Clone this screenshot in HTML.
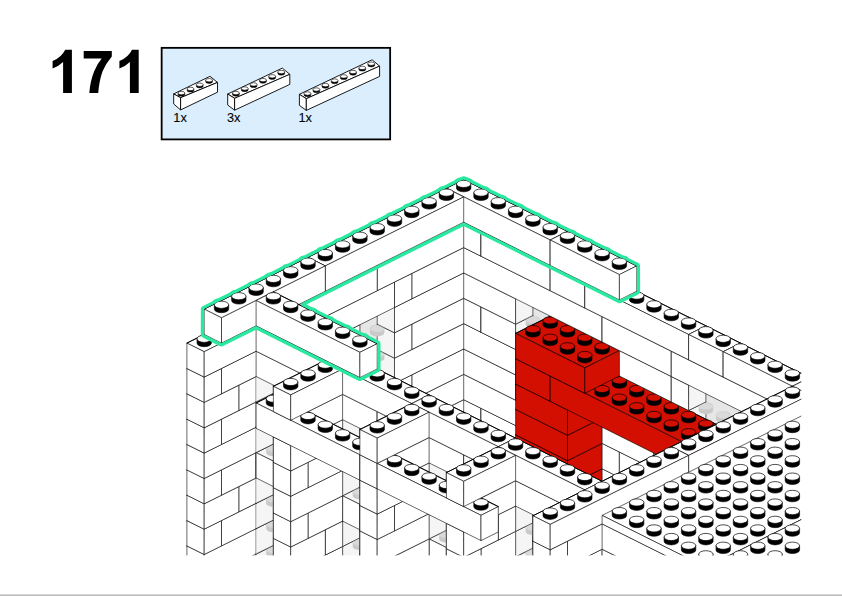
<!DOCTYPE html>
<html><head><meta charset="utf-8"><title>171</title>
<style>
html,body{margin:0;padding:0;background:#fff;}
body{width:842px;height:596px;position:relative;overflow:hidden;font-family:"Liberation Sans",sans-serif;}
</style></head><body>
<svg width="842" height="596" viewBox="0 0 842 596" style="position:absolute;left:0;top:0"><defs>
<clipPath id="cp"><rect x="180" y="0" width="623" height="557"/></clipPath>
<g id="s"><path d="M-7.2 -4.3 L-7.2 0 A7.2 3.6 0 0 0 7.2 0 L7.2 -4.3 Z" fill="#000" stroke="#000" stroke-width="0.6"/><ellipse cx="0" cy="-4.3" rx="7.2" ry="3.6" fill="#fff" stroke="#000" stroke-width="0.7"/></g>
<g id="r"><path d="M-7.2 -4.3 L-7.2 0 A7.2 3.6 0 0 0 7.2 0 L7.2 -4.3 Z" fill="#000" stroke="#000" stroke-width="0.6"/><ellipse cx="0" cy="-4.3" rx="7.2" ry="3.6" fill="#d20f00" stroke="#000" stroke-width="0.7"/></g>
<g id="g"><path d="M-7.2 -4.3 L-7.2 0 A7.2 3.6 0 0 0 7.2 0 L7.2 -4.3 Z" fill="#cfcfcf" stroke="none"/><ellipse cx="0" cy="-4.3" rx="7.2" ry="3.6" fill="#e2e2e2" stroke="#d4d4d4" stroke-width="0.5"/></g>
</defs><g clip-path="url(#cp)" stroke-linejoin="round"><polygon points="394.5,569 463.7,534.5 481,543.1 411.8,577.7" fill="#fff" stroke="#000" stroke-width="0.6"/><polygon points="394.5,569 411.8,577.7 411.8,603 394.5,594.4" fill="#fff" stroke="#000" stroke-width="0.6"/><polygon points="411.8,577.7 481,543.1 481,568.5 411.8,603" fill="#fff" stroke="#000" stroke-width="0.6"/><path d="M463.7 534.5L446.4 543.1M446.4 543.1L429.1 551.8M429.1 551.8L411.8 560.4M411.8 560.4L394.5 569M463.7 534.5L481 543.1" stroke="#000" stroke-width="1.0" stroke-linecap="round" fill="none"/>
<polygon points="463.7,551.8 481,543.1 532.9,569 515.6,577.7" fill="#fff" stroke="#000" stroke-width="0.6"/><polygon points="463.7,551.8 515.6,577.7 515.6,603 463.7,577.1" fill="#fff" stroke="#000" stroke-width="0.6"/><polygon points="515.6,577.7 532.9,569 532.9,594.4 515.6,603" fill="#fff" stroke="#000" stroke-width="0.6"/><path d="M481 543.1L498.3 551.8M498.3 551.8L515.6 560.4M515.6 560.4L532.9 569" stroke="#000" stroke-width="1.0" stroke-linecap="round" fill="none"/>
<polygon points="359.9,561 463.7,509.1 481,517.8 377.2,569.6" fill="#fff" stroke="#000" stroke-width="0.6"/><polygon points="359.9,561 377.2,569.6 377.2,594.9 359.9,586.3" fill="#fff" stroke="#000" stroke-width="0.6"/><polygon points="377.2,569.6 481,517.8 481,543.1 377.2,594.9" fill="#fff" stroke="#000" stroke-width="0.6"/><path d="M463.7 509.1L446.4 517.8M446.4 517.8L429.1 526.4M429.1 526.4L411.8 535.1M411.8 535.1L394.5 543.7M394.5 543.7L377.2 552.3M377.2 552.3L359.9 561M463.7 509.1L481 517.8" stroke="#000" stroke-width="1.0" stroke-linecap="round" fill="none"/>
<polygon points="463.7,526.4 481,517.8 567.5,561 550.2,569.6" fill="#fff" stroke="#000" stroke-width="0.6"/><polygon points="463.7,526.4 550.2,569.6 550.2,594.9 463.7,551.8" fill="#fff" stroke="#000" stroke-width="0.6"/><polygon points="550.2,569.6 567.5,561 567.5,586.3 550.2,594.9" fill="#fff" stroke="#000" stroke-width="0.6"/><path d="M481 517.8L498.3 526.4M498.3 526.4L515.6 535.1M515.6 535.1L532.9 543.7M532.9 543.7L550.2 552.3M550.2 552.3L567.5 561" stroke="#000" stroke-width="1.0" stroke-linecap="round" fill="none"/>
<polygon points="394.5,518.3 463.7,483.8 481,492.4 411.8,527" fill="#fff" stroke="#000" stroke-width="0.6"/><polygon points="394.5,518.3 411.8,527 411.8,552.3 394.5,543.7" fill="#fff" stroke="#000" stroke-width="0.6"/><polygon points="411.8,527 481,492.4 481,517.8 411.8,552.3" fill="#fff" stroke="#000" stroke-width="0.6"/><path d="M463.7 483.8L446.4 492.4M446.4 492.4L429.1 501.1M429.1 501.1L411.8 509.7M411.8 509.7L394.5 518.3M463.7 483.8L481 492.4" stroke="#000" stroke-width="1.0" stroke-linecap="round" fill="none"/>
<polygon points="463.7,501.1 481,492.4 532.9,518.3 515.6,527" fill="#fff" stroke="#000" stroke-width="0.6"/><polygon points="463.7,501.1 515.6,527 515.6,552.3 463.7,526.4" fill="#fff" stroke="#000" stroke-width="0.6"/><polygon points="515.6,527 532.9,518.3 532.9,543.7 515.6,552.3" fill="#fff" stroke="#000" stroke-width="0.6"/><path d="M481 492.4L498.3 501.1M498.3 501.1L515.6 509.7M515.6 509.7L532.9 518.3" stroke="#000" stroke-width="1.0" stroke-linecap="round" fill="none"/>
<polygon points="325.3,552.9 394.5,518.3 411.8,527 342.6,561.5" fill="#fff" stroke="#000" stroke-width="0.6"/><polygon points="325.3,552.9 342.6,561.5 342.6,586.9 325.3,578.2" fill="#fff" stroke="#000" stroke-width="0.6"/><polygon points="342.6,561.5 411.8,527 411.8,552.3 342.6,586.9" fill="#fff" stroke="#000" stroke-width="0.6"/><path d="M394.5 518.3L377.2 527M377.2 527L359.9 535.6M359.9 535.6L342.6 544.2M342.6 544.2L325.3 552.9" stroke="#000" stroke-width="1.0" stroke-linecap="round" fill="none"/>
<polygon points="515.6,527 532.9,518.3 602.1,552.9 584.8,561.5" fill="#fff" stroke="#000" stroke-width="0.6"/><polygon points="515.6,527 584.8,561.5 584.8,586.9 515.6,552.3" fill="#fff" stroke="#000" stroke-width="0.6"/><polygon points="584.8,561.5 602.1,552.9 602.1,578.2 584.8,586.9" fill="#fff" stroke="#000" stroke-width="0.6"/><path d="M532.9 518.3L550.2 527M550.2 527L567.5 535.6M567.5 535.6L584.8 544.2M584.8 544.2L602.1 552.9" stroke="#000" stroke-width="1.0" stroke-linecap="round" fill="none"/>
<polygon points="256.1,587.4 325.3,552.9 342.6,561.5 273.4,596.1" fill="#fff" stroke="#000" stroke-width="0.6"/><polygon points="256.1,587.4 273.4,596.1 273.4,621.4 256.1,612.8" fill="#fff" stroke="#000" stroke-width="0.6"/><polygon points="273.4,596.1 342.6,561.5 342.6,586.9 273.4,621.4" fill="#fff" stroke="#000" stroke-width="0.6"/><path d="M325.3 552.9L308 561.5M308 561.5L290.7 570.2M290.7 570.2L273.4 578.8M273.4 578.8L256.1 587.4" stroke="#000" stroke-width="1.0" stroke-linecap="round" fill="none"/>
<polygon points="584.8,561.5 602.1,552.9 671.3,587.4 654,596.1" fill="#fff" stroke="#000" stroke-width="0.6"/><polygon points="584.8,561.5 654,596.1 654,621.4 584.8,586.9" fill="#fff" stroke="#000" stroke-width="0.6"/><polygon points="654,596.1 671.3,587.4 671.3,612.8 654,621.4" fill="#fff" stroke="#000" stroke-width="0.6"/><path d="M602.1 552.9L619.4 561.5M619.4 561.5L636.7 570.2M636.7 570.2L654 578.8M654 578.8L671.3 587.4" stroke="#000" stroke-width="1.0" stroke-linecap="round" fill="none"/>
<polygon points="515.6,561.5 550.2,544.2 602.1,570.2 567.5,587.4" fill="#d20f00" stroke="#000" stroke-width="0.6"/><polygon points="515.6,561.5 567.5,587.4 567.5,612.8 515.6,586.9" fill="#d20f00" stroke="#000" stroke-width="0.6"/><polygon points="567.5,587.4 602.1,570.2 602.1,595.5 567.5,612.8" fill="#d20f00" stroke="#000" stroke-width="0.6"/><path d="M550.2 544.2L532.9 552.9M532.9 552.9L515.6 561.5" stroke="#000" stroke-width="1.0" stroke-linecap="round" fill="none"/>
<polygon points="359.9,510.3 463.7,458.5 481,467.1 377.2,518.9" fill="#fff" stroke="#000" stroke-width="0.6"/><polygon points="359.9,510.3 377.2,518.9 377.2,544.2 359.9,535.6" fill="#fff" stroke="#000" stroke-width="0.6"/><polygon points="377.2,518.9 481,467.1 481,492.4 377.2,544.2" fill="#fff" stroke="#000" stroke-width="0.6"/><path d="M463.7 458.5L446.4 467.1M446.4 467.1L429.1 475.7M429.1 475.7L411.8 484.4M411.8 484.4L394.5 493M394.5 493L377.2 501.6M377.2 501.6L359.9 510.3M463.7 458.5L481 467.1" stroke="#000" stroke-width="1.0" stroke-linecap="round" fill="none"/>
<polygon points="463.7,475.7 481,467.1 567.5,510.3 550.2,518.9" fill="#fff" stroke="#000" stroke-width="0.6"/><polygon points="463.7,475.7 550.2,518.9 550.2,544.2 463.7,501.1" fill="#fff" stroke="#000" stroke-width="0.6"/><polygon points="550.2,518.9 567.5,510.3 567.5,535.6 550.2,544.2" fill="#fff" stroke="#000" stroke-width="0.6"/><path d="M481 467.1L498.3 475.7M498.3 475.7L515.6 484.4M515.6 484.4L532.9 493M532.9 493L550.2 501.6M550.2 501.6L567.5 510.3" stroke="#000" stroke-width="1.0" stroke-linecap="round" fill="none"/>
<polygon points="290.7,544.8 359.9,510.3 377.2,518.9 308,553.4" fill="#fff" stroke="#000" stroke-width="0.6"/><polygon points="290.7,544.8 308,553.4 308,578.8 290.7,570.2" fill="#fff" stroke="#000" stroke-width="0.6"/><polygon points="308,553.4 377.2,518.9 377.2,544.2 308,578.8" fill="#fff" stroke="#000" stroke-width="0.6"/><path d="M359.9 510.3L342.6 518.9M342.6 518.9L325.3 527.5M325.3 527.5L308 536.2M308 536.2L290.7 544.8" stroke="#000" stroke-width="1.0" stroke-linecap="round" fill="none"/>
<polygon points="550.2,518.9 567.5,510.3 636.7,544.8 619.4,553.4" fill="#fff" stroke="#000" stroke-width="0.6"/><polygon points="550.2,518.9 619.4,553.4 619.4,578.8 550.2,544.2" fill="#fff" stroke="#000" stroke-width="0.6"/><polygon points="619.4,553.4 636.7,544.8 636.7,570.2 619.4,578.8" fill="#fff" stroke="#000" stroke-width="0.6"/><path d="M567.5 510.3L584.8 518.9M584.8 518.9L602.1 527.5M602.1 527.5L619.4 536.2M619.4 536.2L636.7 544.8" stroke="#000" stroke-width="1.0" stroke-linecap="round" fill="none"/>
<polygon points="515.6,536.2 550.2,518.9 602.1,544.8 567.5,562.1" fill="#d20f00" stroke="#000" stroke-width="0.6"/><polygon points="515.6,536.2 567.5,562.1 567.5,587.4 515.6,561.5" fill="#d20f00" stroke="#000" stroke-width="0.6"/><polygon points="567.5,562.1 602.1,544.8 602.1,570.2 567.5,587.4" fill="#d20f00" stroke="#000" stroke-width="0.6"/><path d="M550.2 518.9L532.9 527.5M532.9 527.5L515.6 536.2" stroke="#000" stroke-width="1.0" stroke-linecap="round" fill="none"/>
<polygon points="221.5,579.3 290.7,544.8 308,553.4 238.8,588" fill="#fff" stroke="#000" stroke-width="0.6"/><polygon points="221.5,579.3 238.8,588 238.8,613.3 221.5,604.7" fill="#fff" stroke="#000" stroke-width="0.6"/><polygon points="238.8,588 308,553.4 308,578.8 238.8,613.3" fill="#fff" stroke="#000" stroke-width="0.6"/><path d="M290.7 544.8L273.4 553.4M273.4 553.4L256.1 562.1M256.1 562.1L238.8 570.7M238.8 570.7L221.5 579.3" stroke="#000" stroke-width="1.0" stroke-linecap="round" fill="none"/>
<polygon points="619.4,553.4 636.7,544.8 705.9,579.3 688.6,588" fill="#fff" stroke="#000" stroke-width="0.6"/><polygon points="619.4,553.4 688.6,588 688.6,613.3 619.4,578.8" fill="#fff" stroke="#000" stroke-width="0.6"/><polygon points="688.6,588 705.9,579.3 705.9,604.7 688.6,613.3" fill="#fff" stroke="#000" stroke-width="0.6"/><path d="M636.7 544.8L654 553.4M654 553.4L671.3 562.1M671.3 562.1L688.6 570.7M688.6 570.7L705.9 579.3" stroke="#000" stroke-width="1.0" stroke-linecap="round" fill="none"/>
<polygon points="394.5,467.6 463.7,433.1 481,441.7 411.8,476.3" fill="#fff" stroke="#000" stroke-width="0.6"/><polygon points="394.5,467.6 411.8,476.3 411.8,501.6 394.5,493" fill="#fff" stroke="#000" stroke-width="0.6"/><polygon points="411.8,476.3 481,441.7 481,467.1 411.8,501.6" fill="#fff" stroke="#000" stroke-width="0.6"/><path d="M463.7 433.1L446.4 441.7M446.4 441.7L429.1 450.4M429.1 450.4L411.8 459M411.8 459L394.5 467.6M463.7 433.1L481 441.7" stroke="#000" stroke-width="1.0" stroke-linecap="round" fill="none"/>
<polygon points="463.7,450.4 481,441.7 532.9,467.6 515.6,476.3" fill="#fff" stroke="#000" stroke-width="0.6"/><polygon points="463.7,450.4 515.6,476.3 515.6,501.6 463.7,475.7" fill="#fff" stroke="#000" stroke-width="0.6"/><polygon points="515.6,476.3 532.9,467.6 532.9,493 515.6,501.6" fill="#fff" stroke="#000" stroke-width="0.6"/><path d="M481 441.7L498.3 450.4M498.3 450.4L515.6 459M515.6 459L532.9 467.6" stroke="#000" stroke-width="1.0" stroke-linecap="round" fill="none"/>
<polygon points="325.3,502.2 394.5,467.6 411.8,476.3 342.6,510.8" fill="#fff" stroke="#000" stroke-width="0.6"/><polygon points="325.3,502.2 342.6,510.8 342.6,536.2 325.3,527.5" fill="#fff" stroke="#000" stroke-width="0.6"/><polygon points="342.6,510.8 411.8,476.3 411.8,501.6 342.6,536.2" fill="#fff" stroke="#000" stroke-width="0.6"/><path d="M394.5 467.6L377.2 476.3M377.2 476.3L359.9 484.9M359.9 484.9L342.6 493.5M342.6 493.5L325.3 502.2" stroke="#000" stroke-width="1.0" stroke-linecap="round" fill="none"/>
<polygon points="515.6,476.3 532.9,467.6 602.1,502.2 584.8,510.8" fill="#fff" stroke="#000" stroke-width="0.6"/><polygon points="515.6,476.3 584.8,510.8 584.8,536.2 515.6,501.6" fill="#fff" stroke="#000" stroke-width="0.6"/><polygon points="584.8,510.8 602.1,502.2 602.1,527.5 584.8,536.2" fill="#fff" stroke="#000" stroke-width="0.6"/><path d="M532.9 467.6L550.2 476.3M550.2 476.3L567.5 484.9M567.5 484.9L584.8 493.5M584.8 493.5L602.1 502.2" stroke="#000" stroke-width="1.0" stroke-linecap="round" fill="none"/>
<polygon points="256.1,536.7 325.3,502.2 342.6,510.8 273.4,545.4" fill="#fff" stroke="#000" stroke-width="0.6"/><polygon points="256.1,536.7 273.4,545.4 273.4,570.7 256.1,562.1" fill="#fff" stroke="#000" stroke-width="0.6"/><polygon points="273.4,545.4 342.6,510.8 342.6,536.2 273.4,570.7" fill="#fff" stroke="#000" stroke-width="0.6"/><path d="M325.3 502.2L308 510.8M308 510.8L290.7 519.5M290.7 519.5L273.4 528.1M273.4 528.1L256.1 536.7" stroke="#000" stroke-width="1.0" stroke-linecap="round" fill="none"/>
<polygon points="584.8,510.8 602.1,502.2 671.3,536.7 654,545.4" fill="#fff" stroke="#000" stroke-width="0.6"/><polygon points="584.8,510.8 654,545.4 654,570.7 584.8,536.2" fill="#fff" stroke="#000" stroke-width="0.6"/><polygon points="654,545.4 671.3,536.7 671.3,562.1 654,570.7" fill="#fff" stroke="#000" stroke-width="0.6"/><path d="M602.1 502.2L619.4 510.8M619.4 510.8L636.7 519.5M636.7 519.5L654 528.1M654 528.1L671.3 536.7" stroke="#000" stroke-width="1.0" stroke-linecap="round" fill="none"/>
<polygon points="515.6,510.8 550.2,493.5 602.1,519.5 567.5,536.7" fill="#d20f00" stroke="#000" stroke-width="0.6"/><polygon points="515.6,510.8 567.5,536.7 567.5,562.1 515.6,536.2" fill="#d20f00" stroke="#000" stroke-width="0.6"/><polygon points="567.5,536.7 602.1,519.5 602.1,544.8 567.5,562.1" fill="#d20f00" stroke="#000" stroke-width="0.6"/><path d="M550.2 493.5L532.9 502.2M532.9 502.2L515.6 510.8" stroke="#000" stroke-width="1.0" stroke-linecap="round" fill="none"/>
<polygon points="204.2,562.6 256.1,536.7 273.4,545.4 221.5,571.3" fill="#fff" stroke="#000" stroke-width="0.6"/><polygon points="204.2,562.6 221.5,571.3 221.5,596.6 204.2,588" fill="#fff" stroke="#000" stroke-width="0.6"/><polygon points="221.5,571.3 273.4,545.4 273.4,570.7 221.5,596.6" fill="#fff" stroke="#000" stroke-width="0.6"/><path d="M256.1 536.7L238.8 545.4M238.8 545.4L221.5 554M221.5 554L204.2 562.6" stroke="#000" stroke-width="1.0" stroke-linecap="round" fill="none"/>
<polygon points="654,545.4 671.3,536.7 740.5,571.3 723.2,579.9" fill="#fff" stroke="#000" stroke-width="0.6"/><polygon points="654,545.4 723.2,579.9 723.2,605.2 654,570.7" fill="#fff" stroke="#000" stroke-width="0.6"/><polygon points="723.2,579.9 740.5,571.3 740.5,596.6 723.2,605.2" fill="#fff" stroke="#000" stroke-width="0.6"/><path d="M671.3 536.7L688.6 545.4M688.6 545.4L705.9 554M705.9 554L723.2 562.6M723.2 562.6L740.5 571.3" stroke="#000" stroke-width="1.0" stroke-linecap="round" fill="none"/>
<polygon points="256.1,554 273.4,545.4 273.4,545.4 256.1,554" fill="#fff" stroke="#000" stroke-width="0.6"/><polygon points="256.1,554 256.1,554 256.1,579.3 256.1,579.3" fill="#fff" stroke="#000" stroke-width="0.6"/><polygon points="256.1,554 273.4,545.4 273.4,570.7 256.1,579.3" fill="#fff" stroke="#000" stroke-width="0.6"/>
<polygon points="273.4,545.4 290.7,554 290.7,579.3 273.4,570.7" fill="rgba(130,130,130,0.13)" stroke="none" stroke-width="0"/><polygon points="256.1,554 273.4,562.6 273.4,588 256.1,579.3" fill="rgba(140,140,140,0.09)" stroke="none" stroke-width="0"/><polygon points="273.4,562.6 290.7,554 290.7,579.3 273.4,588" fill="rgba(140,140,140,0.09)" stroke="none" stroke-width="0"/><path d="M256.1 554.6V578.7" stroke="#fff" stroke-width="1.3"/><path d="M256.1 554V579.3" stroke="rgba(120,120,120,0.28)" stroke-width="0.6"/><path d="M273.4 562.6V588" stroke="rgba(120,120,120,0.28)" stroke-width="0.6"/><path d="M290.7 554V579.3" stroke="rgba(120,120,120,0.28)" stroke-width="0.6"/><path d="M273.4 545.4V570.7" stroke="rgba(120,120,120,0.28)" stroke-width="0.6"/><use href="#g" x="273.4" y="554"/>
<polygon points="273.4,562.6 290.7,554 308,562.6 290.7,571.3" fill="#fff" stroke="#000" stroke-width="0.6"/><polygon points="273.4,562.6 290.7,571.3 290.7,596.6 273.4,588" fill="#fff" stroke="#000" stroke-width="0.6"/><polygon points="290.7,571.3 308,562.6 308,588 290.7,596.6" fill="#fff" stroke="#000" stroke-width="0.6"/><path d="M290.7 554L273.4 562.6M290.7 554L308 562.6" stroke="#000" stroke-width="1.0" stroke-linecap="round" fill="none"/>
<polygon points="359.9,459.6 463.7,407.8 481,416.4 377.2,468.2" fill="#fff" stroke="#000" stroke-width="0.6"/><polygon points="359.9,459.6 377.2,468.2 377.2,493.5 359.9,484.9" fill="#fff" stroke="#000" stroke-width="0.6"/><polygon points="377.2,468.2 481,416.4 481,441.7 377.2,493.5" fill="#fff" stroke="#000" stroke-width="0.6"/><path d="M463.7 407.8L446.4 416.4M446.4 416.4L429.1 425M429.1 425L411.8 433.7M411.8 433.7L394.5 442.3M394.5 442.3L377.2 450.9M377.2 450.9L359.9 459.6M463.7 407.8L481 416.4" stroke="#000" stroke-width="1.0" stroke-linecap="round" fill="none"/>
<polygon points="463.7,425 481,416.4 567.5,459.6 550.2,468.2" fill="#fff" stroke="#000" stroke-width="0.6"/><polygon points="463.7,425 550.2,468.2 550.2,493.5 463.7,450.4" fill="#fff" stroke="#000" stroke-width="0.6"/><polygon points="550.2,468.2 567.5,459.6 567.5,484.9 550.2,493.5" fill="#fff" stroke="#000" stroke-width="0.6"/><path d="M481 416.4L498.3 425M498.3 425L515.6 433.7M515.6 433.7L532.9 442.3M532.9 442.3L550.2 450.9M550.2 450.9L567.5 459.6" stroke="#000" stroke-width="1.0" stroke-linecap="round" fill="none"/>
<polygon points="290.7,494.1 359.9,459.6 377.2,468.2 308,502.7" fill="#fff" stroke="#000" stroke-width="0.6"/><polygon points="290.7,494.1 308,502.7 308,528.1 290.7,519.5" fill="#fff" stroke="#000" stroke-width="0.6"/><polygon points="308,502.7 377.2,468.2 377.2,493.5 308,528.1" fill="#fff" stroke="#000" stroke-width="0.6"/><path d="M359.9 459.6L342.6 468.2M342.6 468.2L325.3 476.8M325.3 476.8L308 485.5M308 485.5L290.7 494.1" stroke="#000" stroke-width="1.0" stroke-linecap="round" fill="none"/>
<polygon points="550.2,468.2 567.5,459.6 636.7,494.1 619.4,502.7" fill="#fff" stroke="#000" stroke-width="0.6"/><polygon points="550.2,468.2 619.4,502.7 619.4,528.1 550.2,493.5" fill="#fff" stroke="#000" stroke-width="0.6"/><polygon points="619.4,502.7 636.7,494.1 636.7,519.5 619.4,528.1" fill="#fff" stroke="#000" stroke-width="0.6"/><path d="M567.5 459.6L584.8 468.2M584.8 468.2L602.1 476.8M602.1 476.8L619.4 485.5M619.4 485.5L636.7 494.1" stroke="#000" stroke-width="1.0" stroke-linecap="round" fill="none"/>
<polygon points="515.6,485.5 550.2,468.2 602.1,494.1 567.5,511.4" fill="#d20f00" stroke="#000" stroke-width="0.6"/><polygon points="515.6,485.5 567.5,511.4 567.5,536.7 515.6,510.8" fill="#d20f00" stroke="#000" stroke-width="0.6"/><polygon points="567.5,511.4 602.1,494.1 602.1,519.5 567.5,536.7" fill="#d20f00" stroke="#000" stroke-width="0.6"/><path d="M550.2 468.2L532.9 476.8M532.9 476.8L515.6 485.5" stroke="#000" stroke-width="1.0" stroke-linecap="round" fill="none"/>
<polygon points="186.9,545.9 290.7,494.1 308,502.7 204.2,554.5" fill="#fff" stroke="#000" stroke-width="0.6"/><polygon points="186.9,545.9 204.2,554.5 204.2,579.9 186.9,571.3" fill="#fff" stroke="#000" stroke-width="0.6"/><polygon points="204.2,554.5 308,502.7 308,528.1 204.2,579.9" fill="#fff" stroke="#000" stroke-width="0.6"/><path d="M290.7 494.1L273.4 502.7M273.4 502.7L256.1 511.4M256.1 511.4L238.8 520M238.8 520L221.5 528.6M221.5 528.6L204.2 537.3M204.2 537.3L186.9 545.9" stroke="#000" stroke-width="1.0" stroke-linecap="round" fill="none"/>
<polygon points="619.4,502.7 636.7,494.1 705.9,528.6 688.6,537.3" fill="#fff" stroke="#000" stroke-width="0.6"/><polygon points="619.4,502.7 688.6,537.3 688.6,562.6 619.4,528.1" fill="#fff" stroke="#000" stroke-width="0.6"/><polygon points="688.6,537.3 705.9,528.6 705.9,554 688.6,562.6" fill="#fff" stroke="#000" stroke-width="0.6"/><path d="M636.7 494.1L654 502.7M654 502.7L671.3 511.4M671.3 511.4L688.6 520M688.6 520L705.9 528.6" stroke="#000" stroke-width="1.0" stroke-linecap="round" fill="none"/>
<polygon points="256.1,528.6 273.4,520 273.4,520 256.1,528.6" fill="#fff" stroke="#000" stroke-width="0.6"/><polygon points="256.1,528.6 256.1,528.6 256.1,554 256.1,554" fill="#fff" stroke="#000" stroke-width="0.6"/><polygon points="256.1,528.6 273.4,520 273.4,545.4 256.1,554" fill="#fff" stroke="#000" stroke-width="0.6"/>
<polygon points="273.4,520 290.7,528.6 290.7,554 273.4,545.4" fill="rgba(130,130,130,0.13)" stroke="none" stroke-width="0"/><polygon points="256.1,528.6 273.4,537.3 273.4,562.6 256.1,554" fill="rgba(140,140,140,0.09)" stroke="none" stroke-width="0"/><polygon points="273.4,537.3 290.7,528.6 290.7,554 273.4,562.6" fill="rgba(140,140,140,0.09)" stroke="none" stroke-width="0"/><path d="M256.1 529.2V553.4" stroke="#fff" stroke-width="1.3"/><path d="M256.1 528.6V554" stroke="rgba(120,120,120,0.28)" stroke-width="0.6"/><path d="M273.4 537.3V562.6" stroke="rgba(120,120,120,0.28)" stroke-width="0.6"/><path d="M290.7 528.6V554" stroke="rgba(120,120,120,0.28)" stroke-width="0.6"/><path d="M273.4 520V545.4" stroke="rgba(120,120,120,0.28)" stroke-width="0.6"/><use href="#g" x="273.4" y="528.6"/>
<polygon points="688.6,537.3 705.9,528.6 775.1,563.2 757.8,571.8" fill="#fff" stroke="#000" stroke-width="0.6"/><polygon points="688.6,537.3 757.8,571.8 757.8,597.2 688.6,562.6" fill="#fff" stroke="#000" stroke-width="0.6"/><polygon points="757.8,571.8 775.1,563.2 775.1,588.5 757.8,597.2" fill="#fff" stroke="#000" stroke-width="0.6"/><path d="M705.9 528.6L723.2 537.3M723.2 537.3L740.5 545.9M740.5 545.9L757.8 554.5M757.8 554.5L775.1 563.2" stroke="#000" stroke-width="1.0" stroke-linecap="round" fill="none"/>
<polygon points="273.4,537.3 290.7,528.6 342.6,554.5 325.3,563.2" fill="#fff" stroke="#000" stroke-width="0.6"/><polygon points="273.4,537.3 325.3,563.2 325.3,588.5 273.4,562.6" fill="#fff" stroke="#000" stroke-width="0.6"/><polygon points="325.3,563.2 342.6,554.5 342.6,579.9 325.3,588.5" fill="#fff" stroke="#000" stroke-width="0.6"/><path d="M290.7 528.6L273.4 537.3M290.7 528.6L308 537.3M308 537.3L325.3 545.9M325.3 545.9L342.6 554.5" stroke="#000" stroke-width="1.0" stroke-linecap="round" fill="none"/>
<polygon points="325.3,563.2 342.6,554.5 359.9,563.2 342.6,571.8" fill="#fff" stroke="#000" stroke-width="0.6"/><polygon points="325.3,563.2 342.6,571.8 342.6,597.2 325.3,588.5" fill="#fff" stroke="#000" stroke-width="0.6"/><polygon points="342.6,571.8 359.9,563.2 359.9,588.5 342.6,597.2" fill="#fff" stroke="#000" stroke-width="0.6"/><path d="M342.6 554.5L359.9 563.2" stroke="#000" stroke-width="1.0" stroke-linecap="round" fill="none"/>
<polygon points="394.5,416.9 463.7,382.4 481,391 411.8,425.6" fill="#fff" stroke="#000" stroke-width="0.6"/><polygon points="394.5,416.9 411.8,425.6 411.8,450.9 394.5,442.3" fill="#fff" stroke="#000" stroke-width="0.6"/><polygon points="411.8,425.6 481,391 481,416.4 411.8,450.9" fill="#fff" stroke="#000" stroke-width="0.6"/><path d="M463.7 382.4L446.4 391M446.4 391L429.1 399.7M429.1 399.7L411.8 408.3M411.8 408.3L394.5 416.9M463.7 382.4L481 391" stroke="#000" stroke-width="1.0" stroke-linecap="round" fill="none"/>
<polygon points="463.7,399.7 481,391 498.3,399.7 481,408.3" fill="#fff" stroke="#000" stroke-width="0.6"/><polygon points="463.7,399.7 481,408.3 481,433.7 463.7,425" fill="#fff" stroke="#000" stroke-width="0.6"/><polygon points="481,408.3 498.3,399.7 498.3,425 481,433.7" fill="#fff" stroke="#000" stroke-width="0.6"/><path d="M481 391L498.3 399.7" stroke="#000" stroke-width="1.0" stroke-linecap="round" fill="none"/>
<polygon points="481,408.3 498.3,399.7 567.5,434.2 550.2,442.8" fill="#fff" stroke="#000" stroke-width="0.6"/><polygon points="481,408.3 550.2,442.8 550.2,468.2 481,433.7" fill="#fff" stroke="#000" stroke-width="0.6"/><polygon points="550.2,442.8 567.5,434.2 567.5,459.6 550.2,468.2" fill="#fff" stroke="#000" stroke-width="0.6"/><path d="M498.3 399.7L515.6 408.3M515.6 408.3L532.9 416.9M532.9 416.9L550.2 425.6M550.2 425.6L567.5 434.2" stroke="#000" stroke-width="1.0" stroke-linecap="round" fill="none"/>
<polygon points="325.3,451.5 394.5,416.9 411.8,425.6 342.6,460.1" fill="#fff" stroke="#000" stroke-width="0.6"/><polygon points="325.3,451.5 342.6,460.1 342.6,485.5 325.3,476.8" fill="#fff" stroke="#000" stroke-width="0.6"/><polygon points="342.6,460.1 411.8,425.6 411.8,450.9 342.6,485.5" fill="#fff" stroke="#000" stroke-width="0.6"/><path d="M394.5 416.9L377.2 425.6M377.2 425.6L359.9 434.2M359.9 434.2L342.6 442.8M342.6 442.8L325.3 451.5" stroke="#000" stroke-width="1.0" stroke-linecap="round" fill="none"/>
<polygon points="550.2,442.8 567.5,434.2 636.7,468.8 619.4,477.4" fill="#fff" stroke="#000" stroke-width="0.6"/><polygon points="550.2,442.8 619.4,477.4 619.4,502.7 550.2,468.2" fill="#fff" stroke="#000" stroke-width="0.6"/><polygon points="619.4,477.4 636.7,468.8 636.7,494.1 619.4,502.7" fill="#fff" stroke="#000" stroke-width="0.6"/><path d="M567.5 434.2L584.8 442.8M584.8 442.8L602.1 451.5M602.1 451.5L619.4 460.1M619.4 460.1L636.7 468.8" stroke="#000" stroke-width="1.0" stroke-linecap="round" fill="none"/>
<polygon points="515.6,460.1 550.2,442.8 602.1,468.8 567.5,486" fill="#d20f00" stroke="#000" stroke-width="0.6"/><polygon points="515.6,460.1 567.5,486 567.5,511.4 515.6,485.5" fill="#d20f00" stroke="#000" stroke-width="0.6"/><polygon points="567.5,486 602.1,468.8 602.1,494.1 567.5,511.4" fill="#d20f00" stroke="#000" stroke-width="0.6"/><path d="M550.2 442.8L532.9 451.5M532.9 451.5L515.6 460.1" stroke="#000" stroke-width="1.0" stroke-linecap="round" fill="none"/>
<polygon points="256.1,486 325.3,451.5 342.6,460.1 273.4,494.7" fill="#fff" stroke="#000" stroke-width="0.6"/><polygon points="256.1,486 273.4,494.7 273.4,520 256.1,511.4" fill="#fff" stroke="#000" stroke-width="0.6"/><polygon points="273.4,494.7 342.6,460.1 342.6,485.5 273.4,520" fill="#fff" stroke="#000" stroke-width="0.6"/><path d="M325.3 451.5L308 460.1M308 460.1L290.7 468.8M290.7 468.8L273.4 477.4M273.4 477.4L256.1 486" stroke="#000" stroke-width="1.0" stroke-linecap="round" fill="none"/>
<polygon points="619.4,477.4 636.7,468.8 705.9,503.3 688.6,511.9" fill="#fff" stroke="#000" stroke-width="0.6"/><polygon points="619.4,477.4 688.6,511.9 688.6,537.3 619.4,502.7" fill="#fff" stroke="#000" stroke-width="0.6"/><polygon points="688.6,511.9 705.9,503.3 705.9,528.6 688.6,537.3" fill="#fff" stroke="#000" stroke-width="0.6"/><path d="M636.7 468.8L654 477.4M654 477.4L671.3 486M671.3 486L688.6 494.7M688.6 494.7L705.9 503.3" stroke="#000" stroke-width="1.0" stroke-linecap="round" fill="none"/>
<polygon points="204.2,511.9 256.1,486 273.4,494.7 221.5,520.6" fill="#fff" stroke="#000" stroke-width="0.6"/><polygon points="204.2,511.9 221.5,520.6 221.5,545.9 204.2,537.3" fill="#fff" stroke="#000" stroke-width="0.6"/><polygon points="221.5,520.6 273.4,494.7 273.4,520 221.5,545.9" fill="#fff" stroke="#000" stroke-width="0.6"/><path d="M256.1 486L238.8 494.7M238.8 494.7L221.5 503.3M221.5 503.3L204.2 511.9" stroke="#000" stroke-width="1.0" stroke-linecap="round" fill="none"/>
<polygon points="256.1,503.3 273.4,494.7 273.4,494.7 256.1,503.3" fill="#fff" stroke="#000" stroke-width="0.6"/><polygon points="256.1,503.3 256.1,503.3 256.1,528.6 256.1,528.6" fill="#fff" stroke="#000" stroke-width="0.6"/><polygon points="256.1,503.3 273.4,494.7 273.4,520 256.1,528.6" fill="#fff" stroke="#000" stroke-width="0.6"/>
<polygon points="273.4,494.7 290.7,503.3 290.7,528.6 273.4,520" fill="rgba(130,130,130,0.13)" stroke="none" stroke-width="0"/><polygon points="256.1,503.3 273.4,511.9 273.4,537.3 256.1,528.6" fill="rgba(140,140,140,0.09)" stroke="none" stroke-width="0"/><polygon points="273.4,511.9 290.7,503.3 290.7,528.6 273.4,537.3" fill="rgba(140,140,140,0.09)" stroke="none" stroke-width="0"/><path d="M256.1 503.9V528" stroke="#fff" stroke-width="1.3"/><path d="M256.1 503.3V528.6" stroke="rgba(120,120,120,0.28)" stroke-width="0.6"/><path d="M273.4 511.9V537.3" stroke="rgba(120,120,120,0.28)" stroke-width="0.6"/><path d="M290.7 503.3V528.6" stroke="rgba(120,120,120,0.28)" stroke-width="0.6"/><path d="M273.4 494.7V520" stroke="rgba(120,120,120,0.28)" stroke-width="0.6"/><use href="#g" x="273.4" y="503.3"/>
<polygon points="688.6,511.9 705.9,503.3 775.1,537.8 757.8,546.5" fill="#fff" stroke="#000" stroke-width="0.6"/><polygon points="688.6,511.9 757.8,546.5 757.8,571.8 688.6,537.3" fill="#fff" stroke="#000" stroke-width="0.6"/><polygon points="757.8,546.5 775.1,537.8 775.1,563.2 757.8,571.8" fill="#fff" stroke="#000" stroke-width="0.6"/><path d="M705.9 503.3L723.2 511.9M723.2 511.9L740.5 520.6M740.5 520.6L757.8 529.2M757.8 529.2L775.1 537.8" stroke="#000" stroke-width="1.0" stroke-linecap="round" fill="none"/>
<polygon points="273.4,511.9 290.7,503.3 308,511.9 290.7,520.6" fill="#fff" stroke="#000" stroke-width="0.6"/><polygon points="273.4,511.9 290.7,520.6 290.7,545.9 273.4,537.3" fill="#fff" stroke="#000" stroke-width="0.6"/><polygon points="290.7,520.6 308,511.9 308,537.3 290.7,545.9" fill="#fff" stroke="#000" stroke-width="0.6"/><path d="M290.7 503.3L273.4 511.9M290.7 503.3L308 511.9" stroke="#000" stroke-width="1.0" stroke-linecap="round" fill="none"/>
<polygon points="186.9,520.6 204.2,511.9 221.5,520.6 204.2,529.2" fill="#fff" stroke="#000" stroke-width="0.6"/><polygon points="186.9,520.6 204.2,529.2 204.2,554.5 186.9,545.9" fill="#fff" stroke="#000" stroke-width="0.6"/><polygon points="204.2,529.2 221.5,520.6 221.5,545.9 204.2,554.5" fill="#fff" stroke="#000" stroke-width="0.6"/><path d="M204.2 511.9L186.9 520.6" stroke="#000" stroke-width="1.0" stroke-linecap="round" fill="none"/>
<polygon points="290.7,520.6 308,511.9 359.9,537.8 342.6,546.5" fill="#fff" stroke="#000" stroke-width="0.6"/><polygon points="290.7,520.6 342.6,546.5 342.6,571.8 290.7,545.9" fill="#fff" stroke="#000" stroke-width="0.6"/><polygon points="342.6,546.5 359.9,537.8 359.9,563.2 342.6,571.8" fill="#fff" stroke="#000" stroke-width="0.6"/><path d="M308 511.9L325.3 520.6M325.3 520.6L342.6 529.2M342.6 529.2L359.9 537.8" stroke="#000" stroke-width="1.0" stroke-linecap="round" fill="none"/>
<polygon points="757.8,546.5 775.1,537.8 878.9,589.6 861.6,598.3" fill="#fff" stroke="#000" stroke-width="0.6"/><polygon points="757.8,546.5 861.6,598.3 861.6,623.6 757.8,571.8" fill="#fff" stroke="#000" stroke-width="0.6"/><polygon points="861.6,598.3 878.9,589.6 878.9,615 861.6,623.6" fill="#fff" stroke="#000" stroke-width="0.6"/><path d="M775.1 537.8L792.4 546.5M792.4 546.5L809.7 555.1M809.7 555.1L827 563.7M827 563.7L844.3 572.4M844.3 572.4L861.6 581M861.6 581L878.9 589.6" stroke="#000" stroke-width="1.0" stroke-linecap="round" fill="none"/>
<polygon points="359.9,537.8 377.2,546.5 377.2,571.8 359.9,563.2" fill="rgba(130,130,130,0.13)" stroke="none" stroke-width="0"/><polygon points="342.6,546.5 359.9,555.1 359.9,580.4 342.6,571.8" fill="rgba(140,140,140,0.09)" stroke="none" stroke-width="0"/><polygon points="359.9,555.1 377.2,546.5 377.2,571.8 359.9,580.4" fill="rgba(140,140,140,0.09)" stroke="none" stroke-width="0"/><path d="M342.6 547.1V571.2" stroke="#fff" stroke-width="1.3"/><path d="M342.6 546.5V571.8" stroke="rgba(120,120,120,0.28)" stroke-width="0.6"/><path d="M359.9 555.1V580.4" stroke="rgba(120,120,120,0.28)" stroke-width="0.6"/><path d="M377.2 546.5V571.8" stroke="rgba(120,120,120,0.28)" stroke-width="0.6"/><path d="M359.9 537.8V563.2" stroke="rgba(120,120,120,0.28)" stroke-width="0.6"/><use href="#g" x="359.9" y="546.5"/>
<polygon points="290.7,555.1 325.3,537.8 342.6,546.5 308,563.7" fill="#fff" stroke="#000" stroke-width="0.6"/><polygon points="290.7,555.1 308,563.7 308,589.1 290.7,580.4" fill="#fff" stroke="#000" stroke-width="0.6"/><polygon points="308,563.7 342.6,546.5 342.6,571.8 308,589.1" fill="#fff" stroke="#000" stroke-width="0.6"/><path d="M325.3 537.8L308 546.5M308 546.5L290.7 555.1" stroke="#000" stroke-width="1.0" stroke-linecap="round" fill="none"/>
<polygon points="359.9,555.1 377.2,546.5 446.4,581 429.1,589.6" fill="#fff" stroke="#000" stroke-width="0.6"/><polygon points="359.9,555.1 429.1,589.6 429.1,615 359.9,580.4" fill="#fff" stroke="#000" stroke-width="0.6"/><polygon points="429.1,589.6 446.4,581 446.4,606.4 429.1,615" fill="#fff" stroke="#000" stroke-width="0.6"/><path d="M377.2 546.5L359.9 555.1M377.2 546.5L394.5 555.1M394.5 555.1L411.8 563.7M411.8 563.7L429.1 572.4M429.1 572.4L446.4 581" stroke="#000" stroke-width="1.0" stroke-linecap="round" fill="none"/>
<polygon points="273.4,563.7 290.7,555.1 308,563.7 290.7,572.4" fill="#fff" stroke="#000" stroke-width="0.6"/><polygon points="273.4,563.7 290.7,572.4 290.7,597.7 273.4,589.1" fill="#fff" stroke="#000" stroke-width="0.6"/><polygon points="290.7,572.4 308,563.7 308,589.1 290.7,597.7" fill="#fff" stroke="#000" stroke-width="0.6"/><path d="M290.7 555.1L273.4 563.7" stroke="#000" stroke-width="1.0" stroke-linecap="round" fill="none"/>
<polygon points="359.9,408.9 463.7,357.1 481,365.7 377.2,417.5" fill="#fff" stroke="#000" stroke-width="0.6"/><polygon points="359.9,408.9 377.2,417.5 377.2,442.8 359.9,434.2" fill="#fff" stroke="#000" stroke-width="0.6"/><polygon points="377.2,417.5 481,365.7 481,391 377.2,442.8" fill="#fff" stroke="#000" stroke-width="0.6"/><path d="M463.7 357.1L446.4 365.7M446.4 365.7L429.1 374.3M429.1 374.3L411.8 383M411.8 383L394.5 391.6M394.5 391.6L377.2 400.2M377.2 400.2L359.9 408.9M463.7 357.1L481 365.7" stroke="#000" stroke-width="1.0" stroke-linecap="round" fill="none"/>
<polygon points="463.7,374.3 481,365.7 567.5,408.9 550.2,417.5" fill="#fff" stroke="#000" stroke-width="0.6"/><polygon points="463.7,374.3 550.2,417.5 550.2,442.8 463.7,399.7" fill="#fff" stroke="#000" stroke-width="0.6"/><polygon points="550.2,417.5 567.5,408.9 567.5,434.2 550.2,442.8" fill="#fff" stroke="#000" stroke-width="0.6"/><path d="M481 365.7L498.3 374.3M498.3 374.3L515.6 383M515.6 383L532.9 391.6M532.9 391.6L550.2 400.2M550.2 400.2L567.5 408.9" stroke="#000" stroke-width="1.0" stroke-linecap="round" fill="none"/>
<polygon points="290.7,443.4 359.9,408.9 377.2,417.5 308,452" fill="#fff" stroke="#000" stroke-width="0.6"/><polygon points="290.7,443.4 308,452 308,477.4 290.7,468.8" fill="#fff" stroke="#000" stroke-width="0.6"/><polygon points="308,452 377.2,417.5 377.2,442.8 308,477.4" fill="#fff" stroke="#000" stroke-width="0.6"/><path d="M359.9 408.9L342.6 417.5M342.6 417.5L325.3 426.1M325.3 426.1L308 434.8M308 434.8L290.7 443.4" stroke="#000" stroke-width="1.0" stroke-linecap="round" fill="none"/>
<polygon points="550.2,417.5 567.5,408.9 636.7,443.4 619.4,452" fill="#fff" stroke="#000" stroke-width="0.6"/><polygon points="550.2,417.5 619.4,452 619.4,477.4 550.2,442.8" fill="#fff" stroke="#000" stroke-width="0.6"/><polygon points="619.4,452 636.7,443.4 636.7,468.8 619.4,477.4" fill="#fff" stroke="#000" stroke-width="0.6"/><path d="M567.5 408.9L584.8 417.5M584.8 417.5L602.1 426.1M602.1 426.1L619.4 434.8M619.4 434.8L636.7 443.4" stroke="#000" stroke-width="1.0" stroke-linecap="round" fill="none"/>
<polygon points="515.6,434.8 550.2,417.5 602.1,443.4 567.5,460.7" fill="#d20f00" stroke="#000" stroke-width="0.6"/><polygon points="515.6,434.8 567.5,460.7 567.5,486 515.6,460.1" fill="#d20f00" stroke="#000" stroke-width="0.6"/><polygon points="567.5,460.7 602.1,443.4 602.1,468.8 567.5,486" fill="#d20f00" stroke="#000" stroke-width="0.6"/><path d="M550.2 417.5L532.9 426.1M532.9 426.1L515.6 434.8" stroke="#000" stroke-width="1.0" stroke-linecap="round" fill="none"/>
<polygon points="221.5,477.9 290.7,443.4 308,452 238.8,486.6" fill="#fff" stroke="#000" stroke-width="0.6"/><polygon points="221.5,477.9 238.8,486.6 238.8,511.9 221.5,503.3" fill="#fff" stroke="#000" stroke-width="0.6"/><polygon points="238.8,486.6 308,452 308,477.4 238.8,511.9" fill="#fff" stroke="#000" stroke-width="0.6"/><path d="M290.7 443.4L273.4 452M273.4 452L256.1 460.7M256.1 460.7L238.8 469.3M238.8 469.3L221.5 477.9" stroke="#000" stroke-width="1.0" stroke-linecap="round" fill="none"/>
<polygon points="619.4,452 636.7,443.4 705.9,477.9 688.6,486.6" fill="#fff" stroke="#000" stroke-width="0.6"/><polygon points="619.4,452 688.6,486.6 688.6,511.9 619.4,477.4" fill="#fff" stroke="#000" stroke-width="0.6"/><polygon points="688.6,486.6 705.9,477.9 705.9,503.3 688.6,511.9" fill="#fff" stroke="#000" stroke-width="0.6"/><path d="M636.7 443.4L654 452M654 452L671.3 460.7M671.3 460.7L688.6 469.3M688.6 469.3L705.9 477.9" stroke="#000" stroke-width="1.0" stroke-linecap="round" fill="none"/>
<polygon points="256.1,477.9 273.4,469.3 273.4,469.3 256.1,477.9" fill="#fff" stroke="#000" stroke-width="0.6"/><polygon points="256.1,477.9 256.1,477.9 256.1,503.3 256.1,503.3" fill="#fff" stroke="#000" stroke-width="0.6"/><polygon points="256.1,477.9 273.4,469.3 273.4,494.7 256.1,503.3" fill="#fff" stroke="#000" stroke-width="0.6"/>
<polygon points="273.4,469.3 290.7,477.9 290.7,503.3 273.4,494.7" fill="rgba(130,130,130,0.13)" stroke="none" stroke-width="0"/><polygon points="256.1,477.9 273.4,486.6 273.4,511.9 256.1,503.3" fill="rgba(140,140,140,0.09)" stroke="none" stroke-width="0"/><polygon points="273.4,486.6 290.7,477.9 290.7,503.3 273.4,511.9" fill="rgba(140,140,140,0.09)" stroke="none" stroke-width="0"/><path d="M256.1 478.5V502.7" stroke="#fff" stroke-width="1.3"/><path d="M256.1 477.9V503.3" stroke="rgba(120,120,120,0.28)" stroke-width="0.6"/><path d="M273.4 486.6V511.9" stroke="rgba(120,120,120,0.28)" stroke-width="0.6"/><path d="M290.7 477.9V503.3" stroke="rgba(120,120,120,0.28)" stroke-width="0.6"/><path d="M273.4 469.3V494.7" stroke="rgba(120,120,120,0.28)" stroke-width="0.6"/>
<polygon points="186.9,495.2 221.5,477.9 238.8,486.6 204.2,503.8" fill="#fff" stroke="#000" stroke-width="0.6"/><polygon points="186.9,495.2 204.2,503.8 204.2,529.2 186.9,520.6" fill="#fff" stroke="#000" stroke-width="0.6"/><polygon points="204.2,503.8 238.8,486.6 238.8,511.9 204.2,529.2" fill="#fff" stroke="#000" stroke-width="0.6"/><path d="M221.5 477.9L204.2 486.6M204.2 486.6L186.9 495.2" stroke="#000" stroke-width="1.0" stroke-linecap="round" fill="none"/>
<polygon points="688.6,486.6 705.9,477.9 775.1,512.5 757.8,521.1" fill="#fff" stroke="#000" stroke-width="0.6"/><polygon points="688.6,486.6 757.8,521.1 757.8,546.5 688.6,511.9" fill="#fff" stroke="#000" stroke-width="0.6"/><polygon points="757.8,521.1 775.1,512.5 775.1,537.8 757.8,546.5" fill="#fff" stroke="#000" stroke-width="0.6"/><path d="M705.9 477.9L723.2 486.6M723.2 486.6L740.5 495.2M740.5 495.2L757.8 503.8M757.8 503.8L775.1 512.5" stroke="#000" stroke-width="1.0" stroke-linecap="round" fill="none"/>
<polygon points="273.4,486.6 290.7,477.9 342.6,503.8 325.3,512.5" fill="#fff" stroke="#000" stroke-width="0.6"/><polygon points="273.4,486.6 325.3,512.5 325.3,537.8 273.4,511.9" fill="#fff" stroke="#000" stroke-width="0.6"/><polygon points="325.3,512.5 342.6,503.8 342.6,529.2 325.3,537.8" fill="#fff" stroke="#000" stroke-width="0.6"/><path d="M290.7 477.9L308 486.6M308 486.6L325.3 495.2M325.3 495.2L342.6 503.8" stroke="#000" stroke-width="1.0" stroke-linecap="round" fill="none"/>
<polygon points="325.3,512.5 342.6,503.8 359.9,512.5 342.6,521.1" fill="#fff" stroke="#000" stroke-width="0.6"/><polygon points="325.3,512.5 342.6,521.1 342.6,546.5 325.3,537.8" fill="#fff" stroke="#000" stroke-width="0.6"/><polygon points="342.6,521.1 359.9,512.5 359.9,537.8 342.6,546.5" fill="#fff" stroke="#000" stroke-width="0.6"/><path d="M342.6 503.8L359.9 512.5" stroke="#000" stroke-width="1.0" stroke-linecap="round" fill="none"/>
<polygon points="757.8,521.1 775.1,512.5 878.9,564.3 861.6,572.9" fill="#fff" stroke="#000" stroke-width="0.6"/><polygon points="757.8,521.1 861.6,572.9 861.6,598.3 757.8,546.5" fill="#fff" stroke="#000" stroke-width="0.6"/><polygon points="861.6,572.9 878.9,564.3 878.9,589.6 861.6,598.3" fill="#fff" stroke="#000" stroke-width="0.6"/><path d="M775.1 512.5L792.4 521.1M792.4 521.1L809.7 529.8M809.7 529.8L827 538.4M827 538.4L844.3 547M844.3 547L861.6 555.7M861.6 555.7L878.9 564.3" stroke="#000" stroke-width="1.0" stroke-linecap="round" fill="none"/>
<polygon points="359.9,512.5 377.2,521.1 377.2,546.5 359.9,537.8" fill="rgba(130,130,130,0.13)" stroke="none" stroke-width="0"/><polygon points="342.6,521.1 359.9,529.8 359.9,555.1 342.6,546.5" fill="rgba(140,140,140,0.09)" stroke="none" stroke-width="0"/><polygon points="359.9,529.8 377.2,521.1 377.2,546.5 359.9,555.1" fill="rgba(140,140,140,0.09)" stroke="none" stroke-width="0"/><path d="M342.6 521.7V545.9" stroke="#fff" stroke-width="1.3"/><path d="M342.6 521.1V546.5" stroke="rgba(120,120,120,0.28)" stroke-width="0.6"/><path d="M359.9 529.8V555.1" stroke="rgba(120,120,120,0.28)" stroke-width="0.6"/><path d="M377.2 521.1V546.5" stroke="rgba(120,120,120,0.28)" stroke-width="0.6"/><path d="M359.9 512.5V537.8" stroke="rgba(120,120,120,0.28)" stroke-width="0.6"/>
<polygon points="308,521.1 325.3,512.5 342.6,521.1 325.3,529.8" fill="#fff" stroke="#000" stroke-width="0.6"/><polygon points="308,521.1 325.3,529.8 325.3,555.1 308,546.5" fill="#fff" stroke="#000" stroke-width="0.6"/><polygon points="325.3,529.8 342.6,521.1 342.6,546.5 325.3,555.1" fill="#fff" stroke="#000" stroke-width="0.6"/><path d="M325.3 512.5L308 521.1" stroke="#000" stroke-width="1.0" stroke-linecap="round" fill="none"/>
<polygon points="359.9,529.8 377.2,521.1 429.1,547 411.8,555.7" fill="#fff" stroke="#000" stroke-width="0.6"/><polygon points="359.9,529.8 411.8,555.7 411.8,581 359.9,555.1" fill="#fff" stroke="#000" stroke-width="0.6"/><polygon points="411.8,555.7 429.1,547 429.1,572.4 411.8,581" fill="#fff" stroke="#000" stroke-width="0.6"/><path d="M377.2 521.1L394.5 529.8M394.5 529.8L411.8 538.4M411.8 538.4L429.1 547" stroke="#000" stroke-width="1.0" stroke-linecap="round" fill="none"/>
<polygon points="273.4,538.4 308,521.1 325.3,529.8 290.7,547" fill="#fff" stroke="#000" stroke-width="0.6"/><polygon points="273.4,538.4 290.7,547 290.7,572.4 273.4,563.7" fill="#fff" stroke="#000" stroke-width="0.6"/><polygon points="290.7,547 325.3,529.8 325.3,555.1 290.7,572.4" fill="#fff" stroke="#000" stroke-width="0.6"/><path d="M308 521.1L290.7 529.8M290.7 529.8L273.4 538.4" stroke="#000" stroke-width="1.0" stroke-linecap="round" fill="none"/>
<polygon points="723.2,572.9 792.4,538.4 809.7,547 740.5,581.6" fill="#fff" stroke="#000" stroke-width="0.6"/><polygon points="723.2,572.9 740.5,581.6 740.5,606.9 723.2,598.3" fill="#fff" stroke="#000" stroke-width="0.6"/><polygon points="740.5,581.6 809.7,547 809.7,572.4 740.5,606.9" fill="#fff" stroke="#000" stroke-width="0.6"/><path d="M792.4 538.4L775.1 547M775.1 547L757.8 555.7M757.8 555.7L740.5 564.3M740.5 564.3L723.2 572.9" stroke="#000" stroke-width="1.0" stroke-linecap="round" fill="none"/>
<polygon points="411.8,555.7 429.1,547 446.4,555.7 429.1,564.3" fill="#fff" stroke="#000" stroke-width="0.6"/><polygon points="411.8,555.7 429.1,564.3 429.1,589.6 411.8,581" fill="#fff" stroke="#000" stroke-width="0.6"/><polygon points="429.1,564.3 446.4,555.7 446.4,581 429.1,589.6" fill="#fff" stroke="#000" stroke-width="0.6"/><path d="M429.1 547L446.4 555.7" stroke="#000" stroke-width="1.0" stroke-linecap="round" fill="none"/>
<polygon points="394.5,366.2 463.7,331.7 481,340.3 411.8,374.9" fill="#fff" stroke="#000" stroke-width="0.6"/><polygon points="394.5,366.2 411.8,374.9 411.8,400.2 394.5,391.6" fill="#fff" stroke="#000" stroke-width="0.6"/><polygon points="411.8,374.9 481,340.3 481,365.7 411.8,400.2" fill="#fff" stroke="#000" stroke-width="0.6"/><path d="M463.7 331.7L446.4 340.3M446.4 340.3L429.1 349M429.1 349L411.8 357.6M411.8 357.6L394.5 366.2M463.7 331.7L481 340.3" stroke="#000" stroke-width="1.0" stroke-linecap="round" fill="none"/>
<polygon points="463.7,349 481,340.3 532.9,366.2 515.6,374.9" fill="#fff" stroke="#000" stroke-width="0.6"/><polygon points="463.7,349 515.6,374.9 515.6,400.2 463.7,374.3" fill="#fff" stroke="#000" stroke-width="0.6"/><polygon points="515.6,374.9 532.9,366.2 532.9,391.6 515.6,400.2" fill="#fff" stroke="#000" stroke-width="0.6"/><path d="M481 340.3L498.3 349M498.3 349L515.6 357.6M515.6 357.6L532.9 366.2" stroke="#000" stroke-width="1.0" stroke-linecap="round" fill="none"/>
<polygon points="342.6,392.1 394.5,366.2 411.8,374.9 359.9,400.8" fill="#fff" stroke="#000" stroke-width="0.6"/><polygon points="342.6,392.1 359.9,400.8 359.9,426.1 342.6,417.5" fill="#fff" stroke="#000" stroke-width="0.6"/><polygon points="359.9,400.8 411.8,374.9 411.8,400.2 359.9,426.1" fill="#fff" stroke="#000" stroke-width="0.6"/><path d="M394.5 366.2L377.2 374.9M377.2 374.9L359.9 383.5M359.9 383.5L342.6 392.1" stroke="#000" stroke-width="1.0" stroke-linecap="round" fill="none"/><use href="#g" x="377.2" y="383.5"/><use href="#g" x="359.9" y="392.1"/>
<polygon points="515.6,374.9 532.9,366.2 567.5,383.5 550.2,392.1" fill="#fff" stroke="#000" stroke-width="0.6"/><polygon points="515.6,374.9 550.2,392.1 550.2,417.5 515.6,400.2" fill="#fff" stroke="#000" stroke-width="0.6"/><polygon points="550.2,392.1 567.5,383.5 567.5,408.9 550.2,417.5" fill="#fff" stroke="#000" stroke-width="0.6"/><path d="M532.9 366.2L550.2 374.9M550.2 374.9L567.5 383.5" stroke="#000" stroke-width="1.0" stroke-linecap="round" fill="none"/><use href="#g" x="532.9" y="374.9"/><use href="#g" x="550.2" y="383.5"/>
<polygon points="550.2,392.1 567.5,383.5 671.3,435.3 654,444" fill="#fff" stroke="#000" stroke-width="0.6"/><polygon points="550.2,392.1 654,444 654,469.3 550.2,417.5" fill="#fff" stroke="#000" stroke-width="0.6"/><polygon points="654,444 671.3,435.3 671.3,460.7 654,469.3" fill="#fff" stroke="#000" stroke-width="0.6"/><path d="M567.5 383.5L584.8 392.1M584.8 392.1L602.1 400.8M602.1 400.8L619.4 409.4M619.4 409.4L636.7 418.1M636.7 418.1L654 426.7M654 426.7L671.3 435.3" stroke="#000" stroke-width="1.0" stroke-linecap="round" fill="none"/>
<polygon points="290.7,418.1 342.6,392.1 359.9,400.8 308,426.7" fill="#fff" stroke="#000" stroke-width="0.6"/><polygon points="290.7,418.1 308,426.7 308,452 290.7,443.4" fill="#fff" stroke="#000" stroke-width="0.6"/><polygon points="308,426.7 359.9,400.8 359.9,426.1 308,452" fill="#fff" stroke="#000" stroke-width="0.6"/><path d="M342.6 392.1L325.3 400.8M325.3 400.8L308 409.4M308 409.4L290.7 418.1" stroke="#000" stroke-width="1.0" stroke-linecap="round" fill="none"/>
<polygon points="515.6,409.4 550.2,392.1 602.1,418.1 567.5,435.3" fill="#d20f00" stroke="#000" stroke-width="0.6"/><polygon points="515.6,409.4 567.5,435.3 567.5,460.7 515.6,434.8" fill="#d20f00" stroke="#000" stroke-width="0.6"/><polygon points="567.5,435.3 602.1,418.1 602.1,443.4 567.5,460.7" fill="#d20f00" stroke="#000" stroke-width="0.6"/><path d="M550.2 392.1L532.9 400.8M532.9 400.8L515.6 409.4" stroke="#000" stroke-width="1.0" stroke-linecap="round" fill="none"/>
<polygon points="204.2,461.2 290.7,418.1 308,426.7 221.5,469.9" fill="#fff" stroke="#000" stroke-width="0.6"/><polygon points="204.2,461.2 221.5,469.9 221.5,495.2 204.2,486.6" fill="#fff" stroke="#000" stroke-width="0.6"/><polygon points="221.5,469.9 308,426.7 308,452 221.5,495.2" fill="#fff" stroke="#000" stroke-width="0.6"/><path d="M290.7 418.1L273.4 426.7M273.4 426.7L256.1 435.3M256.1 435.3L238.8 444M238.8 444L221.5 452.6M221.5 452.6L204.2 461.2" stroke="#000" stroke-width="1.0" stroke-linecap="round" fill="none"/>
<polygon points="654,444 671.3,435.3 740.5,469.9 723.2,478.5" fill="#fff" stroke="#000" stroke-width="0.6"/><polygon points="654,444 723.2,478.5 723.2,503.8 654,469.3" fill="#fff" stroke="#000" stroke-width="0.6"/><polygon points="723.2,478.5 740.5,469.9 740.5,495.2 723.2,503.8" fill="#fff" stroke="#000" stroke-width="0.6"/><path d="M671.3 435.3L688.6 444M688.6 444L705.9 452.6M705.9 452.6L723.2 461.2M723.2 461.2L740.5 469.9" stroke="#000" stroke-width="1.0" stroke-linecap="round" fill="none"/><use href="#g" x="705.9" y="461.2"/><use href="#g" x="723.2" y="469.9"/>
<polygon points="256.1,452.6 273.4,444 273.4,444 256.1,452.6" fill="#fff" stroke="#000" stroke-width="0.6"/><polygon points="256.1,452.6 256.1,452.6 256.1,477.9 256.1,477.9" fill="#fff" stroke="#000" stroke-width="0.6"/><polygon points="256.1,452.6 273.4,444 273.4,469.3 256.1,477.9" fill="#fff" stroke="#000" stroke-width="0.6"/>
<polygon points="256.1,452.6 273.4,444 290.7,452.6 273.4,461.2" fill="#fff" stroke="#000" stroke-width="0.6"/><polygon points="256.1,452.6 273.4,461.2 273.4,486.6 256.1,477.9" fill="#fff" stroke="#000" stroke-width="0.6"/><polygon points="273.4,461.2 290.7,452.6 290.7,477.9 273.4,486.6" fill="#fff" stroke="#000" stroke-width="0.6"/><path d="M273.4 444L290.7 452.6" stroke="#000" stroke-width="1.0" stroke-linecap="round" fill="none"/><use href="#g" x="273.4" y="452.6"/>
<polygon points="273.4,461.2 290.7,452.6 308,461.2 290.7,469.9" fill="#fff" stroke="#000" stroke-width="0.6"/><polygon points="273.4,461.2 290.7,469.9 290.7,495.2 273.4,486.6" fill="#fff" stroke="#000" stroke-width="0.6"/><polygon points="290.7,469.9 308,461.2 308,486.6 290.7,495.2" fill="#fff" stroke="#000" stroke-width="0.6"/><path d="M290.7 452.6L308 461.2" stroke="#000" stroke-width="1.0" stroke-linecap="round" fill="none"/>
<polygon points="186.9,469.9 204.2,461.2 221.5,469.9 204.2,478.5" fill="#fff" stroke="#000" stroke-width="0.6"/><polygon points="186.9,469.9 204.2,478.5 204.2,503.8 186.9,495.2" fill="#fff" stroke="#000" stroke-width="0.6"/><polygon points="204.2,478.5 221.5,469.9 221.5,495.2 204.2,503.8" fill="#fff" stroke="#000" stroke-width="0.6"/><path d="M204.2 461.2L186.9 469.9" stroke="#000" stroke-width="1.0" stroke-linecap="round" fill="none"/>
<polygon points="290.7,469.9 308,461.2 359.9,487.1 342.6,495.8" fill="#fff" stroke="#000" stroke-width="0.6"/><polygon points="290.7,469.9 342.6,495.8 342.6,521.1 290.7,495.2" fill="#fff" stroke="#000" stroke-width="0.6"/><polygon points="342.6,495.8 359.9,487.1 359.9,512.5 342.6,521.1" fill="#fff" stroke="#000" stroke-width="0.6"/><path d="M308 461.2L325.3 469.9M325.3 469.9L342.6 478.5M342.6 478.5L359.9 487.1" stroke="#000" stroke-width="1.0" stroke-linecap="round" fill="none"/>
<polygon points="723.2,478.5 740.5,469.9 809.7,504.4 792.4,513" fill="#fff" stroke="#000" stroke-width="0.6"/><polygon points="723.2,478.5 792.4,513 792.4,538.4 723.2,503.8" fill="#fff" stroke="#000" stroke-width="0.6"/><polygon points="792.4,513 809.7,504.4 809.7,529.8 792.4,538.4" fill="#fff" stroke="#000" stroke-width="0.6"/><path d="M740.5 469.9L757.8 478.5M757.8 478.5L775.1 487.1M775.1 487.1L792.4 495.8M792.4 495.8L809.7 504.4" stroke="#000" stroke-width="1.0" stroke-linecap="round" fill="none"/><use href="#g" x="740.5" y="478.5"/><use href="#g" x="757.8" y="487.1"/>
<polygon points="342.6,495.8 359.9,487.1 377.2,495.8 359.9,504.4" fill="#fff" stroke="#000" stroke-width="0.6"/><polygon points="342.6,495.8 359.9,504.4 359.9,529.8 342.6,521.1" fill="#fff" stroke="#000" stroke-width="0.6"/><polygon points="359.9,504.4 377.2,495.8 377.2,521.1 359.9,529.8" fill="#fff" stroke="#000" stroke-width="0.6"/><path d="M359.9 487.1L377.2 495.8" stroke="#000" stroke-width="1.0" stroke-linecap="round" fill="none"/><use href="#g" x="359.9" y="495.8"/>
<polygon points="290.7,504.4 325.3,487.1 342.6,495.8 308,513" fill="#fff" stroke="#000" stroke-width="0.6"/><polygon points="290.7,504.4 308,513 308,538.4 290.7,529.8" fill="#fff" stroke="#000" stroke-width="0.6"/><polygon points="308,513 342.6,495.8 342.6,521.1 308,538.4" fill="#fff" stroke="#000" stroke-width="0.6"/><path d="M325.3 487.1L308 495.8M308 495.8L290.7 504.4" stroke="#000" stroke-width="1.0" stroke-linecap="round" fill="none"/>
<polygon points="359.9,504.4 377.2,495.8 446.4,530.3 429.1,538.9" fill="#fff" stroke="#000" stroke-width="0.6"/><polygon points="359.9,504.4 429.1,538.9 429.1,564.3 359.9,529.8" fill="#fff" stroke="#000" stroke-width="0.6"/><polygon points="429.1,538.9 446.4,530.3 446.4,555.7 429.1,564.3" fill="#fff" stroke="#000" stroke-width="0.6"/><path d="M377.2 495.8L394.5 504.4M394.5 504.4L411.8 513M411.8 513L429.1 521.7M429.1 521.7L446.4 530.3" stroke="#000" stroke-width="1.0" stroke-linecap="round" fill="none"/>
<polygon points="792.4,513 809.7,504.4 878.9,538.9 861.6,547.6" fill="#fff" stroke="#000" stroke-width="0.6"/><polygon points="792.4,513 861.6,547.6 861.6,572.9 792.4,538.4" fill="#fff" stroke="#000" stroke-width="0.6"/><polygon points="861.6,547.6 878.9,538.9 878.9,564.3 861.6,572.9" fill="#fff" stroke="#000" stroke-width="0.6"/><path d="M809.7 504.4L827 513M827 513L844.3 521.7M844.3 521.7L861.6 530.3M861.6 530.3L878.9 538.9" stroke="#000" stroke-width="1.0" stroke-linecap="round" fill="none"/>
<polygon points="273.4,513 290.7,504.4 308,513 290.7,521.7" fill="#fff" stroke="#000" stroke-width="0.6"/><polygon points="273.4,513 290.7,521.7 290.7,547 273.4,538.4" fill="#fff" stroke="#000" stroke-width="0.6"/><polygon points="290.7,521.7 308,513 308,538.4 290.7,547" fill="#fff" stroke="#000" stroke-width="0.6"/><path d="M290.7 504.4L273.4 513" stroke="#000" stroke-width="1.0" stroke-linecap="round" fill="none"/>
<polygon points="757.8,530.3 792.4,513 809.7,521.7 775.1,538.9" fill="#fff" stroke="#000" stroke-width="0.6"/><polygon points="757.8,530.3 775.1,538.9 775.1,564.3 757.8,555.7" fill="#fff" stroke="#000" stroke-width="0.6"/><polygon points="775.1,538.9 809.7,521.7 809.7,547 775.1,564.3" fill="#fff" stroke="#000" stroke-width="0.6"/><path d="M792.4 513L775.1 521.7M775.1 521.7L757.8 530.3" stroke="#000" stroke-width="1.0" stroke-linecap="round" fill="none"/>
<polygon points="429.1,538.9 446.4,530.3 463.7,538.9 446.4,547.6" fill="#fff" stroke="#000" stroke-width="0.6"/><polygon points="429.1,538.9 446.4,547.6 446.4,572.9 429.1,564.3" fill="#fff" stroke="#000" stroke-width="0.6"/><polygon points="446.4,547.6 463.7,538.9 463.7,564.3 446.4,572.9" fill="#fff" stroke="#000" stroke-width="0.6"/><path d="M446.4 530.3L463.7 538.9" stroke="#000" stroke-width="1.0" stroke-linecap="round" fill="none"/><use href="#g" x="446.4" y="538.9"/>
<polygon points="377.2,547.6 411.8,530.3 429.1,538.9 394.5,556.2" fill="#fff" stroke="#000" stroke-width="0.6"/><polygon points="377.2,547.6 394.5,556.2 394.5,581.6 377.2,572.9" fill="#fff" stroke="#000" stroke-width="0.6"/><polygon points="394.5,556.2 429.1,538.9 429.1,564.3 394.5,581.6" fill="#fff" stroke="#000" stroke-width="0.6"/><path d="M411.8 530.3L394.5 538.9M394.5 538.9L377.2 547.6" stroke="#000" stroke-width="1.0" stroke-linecap="round" fill="none"/>
<polygon points="688.6,564.8 757.8,530.3 775.1,538.9 705.9,573.5" fill="#fff" stroke="#000" stroke-width="0.6"/><polygon points="688.6,564.8 705.9,573.5 705.9,598.8 688.6,590.2" fill="#fff" stroke="#000" stroke-width="0.6"/><polygon points="705.9,573.5 775.1,538.9 775.1,564.3 705.9,598.8" fill="#fff" stroke="#000" stroke-width="0.6"/><path d="M757.8 530.3L740.5 538.9M740.5 538.9L723.2 547.6M723.2 547.6L705.9 556.2M705.9 556.2L688.6 564.8" stroke="#000" stroke-width="1.0" stroke-linecap="round" fill="none"/>
<polygon points="446.4,547.6 463.7,538.9 532.9,573.5 515.6,582.1" fill="#fff" stroke="#000" stroke-width="0.6"/><polygon points="446.4,547.6 515.6,582.1 515.6,607.5 446.4,572.9" fill="#fff" stroke="#000" stroke-width="0.6"/><polygon points="515.6,582.1 532.9,573.5 532.9,598.8 515.6,607.5" fill="#fff" stroke="#000" stroke-width="0.6"/><path d="M463.7 538.9L481 547.6M481 547.6L498.3 556.2M498.3 556.2L515.6 564.8M515.6 564.8L532.9 573.5" stroke="#000" stroke-width="1.0" stroke-linecap="round" fill="none"/>
<polygon points="359.9,556.2 377.2,547.6 394.5,556.2 377.2,564.8" fill="#fff" stroke="#000" stroke-width="0.6"/><polygon points="359.9,556.2 377.2,564.8 377.2,590.2 359.9,581.6" fill="#fff" stroke="#000" stroke-width="0.6"/><polygon points="377.2,564.8 394.5,556.2 394.5,581.6 377.2,590.2" fill="#fff" stroke="#000" stroke-width="0.6"/><path d="M377.2 547.6L359.9 556.2" stroke="#000" stroke-width="1.0" stroke-linecap="round" fill="none"/>
<polygon points="377.2,349.5 463.7,306.4 481,315 394.5,358.2" fill="#fff" stroke="#000" stroke-width="0.6"/><polygon points="377.2,349.5 394.5,358.2 394.5,383.5 377.2,374.9" fill="#fff" stroke="#000" stroke-width="0.6"/><polygon points="394.5,358.2 481,315 481,340.3 394.5,383.5" fill="#fff" stroke="#000" stroke-width="0.6"/><path d="M463.7 306.4L446.4 315M446.4 315L429.1 323.6M429.1 323.6L411.8 332.3M411.8 332.3L394.5 340.9M394.5 340.9L377.2 349.5M463.7 306.4L481 315" stroke="#000" stroke-width="1.0" stroke-linecap="round" fill="none"/>
<polygon points="463.7,323.6 481,315 532.9,340.9 515.6,349.5" fill="#fff" stroke="#000" stroke-width="0.6"/><polygon points="463.7,323.6 515.6,349.5 515.6,374.9 463.7,349" fill="#fff" stroke="#000" stroke-width="0.6"/><polygon points="515.6,349.5 532.9,340.9 532.9,366.2 515.6,374.9" fill="#fff" stroke="#000" stroke-width="0.6"/><path d="M481 315L498.3 323.6M498.3 323.6L515.6 332.3M515.6 332.3L532.9 340.9" stroke="#000" stroke-width="1.0" stroke-linecap="round" fill="none"/>
<polygon points="532.9,340.9 567.5,358.2 567.5,383.5 532.9,366.2" fill="rgba(130,130,130,0.13)" stroke="none" stroke-width="0"/><polygon points="515.6,349.5 550.2,366.8 550.2,392.1 515.6,374.9" fill="rgba(140,140,140,0.09)" stroke="none" stroke-width="0"/><polygon points="550.2,366.8 567.5,358.2 567.5,383.5 550.2,392.1" fill="rgba(140,140,140,0.09)" stroke="none" stroke-width="0"/><path d="M515.6 349.5V374.9" stroke="rgba(120,120,120,0.28)" stroke-width="0.6"/><path d="M550.2 366.8V392.1" stroke="rgba(120,120,120,0.28)" stroke-width="0.6"/><path d="M567.5 358.2V383.5" stroke="rgba(120,120,120,0.28)" stroke-width="0.6"/><path d="M532.9 340.9V366.2" stroke="rgba(120,120,120,0.28)" stroke-width="0.6"/><use href="#g" x="532.9" y="349.5"/><use href="#g" x="550.2" y="358.2"/>
<polygon points="342.6,366.8 377.2,349.5 377.2,374.9 342.6,392.1" fill="rgba(130,130,130,0.13)" stroke="none" stroke-width="0"/><polygon points="342.6,366.8 359.9,375.4 359.9,400.8 342.6,392.1" fill="rgba(140,140,140,0.09)" stroke="none" stroke-width="0"/><polygon points="359.9,375.4 394.5,358.2 394.5,383.5 359.9,400.8" fill="rgba(140,140,140,0.09)" stroke="none" stroke-width="0"/><path d="M342.6 366.8V392.1" stroke="rgba(120,120,120,0.28)" stroke-width="0.6"/><path d="M359.9 375.4V400.8" stroke="rgba(120,120,120,0.28)" stroke-width="0.6"/><path d="M394.5 358.2V383.5" stroke="rgba(120,120,120,0.28)" stroke-width="0.6"/><path d="M377.2 349.5V374.9" stroke="rgba(120,120,120,0.28)" stroke-width="0.6"/><use href="#g" x="377.2" y="358.2"/><use href="#g" x="359.9" y="366.8"/>
<polygon points="550.2,366.8 567.5,358.2 671.3,410 654,418.6" fill="#fff" stroke="#000" stroke-width="0.6"/><polygon points="550.2,366.8 654,418.6 654,444 550.2,392.1" fill="#fff" stroke="#000" stroke-width="0.6"/><polygon points="654,418.6 671.3,410 671.3,435.3 654,444" fill="#fff" stroke="#000" stroke-width="0.6"/><path d="M567.5 358.2L550.2 366.8M567.5 358.2L584.8 366.8M584.8 366.8L602.1 375.4M602.1 375.4L619.4 384.1M619.4 384.1L636.7 392.7M636.7 392.7L654 401.3M654 401.3L671.3 410" stroke="#000" stroke-width="1.0" stroke-linecap="round" fill="none"/>
<polygon points="273.4,401.3 342.6,366.8 359.9,375.4 290.7,410" fill="#fff" stroke="#000" stroke-width="0.6"/><polygon points="273.4,401.3 290.7,410 290.7,435.3 273.4,426.7" fill="#fff" stroke="#000" stroke-width="0.6"/><polygon points="290.7,410 359.9,375.4 359.9,400.8 290.7,435.3" fill="#fff" stroke="#000" stroke-width="0.6"/><path d="M342.6 366.8L325.3 375.4M325.3 375.4L308 384.1M308 384.1L290.7 392.7M290.7 392.7L273.4 401.3M342.6 366.8L359.9 375.4" stroke="#000" stroke-width="1.0" stroke-linecap="round" fill="none"/>
<polygon points="515.6,384.1 550.2,366.8 602.1,392.7 567.5,410" fill="#d20f00" stroke="#000" stroke-width="0.6"/><polygon points="515.6,384.1 567.5,410 567.5,435.3 515.6,409.4" fill="#d20f00" stroke="#000" stroke-width="0.6"/><polygon points="567.5,410 602.1,392.7 602.1,418.1 567.5,435.3" fill="#d20f00" stroke="#000" stroke-width="0.6"/><path d="M550.2 366.8L532.9 375.4M532.9 375.4L515.6 384.1" stroke="#000" stroke-width="1.0" stroke-linecap="round" fill="none"/>
<polygon points="186.9,444.5 273.4,401.3 290.7,410 204.2,453.1" fill="#fff" stroke="#000" stroke-width="0.6"/><polygon points="186.9,444.5 204.2,453.1 204.2,478.5 186.9,469.9" fill="#fff" stroke="#000" stroke-width="0.6"/><polygon points="204.2,453.1 290.7,410 290.7,435.3 204.2,478.5" fill="#fff" stroke="#000" stroke-width="0.6"/><path d="M273.4 401.3L256.1 410M256.1 410L238.8 418.6M238.8 418.6L221.5 427.2M221.5 427.2L204.2 435.9M204.2 435.9L186.9 444.5" stroke="#000" stroke-width="1.0" stroke-linecap="round" fill="none"/>
<polygon points="654,418.6 671.3,410 705.9,427.2 688.6,435.9" fill="#fff" stroke="#000" stroke-width="0.6"/><polygon points="654,418.6 688.6,435.9 688.6,461.2 654,444" fill="#fff" stroke="#000" stroke-width="0.6"/><polygon points="688.6,435.9 705.9,427.2 705.9,452.6 688.6,461.2" fill="#fff" stroke="#000" stroke-width="0.6"/><path d="M671.3 410L688.6 418.6M688.6 418.6L705.9 427.2" stroke="#000" stroke-width="1.0" stroke-linecap="round" fill="none"/>
<polygon points="256.1,427.2 273.4,418.6 273.4,418.6 256.1,427.2" fill="#fff" stroke="#000" stroke-width="0.6"/><polygon points="256.1,427.2 256.1,427.2 256.1,452.6 256.1,452.6" fill="#fff" stroke="#000" stroke-width="0.6"/><polygon points="256.1,427.2 273.4,418.6 273.4,444 256.1,452.6" fill="#fff" stroke="#000" stroke-width="0.6"/>
<polygon points="273.4,418.6 290.7,427.2 290.7,452.6 273.4,444" fill="rgba(130,130,130,0.13)" stroke="none" stroke-width="0"/><polygon points="256.1,427.2 273.4,435.9 273.4,461.2 256.1,452.6" fill="rgba(140,140,140,0.09)" stroke="none" stroke-width="0"/><polygon points="273.4,435.9 290.7,427.2 290.7,452.6 273.4,461.2" fill="rgba(140,140,140,0.09)" stroke="none" stroke-width="0"/><path d="M256.1 427.8V452" stroke="#fff" stroke-width="1.3"/><path d="M256.1 427.2V452.6" stroke="rgba(120,120,120,0.28)" stroke-width="0.6"/><path d="M273.4 435.9V461.2" stroke="rgba(120,120,120,0.28)" stroke-width="0.6"/><path d="M290.7 427.2V452.6" stroke="rgba(120,120,120,0.28)" stroke-width="0.6"/><path d="M273.4 418.6V444" stroke="rgba(120,120,120,0.28)" stroke-width="0.6"/><use href="#g" x="273.4" y="427.2"/>
<polygon points="273.4,435.9 290.7,427.2 342.6,453.1 325.3,461.8" fill="#fff" stroke="#000" stroke-width="0.6"/><polygon points="273.4,435.9 325.3,461.8 325.3,487.1 273.4,461.2" fill="#fff" stroke="#000" stroke-width="0.6"/><polygon points="325.3,461.8 342.6,453.1 342.6,478.5 325.3,487.1" fill="#fff" stroke="#000" stroke-width="0.6"/><path d="M290.7 427.2L273.4 435.9M290.7 427.2L308 435.9M308 435.9L325.3 444.5M325.3 444.5L342.6 453.1" stroke="#000" stroke-width="1.0" stroke-linecap="round" fill="none"/>
<polygon points="705.9,427.2 775.1,461.8 775.1,487.1 705.9,452.6" fill="rgba(130,130,130,0.13)" stroke="none" stroke-width="0"/><polygon points="688.6,435.9 757.8,470.4 757.8,495.8 688.6,461.2" fill="rgba(140,140,140,0.09)" stroke="none" stroke-width="0"/><polygon points="757.8,470.4 775.1,461.8 775.1,487.1 757.8,495.8" fill="rgba(140,140,140,0.09)" stroke="none" stroke-width="0"/><path d="M688.6 435.9V461.2" stroke="rgba(120,120,120,0.28)" stroke-width="0.6"/><path d="M757.8 470.4V495.8" stroke="rgba(120,120,120,0.28)" stroke-width="0.6"/><path d="M775.1 461.8V487.1" stroke="rgba(120,120,120,0.28)" stroke-width="0.6"/><path d="M705.9 427.2V452.6" stroke="rgba(120,120,120,0.28)" stroke-width="0.6"/><use href="#g" x="705.9" y="435.9"/><use href="#g" x="723.2" y="444.5"/><use href="#g" x="740.5" y="453.1"/><use href="#g" x="757.8" y="461.8"/>
<polygon points="325.3,461.8 342.6,453.1 359.9,461.8 342.6,470.4" fill="#fff" stroke="#000" stroke-width="0.6"/><polygon points="325.3,461.8 342.6,470.4 342.6,495.8 325.3,487.1" fill="#fff" stroke="#000" stroke-width="0.6"/><polygon points="342.6,470.4 359.9,461.8 359.9,487.1 342.6,495.8" fill="#fff" stroke="#000" stroke-width="0.6"/><path d="M342.6 453.1L359.9 461.8" stroke="#000" stroke-width="1.0" stroke-linecap="round" fill="none"/>
<polygon points="757.8,470.4 775.1,461.8 844.3,496.3 827,505" fill="#fff" stroke="#000" stroke-width="0.6"/><polygon points="757.8,470.4 827,505 827,530.3 757.8,495.8" fill="#fff" stroke="#000" stroke-width="0.6"/><polygon points="827,505 844.3,496.3 844.3,521.7 827,530.3" fill="#fff" stroke="#000" stroke-width="0.6"/><path d="M775.1 461.8L757.8 470.4M775.1 461.8L792.4 470.4M792.4 470.4L809.7 479M809.7 479L827 487.7M827 487.7L844.3 496.3" stroke="#000" stroke-width="1.0" stroke-linecap="round" fill="none"/>
<polygon points="359.9,461.8 377.2,470.4 377.2,495.8 359.9,487.1" fill="rgba(130,130,130,0.13)" stroke="none" stroke-width="0"/><polygon points="342.6,470.4 359.9,479 359.9,504.4 342.6,495.8" fill="rgba(140,140,140,0.09)" stroke="none" stroke-width="0"/><polygon points="359.9,479 377.2,470.4 377.2,495.8 359.9,504.4" fill="rgba(140,140,140,0.09)" stroke="none" stroke-width="0"/><path d="M342.6 471V495.2" stroke="#fff" stroke-width="1.3"/><path d="M342.6 470.4V495.8" stroke="rgba(120,120,120,0.28)" stroke-width="0.6"/><path d="M359.9 479V504.4" stroke="rgba(120,120,120,0.28)" stroke-width="0.6"/><path d="M377.2 470.4V495.8" stroke="rgba(120,120,120,0.28)" stroke-width="0.6"/><path d="M359.9 461.8V487.1" stroke="rgba(120,120,120,0.28)" stroke-width="0.6"/><use href="#g" x="359.9" y="470.4"/>
<polygon points="273.4,487.7 325.3,461.8 342.6,470.4 290.7,496.3" fill="#fff" stroke="#000" stroke-width="0.6"/><polygon points="273.4,487.7 290.7,496.3 290.7,521.7 273.4,513" fill="#fff" stroke="#000" stroke-width="0.6"/><polygon points="290.7,496.3 342.6,470.4 342.6,495.8 290.7,521.7" fill="#fff" stroke="#000" stroke-width="0.6"/><path d="M325.3 461.8L308 470.4M308 470.4L290.7 479M290.7 479L273.4 487.7" stroke="#000" stroke-width="1.0" stroke-linecap="round" fill="none"/>
<polygon points="359.9,479 377.2,470.4 429.1,496.3 411.8,505" fill="#fff" stroke="#000" stroke-width="0.6"/><polygon points="359.9,479 411.8,505 411.8,530.3 359.9,504.4" fill="#fff" stroke="#000" stroke-width="0.6"/><polygon points="411.8,505 429.1,496.3 429.1,521.7 411.8,530.3" fill="#fff" stroke="#000" stroke-width="0.6"/><path d="M377.2 470.4L359.9 479M377.2 470.4L394.5 479M394.5 479L411.8 487.7M411.8 487.7L429.1 496.3" stroke="#000" stroke-width="1.0" stroke-linecap="round" fill="none"/>
<polygon points="723.2,522.2 792.4,487.7 809.7,496.3 740.5,530.9" fill="#fff" stroke="#000" stroke-width="0.6"/><polygon points="723.2,522.2 740.5,530.9 740.5,556.2 723.2,547.6" fill="#fff" stroke="#000" stroke-width="0.6"/><polygon points="740.5,530.9 809.7,496.3 809.7,521.7 740.5,556.2" fill="#fff" stroke="#000" stroke-width="0.6"/><path d="M757.8 505L740.5 513.6M740.5 513.6L723.2 522.2" stroke="#000" stroke-width="1.0" stroke-linecap="round" fill="none"/>
<polygon points="411.8,505 429.1,496.3 446.4,505 429.1,513.6" fill="#fff" stroke="#000" stroke-width="0.6"/><polygon points="411.8,505 429.1,513.6 429.1,538.9 411.8,530.3" fill="#fff" stroke="#000" stroke-width="0.6"/><polygon points="429.1,513.6 446.4,505 446.4,530.3 429.1,538.9" fill="#fff" stroke="#000" stroke-width="0.6"/><path d="M429.1 496.3L446.4 505" stroke="#000" stroke-width="1.0" stroke-linecap="round" fill="none"/>
<polygon points="446.4,505 463.7,513.6 463.7,538.9 446.4,530.3" fill="rgba(130,130,130,0.13)" stroke="none" stroke-width="0"/><polygon points="429.1,513.6 446.4,522.2 446.4,547.6 429.1,538.9" fill="rgba(140,140,140,0.09)" stroke="none" stroke-width="0"/><polygon points="446.4,522.2 463.7,513.6 463.7,538.9 446.4,547.6" fill="rgba(140,140,140,0.09)" stroke="none" stroke-width="0"/><path d="M429.1 514.2V538.3" stroke="#fff" stroke-width="1.3"/><path d="M429.1 513.6V538.9" stroke="rgba(120,120,120,0.28)" stroke-width="0.6"/><path d="M446.4 522.2V547.6" stroke="rgba(120,120,120,0.28)" stroke-width="0.6"/><path d="M463.7 513.6V538.9" stroke="rgba(120,120,120,0.28)" stroke-width="0.6"/><path d="M446.4 505V530.3" stroke="rgba(120,120,120,0.28)" stroke-width="0.6"/><use href="#g" x="446.4" y="513.6"/>
<polygon points="359.9,530.9 411.8,505 429.1,513.6 377.2,539.5" fill="#fff" stroke="#000" stroke-width="0.6"/><polygon points="359.9,530.9 377.2,539.5 377.2,564.8 359.9,556.2" fill="#fff" stroke="#000" stroke-width="0.6"/><polygon points="377.2,539.5 429.1,513.6 429.1,538.9 377.2,564.8" fill="#fff" stroke="#000" stroke-width="0.6"/><path d="M411.8 505L394.5 513.6M394.5 513.6L377.2 522.2M377.2 522.2L359.9 530.9" stroke="#000" stroke-width="1.0" stroke-linecap="round" fill="none"/>
<polygon points="446.4,522.2 463.7,513.6 515.6,539.5 498.3,548.1" fill="#fff" stroke="#000" stroke-width="0.6"/><polygon points="446.4,522.2 498.3,548.1 498.3,573.5 446.4,547.6" fill="#fff" stroke="#000" stroke-width="0.6"/><polygon points="498.3,548.1 515.6,539.5 515.6,564.8 498.3,573.5" fill="#fff" stroke="#000" stroke-width="0.6"/><path d="M463.7 513.6L446.4 522.2M463.7 513.6L481 522.2M481 522.2L498.3 530.9M498.3 530.9L515.6 539.5" stroke="#000" stroke-width="1.0" stroke-linecap="round" fill="none"/>
<polygon points="654,556.8 723.2,522.2 740.5,530.9 671.3,565.4" fill="#fff" stroke="#000" stroke-width="0.6"/><polygon points="654,556.8 671.3,565.4 671.3,590.8 654,582.1" fill="#fff" stroke="#000" stroke-width="0.6"/><polygon points="671.3,565.4 740.5,530.9 740.5,556.2 671.3,590.8" fill="#fff" stroke="#000" stroke-width="0.6"/><path d="M723.2 522.2L705.9 530.9M705.9 530.9L688.6 539.5M688.6 539.5L671.3 548.1M671.3 548.1L654 556.8" stroke="#000" stroke-width="1.0" stroke-linecap="round" fill="none"/>
<polygon points="498.3,548.1 515.6,539.5 532.9,548.1 515.6,556.8" fill="#fff" stroke="#000" stroke-width="0.6"/><polygon points="498.3,548.1 515.6,556.8 515.6,582.1 498.3,573.5" fill="#fff" stroke="#000" stroke-width="0.6"/><polygon points="515.6,556.8 532.9,548.1 532.9,573.5 515.6,582.1" fill="#fff" stroke="#000" stroke-width="0.6"/><path d="M515.6 539.5L532.9 548.1" stroke="#000" stroke-width="1.0" stroke-linecap="round" fill="none"/>
<polygon points="532.9,548.1 550.2,556.8 550.2,582.1 532.9,573.5" fill="rgba(130,130,130,0.13)" stroke="none" stroke-width="0"/><polygon points="515.6,556.8 532.9,565.4 532.9,590.8 515.6,582.1" fill="rgba(140,140,140,0.09)" stroke="none" stroke-width="0"/><polygon points="532.9,565.4 550.2,556.8 550.2,582.1 532.9,590.8" fill="rgba(140,140,140,0.09)" stroke="none" stroke-width="0"/><path d="M515.6 557.4V581.5" stroke="#fff" stroke-width="1.3"/><path d="M515.6 556.8V582.1" stroke="rgba(120,120,120,0.28)" stroke-width="0.6"/><path d="M532.9 565.4V590.8" stroke="rgba(120,120,120,0.28)" stroke-width="0.6"/><path d="M550.2 556.8V582.1" stroke="rgba(120,120,120,0.28)" stroke-width="0.6"/><path d="M532.9 548.1V573.5" stroke="rgba(120,120,120,0.28)" stroke-width="0.6"/><use href="#g" x="532.9" y="556.8"/>
<polygon points="446.4,574 498.3,548.1 515.6,556.8 463.7,582.7" fill="#fff" stroke="#000" stroke-width="0.6"/><polygon points="446.4,574 463.7,582.7 463.7,608 446.4,599.4" fill="#fff" stroke="#000" stroke-width="0.6"/><polygon points="463.7,582.7 515.6,556.8 515.6,582.1 463.7,608" fill="#fff" stroke="#000" stroke-width="0.6"/><path d="M498.3 548.1L481 556.8M481 556.8L463.7 565.4M463.7 565.4L446.4 574" stroke="#000" stroke-width="1.0" stroke-linecap="round" fill="none"/>
<polygon points="394.5,315.5 463.7,281 481,289.6 411.8,324.2" fill="#fff" stroke="#000" stroke-width="0.6"/><polygon points="394.5,315.5 411.8,324.2 411.8,349.5 394.5,340.9" fill="#fff" stroke="#000" stroke-width="0.6"/><polygon points="411.8,324.2 481,289.6 481,315 411.8,349.5" fill="#fff" stroke="#000" stroke-width="0.6"/><path d="M463.7 281L446.4 289.6M446.4 289.6L429.1 298.3M429.1 298.3L411.8 306.9M411.8 306.9L394.5 315.5M463.7 281L481 289.6" stroke="#000" stroke-width="1.0" stroke-linecap="round" fill="none"/>
<polygon points="463.7,298.3 481,289.6 498.3,298.3 481,306.9" fill="#fff" stroke="#000" stroke-width="0.6"/><polygon points="463.7,298.3 481,306.9 481,332.3 463.7,323.6" fill="#fff" stroke="#000" stroke-width="0.6"/><polygon points="481,306.9 498.3,298.3 498.3,323.6 481,332.3" fill="#fff" stroke="#000" stroke-width="0.6"/><path d="M481 289.6L498.3 298.3" stroke="#000" stroke-width="1.0" stroke-linecap="round" fill="none"/>
<polygon points="481,306.9 498.3,298.3 532.9,315.5 515.6,324.2" fill="#fff" stroke="#000" stroke-width="0.6"/><polygon points="481,306.9 515.6,324.2 515.6,349.5 481,332.3" fill="#fff" stroke="#000" stroke-width="0.6"/><polygon points="515.6,324.2 532.9,315.5 532.9,340.9 515.6,349.5" fill="#fff" stroke="#000" stroke-width="0.6"/><path d="M498.3 298.3L515.6 306.9M515.6 306.9L532.9 315.5" stroke="#000" stroke-width="1.0" stroke-linecap="round" fill="none"/>
<polygon points="377.2,324.2 394.5,315.5 411.8,324.2 394.5,332.8" fill="#fff" stroke="#000" stroke-width="0.6"/><polygon points="377.2,324.2 394.5,332.8 394.5,358.2 377.2,349.5" fill="#fff" stroke="#000" stroke-width="0.6"/><polygon points="394.5,332.8 411.8,324.2 411.8,349.5 394.5,358.2" fill="#fff" stroke="#000" stroke-width="0.6"/><path d="M394.5 315.5L377.2 324.2" stroke="#000" stroke-width="1.0" stroke-linecap="round" fill="none"/>
<polygon points="532.9,315.5 567.5,332.8 567.5,358.2 532.9,340.9" fill="rgba(130,130,130,0.13)" stroke="none" stroke-width="0"/><polygon points="515.6,324.2 550.2,341.4 550.2,366.8 515.6,349.5" fill="rgba(140,140,140,0.09)" stroke="none" stroke-width="0"/><polygon points="550.2,341.4 567.5,332.8 567.5,358.2 550.2,366.8" fill="rgba(140,140,140,0.09)" stroke="none" stroke-width="0"/><path d="M515.6 324.2V349.5" stroke="rgba(120,120,120,0.28)" stroke-width="0.6"/><path d="M550.2 341.4V366.8" stroke="rgba(120,120,120,0.28)" stroke-width="0.6"/><path d="M567.5 332.8V358.2" stroke="rgba(120,120,120,0.28)" stroke-width="0.6"/><path d="M532.9 315.5V340.9" stroke="rgba(120,120,120,0.28)" stroke-width="0.6"/><use href="#g" x="532.9" y="324.2"/><use href="#g" x="550.2" y="332.8"/>
<polygon points="342.6,341.4 377.2,324.2 377.2,349.5 342.6,366.8" fill="rgba(130,130,130,0.13)" stroke="none" stroke-width="0"/><polygon points="342.6,341.4 359.9,350.1 359.9,375.4 342.6,366.8" fill="rgba(140,140,140,0.09)" stroke="none" stroke-width="0"/><polygon points="359.9,350.1 394.5,332.8 394.5,358.2 359.9,375.4" fill="rgba(140,140,140,0.09)" stroke="none" stroke-width="0"/><path d="M342.6 341.4V366.8" stroke="rgba(120,120,120,0.28)" stroke-width="0.6"/><path d="M359.9 350.1V375.4" stroke="rgba(120,120,120,0.28)" stroke-width="0.6"/><path d="M394.5 332.8V358.2" stroke="rgba(120,120,120,0.28)" stroke-width="0.6"/><path d="M377.2 324.2V349.5" stroke="rgba(120,120,120,0.28)" stroke-width="0.6"/><use href="#g" x="377.2" y="332.8"/><use href="#g" x="359.9" y="341.4"/>
<polygon points="550.2,341.4 567.5,332.8 636.7,367.4 619.4,376" fill="#fff" stroke="#000" stroke-width="0.6"/><polygon points="550.2,341.4 619.4,376 619.4,401.3 550.2,366.8" fill="#fff" stroke="#000" stroke-width="0.6"/><polygon points="619.4,376 636.7,367.4 636.7,392.7 619.4,401.3" fill="#fff" stroke="#000" stroke-width="0.6"/><path d="M567.5 332.8L550.2 341.4M567.5 332.8L584.8 341.4M584.8 341.4L602.1 350.1M602.1 350.1L619.4 358.7M619.4 358.7L636.7 367.4" stroke="#000" stroke-width="1.0" stroke-linecap="round" fill="none"/>
<polygon points="290.7,367.4 342.6,341.4 359.9,350.1 308,376" fill="#fff" stroke="#000" stroke-width="0.6"/><polygon points="290.7,367.4 308,376 308,401.3 290.7,392.7" fill="#fff" stroke="#000" stroke-width="0.6"/><polygon points="308,376 359.9,350.1 359.9,375.4 308,401.3" fill="#fff" stroke="#000" stroke-width="0.6"/><path d="M342.6 341.4L325.3 350.1M325.3 350.1L308 358.7M308 358.7L290.7 367.4M342.6 341.4L359.9 350.1" stroke="#000" stroke-width="1.0" stroke-linecap="round" fill="none"/>
<polygon points="515.6,358.7 550.2,341.4 584.8,358.7 550.2,376" fill="#d20f00" stroke="#000" stroke-width="0.6"/><polygon points="515.6,358.7 550.2,376 550.2,401.3 515.6,384.1" fill="#d20f00" stroke="#000" stroke-width="0.6"/><polygon points="550.2,376 584.8,358.7 584.8,384.1 550.2,401.3" fill="#d20f00" stroke="#000" stroke-width="0.6"/><path d="M550.2 341.4L532.9 350.1M532.9 350.1L515.6 358.7" stroke="#000" stroke-width="1.0" stroke-linecap="round" fill="none"/>
<polygon points="204.2,410.5 290.7,367.4 308,376 221.5,419.2" fill="#fff" stroke="#000" stroke-width="0.6"/><polygon points="204.2,410.5 221.5,419.2 221.5,444.5 204.2,435.9" fill="#fff" stroke="#000" stroke-width="0.6"/><polygon points="221.5,419.2 308,376 308,401.3 221.5,444.5" fill="#fff" stroke="#000" stroke-width="0.6"/><path d="M290.7 367.4L273.4 376M273.4 376L256.1 384.6M256.1 384.6L238.8 393.3M238.8 393.3L221.5 401.9M221.5 401.9L204.2 410.5" stroke="#000" stroke-width="1.0" stroke-linecap="round" fill="none"/>
<polygon points="619.4,376 636.7,367.4 705.9,401.9 688.6,410.5" fill="#fff" stroke="#000" stroke-width="0.6"/><polygon points="619.4,376 688.6,410.5 688.6,435.9 619.4,401.3" fill="#fff" stroke="#000" stroke-width="0.6"/><polygon points="688.6,410.5 705.9,401.9 705.9,427.2 688.6,435.9" fill="#fff" stroke="#000" stroke-width="0.6"/><path d="M636.7 367.4L654 376M654 376L671.3 384.6M671.3 384.6L688.6 393.3M688.6 393.3L705.9 401.9" stroke="#000" stroke-width="1.0" stroke-linecap="round" fill="none"/>
<polygon points="256.1,401.9 273.4,393.3 273.4,393.3 256.1,401.9" fill="#fff" stroke="#000" stroke-width="0.6"/><polygon points="256.1,401.9 256.1,401.9 256.1,427.2 256.1,427.2" fill="#fff" stroke="#000" stroke-width="0.6"/><polygon points="256.1,401.9 273.4,393.3 273.4,418.6 256.1,427.2" fill="#fff" stroke="#000" stroke-width="0.6"/>
<polygon points="273.4,393.3 290.7,401.9 290.7,427.2 273.4,418.6" fill="rgba(130,130,130,0.13)" stroke="none" stroke-width="0"/><polygon points="256.1,401.9 273.4,410.5 273.4,435.9 256.1,427.2" fill="rgba(140,140,140,0.09)" stroke="none" stroke-width="0"/><polygon points="273.4,410.5 290.7,401.9 290.7,427.2 273.4,435.9" fill="rgba(140,140,140,0.09)" stroke="none" stroke-width="0"/><path d="M256.1 402.5V426.6" stroke="#fff" stroke-width="1.3"/><path d="M256.1 401.9V427.2" stroke="rgba(120,120,120,0.28)" stroke-width="0.6"/><path d="M273.4 410.5V435.9" stroke="rgba(120,120,120,0.28)" stroke-width="0.6"/><path d="M290.7 401.9V427.2" stroke="rgba(120,120,120,0.28)" stroke-width="0.6"/><path d="M273.4 393.3V418.6" stroke="rgba(120,120,120,0.28)" stroke-width="0.6"/><use href="#g" x="273.4" y="401.9"/>
<polygon points="273.4,410.5 290.7,401.9 308,410.5 290.7,419.2" fill="#fff" stroke="#000" stroke-width="0.6"/><polygon points="273.4,410.5 290.7,419.2 290.7,444.5 273.4,435.9" fill="#fff" stroke="#000" stroke-width="0.6"/><polygon points="290.7,419.2 308,410.5 308,435.9 290.7,444.5" fill="#fff" stroke="#000" stroke-width="0.6"/><path d="M290.7 401.9L273.4 410.5M290.7 401.9L308 410.5" stroke="#000" stroke-width="1.0" stroke-linecap="round" fill="none"/>
<polygon points="705.9,401.9 775.1,436.4 775.1,461.8 705.9,427.2" fill="rgba(130,130,130,0.13)" stroke="none" stroke-width="0"/><polygon points="688.6,410.5 757.8,445.1 757.8,470.4 688.6,435.9" fill="rgba(140,140,140,0.09)" stroke="none" stroke-width="0"/><polygon points="757.8,445.1 775.1,436.4 775.1,461.8 757.8,470.4" fill="rgba(140,140,140,0.09)" stroke="none" stroke-width="0"/><path d="M688.6 410.5V435.9" stroke="rgba(120,120,120,0.28)" stroke-width="0.6"/><path d="M757.8 445.1V470.4" stroke="rgba(120,120,120,0.28)" stroke-width="0.6"/><path d="M775.1 436.4V461.8" stroke="rgba(120,120,120,0.28)" stroke-width="0.6"/><path d="M705.9 401.9V427.2" stroke="rgba(120,120,120,0.28)" stroke-width="0.6"/><use href="#g" x="705.9" y="410.5"/><use href="#g" x="723.2" y="419.2"/><use href="#g" x="740.5" y="427.8"/><use href="#g" x="757.8" y="436.4"/>
<polygon points="550.2,376 584.8,358.7 723.2,427.8 688.6,445.1" fill="#d20f00" stroke="#000" stroke-width="0.6"/><polygon points="550.2,376 688.6,445.1 688.6,470.4 550.2,401.3" fill="#d20f00" stroke="#000" stroke-width="0.6"/><polygon points="688.6,445.1 723.2,427.8 723.2,453.1 688.6,470.4" fill="#d20f00" stroke="#000" stroke-width="0.6"/><path d="M688.6 410.5L705.9 419.2M705.9 419.2L723.2 427.8" stroke="#000" stroke-width="1.0" stroke-linecap="round" fill="none"/><use href="#r" x="619.4" y="384.6"/><use href="#r" x="602.1" y="393.3"/><use href="#r" x="636.7" y="393.3"/><use href="#r" x="619.4" y="401.9"/><use href="#r" x="654" y="401.9"/><use href="#r" x="636.7" y="410.5"/><use href="#r" x="671.3" y="410.5"/><use href="#r" x="654" y="419.2"/><use href="#r" x="688.6" y="419.2"/><use href="#r" x="671.3" y="427.8"/><use href="#r" x="705.9" y="427.8"/><use href="#r" x="688.6" y="436.4"/>
<polygon points="186.9,419.2 204.2,410.5 221.5,419.2 204.2,427.8" fill="#fff" stroke="#000" stroke-width="0.6"/><polygon points="186.9,419.2 204.2,427.8 204.2,453.1 186.9,444.5" fill="#fff" stroke="#000" stroke-width="0.6"/><polygon points="204.2,427.8 221.5,419.2 221.5,444.5 204.2,453.1" fill="#fff" stroke="#000" stroke-width="0.6"/><path d="M204.2 410.5L186.9 419.2" stroke="#000" stroke-width="1.0" stroke-linecap="round" fill="none"/>
<polygon points="290.7,419.2 308,410.5 359.9,436.4 342.6,445.1" fill="#fff" stroke="#000" stroke-width="0.6"/><polygon points="290.7,419.2 342.6,445.1 342.6,470.4 290.7,444.5" fill="#fff" stroke="#000" stroke-width="0.6"/><polygon points="342.6,445.1 359.9,436.4 359.9,461.8 342.6,470.4" fill="#fff" stroke="#000" stroke-width="0.6"/><path d="M308 410.5L325.3 419.2M325.3 419.2L342.6 427.8M342.6 427.8L359.9 436.4" stroke="#000" stroke-width="1.0" stroke-linecap="round" fill="none"/>
<polygon points="757.8,445.1 775.1,436.4 844.3,471 827,479.6" fill="#fff" stroke="#000" stroke-width="0.6"/><polygon points="757.8,445.1 827,479.6 827,505 757.8,470.4" fill="#fff" stroke="#000" stroke-width="0.6"/><polygon points="827,479.6 844.3,471 844.3,496.3 827,505" fill="#fff" stroke="#000" stroke-width="0.6"/><path d="M775.1 436.4L757.8 445.1M775.1 436.4L792.4 445.1M792.4 445.1L809.7 453.7M809.7 453.7L827 462.3M827 462.3L844.3 471" stroke="#000" stroke-width="1.0" stroke-linecap="round" fill="none"/>
<polygon points="688.6,445.1 723.2,427.8 792.4,462.3 757.8,479.6" fill="#d20f00" stroke="#000" stroke-width="0.6"/><polygon points="688.6,445.1 757.8,479.6 757.8,505 688.6,470.4" fill="#d20f00" stroke="#000" stroke-width="0.6"/><polygon points="757.8,479.6 792.4,462.3 792.4,487.7 757.8,505" fill="#d20f00" stroke="#000" stroke-width="0.6"/><path d="M723.2 427.8L740.5 436.4M740.5 436.4L757.8 445.1" stroke="#000" stroke-width="1.0" stroke-linecap="round" fill="none"/><use href="#r" x="723.2" y="436.4"/><use href="#r" x="705.9" y="445.1"/><use href="#r" x="740.5" y="445.1"/><use href="#r" x="723.2" y="453.7"/><use href="#r" x="757.8" y="453.7"/><use href="#r" x="740.5" y="462.3"/><use href="#r" x="775.1" y="462.3"/><use href="#r" x="757.8" y="471"/>
<polygon points="359.9,436.4 377.2,445.1 377.2,470.4 359.9,461.8" fill="rgba(130,130,130,0.13)" stroke="none" stroke-width="0"/><polygon points="342.6,445.1 359.9,453.7 359.9,479 342.6,470.4" fill="rgba(140,140,140,0.09)" stroke="none" stroke-width="0"/><polygon points="359.9,453.7 377.2,445.1 377.2,470.4 359.9,479" fill="rgba(140,140,140,0.09)" stroke="none" stroke-width="0"/><path d="M342.6 445.7V469.8" stroke="#fff" stroke-width="1.3"/><path d="M342.6 445.1V470.4" stroke="rgba(120,120,120,0.28)" stroke-width="0.6"/><path d="M359.9 453.7V479" stroke="rgba(120,120,120,0.28)" stroke-width="0.6"/><path d="M377.2 445.1V470.4" stroke="rgba(120,120,120,0.28)" stroke-width="0.6"/><path d="M359.9 436.4V461.8" stroke="rgba(120,120,120,0.28)" stroke-width="0.6"/><use href="#g" x="359.9" y="445.1"/>
<polygon points="290.7,453.7 325.3,436.4 342.6,445.1 308,462.3" fill="#fff" stroke="#000" stroke-width="0.6"/><polygon points="290.7,453.7 308,462.3 308,487.7 290.7,479" fill="#fff" stroke="#000" stroke-width="0.6"/><polygon points="308,462.3 342.6,445.1 342.6,470.4 308,487.7" fill="#fff" stroke="#000" stroke-width="0.6"/><path d="M325.3 436.4L308 445.1M308 445.1L290.7 453.7" stroke="#000" stroke-width="1.0" stroke-linecap="round" fill="none"/>
<polygon points="359.9,453.7 377.2,445.1 446.4,479.6 429.1,488.2" fill="#fff" stroke="#000" stroke-width="0.6"/><polygon points="359.9,453.7 429.1,488.2 429.1,513.6 359.9,479" fill="#fff" stroke="#000" stroke-width="0.6"/><polygon points="429.1,488.2 446.4,479.6 446.4,505 429.1,513.6" fill="#fff" stroke="#000" stroke-width="0.6"/><path d="M377.2 445.1L359.9 453.7M377.2 445.1L394.5 453.7M394.5 453.7L411.8 462.3M411.8 462.3L429.1 471M429.1 471L446.4 479.6" stroke="#000" stroke-width="1.0" stroke-linecap="round" fill="none"/>
<polygon points="273.4,462.3 290.7,453.7 308,462.3 290.7,471" fill="#fff" stroke="#000" stroke-width="0.6"/><polygon points="273.4,462.3 290.7,471 290.7,496.3 273.4,487.7" fill="#fff" stroke="#000" stroke-width="0.6"/><polygon points="290.7,471 308,462.3 308,487.7 290.7,496.3" fill="#fff" stroke="#000" stroke-width="0.6"/><path d="M290.7 453.7L273.4 462.3" stroke="#000" stroke-width="1.0" stroke-linecap="round" fill="none"/>
<polygon points="757.8,479.6 792.4,462.3 809.7,471 775.1,488.2" fill="#fff" stroke="#000" stroke-width="0.6"/><polygon points="757.8,479.6 775.1,488.2 775.1,513.6 757.8,505" fill="#fff" stroke="#000" stroke-width="0.6"/><polygon points="775.1,488.2 809.7,471 809.7,496.3 775.1,513.6" fill="#fff" stroke="#000" stroke-width="0.6"/>
<polygon points="446.4,479.6 463.7,488.2 463.7,513.6 446.4,505" fill="rgba(130,130,130,0.13)" stroke="none" stroke-width="0"/><polygon points="429.1,488.2 446.4,496.9 446.4,522.2 429.1,513.6" fill="rgba(140,140,140,0.09)" stroke="none" stroke-width="0"/><polygon points="446.4,496.9 463.7,488.2 463.7,513.6 446.4,522.2" fill="rgba(140,140,140,0.09)" stroke="none" stroke-width="0"/><path d="M429.1 488.8V513" stroke="#fff" stroke-width="1.3"/><path d="M429.1 488.2V513.6" stroke="rgba(120,120,120,0.28)" stroke-width="0.6"/><path d="M446.4 496.9V522.2" stroke="rgba(120,120,120,0.28)" stroke-width="0.6"/><path d="M463.7 488.2V513.6" stroke="rgba(120,120,120,0.28)" stroke-width="0.6"/><path d="M446.4 479.6V505" stroke="rgba(120,120,120,0.28)" stroke-width="0.6"/><use href="#g" x="446.4" y="488.2"/>
<polygon points="377.2,496.9 411.8,479.6 429.1,488.2 394.5,505.5" fill="#fff" stroke="#000" stroke-width="0.6"/><polygon points="377.2,496.9 394.5,505.5 394.5,530.9 377.2,522.2" fill="#fff" stroke="#000" stroke-width="0.6"/><polygon points="394.5,505.5 429.1,488.2 429.1,513.6 394.5,530.9" fill="#fff" stroke="#000" stroke-width="0.6"/><path d="M411.8 479.6L394.5 488.2M394.5 488.2L377.2 496.9" stroke="#000" stroke-width="1.0" stroke-linecap="round" fill="none"/>
<polygon points="688.6,514.1 757.8,479.6 775.1,488.2 705.9,522.8" fill="#fff" stroke="#000" stroke-width="0.6"/><polygon points="688.6,514.1 705.9,522.8 705.9,548.1 688.6,539.5" fill="#fff" stroke="#000" stroke-width="0.6"/><polygon points="705.9,522.8 775.1,488.2 775.1,513.6 705.9,548.1" fill="#fff" stroke="#000" stroke-width="0.6"/><path d="M757.8 479.6L740.5 488.2M740.5 488.2L723.2 496.9M723.2 496.9L705.9 505.5M705.9 505.5L688.6 514.1" stroke="#000" stroke-width="1.0" stroke-linecap="round" fill="none"/>
<polygon points="446.4,496.9 463.7,488.2 532.9,522.8 515.6,531.4" fill="#fff" stroke="#000" stroke-width="0.6"/><polygon points="446.4,496.9 515.6,531.4 515.6,556.8 446.4,522.2" fill="#fff" stroke="#000" stroke-width="0.6"/><polygon points="515.6,531.4 532.9,522.8 532.9,548.1 515.6,556.8" fill="#fff" stroke="#000" stroke-width="0.6"/><path d="M463.7 488.2L446.4 496.9M463.7 488.2L481 496.9M481 496.9L498.3 505.5M498.3 505.5L515.6 514.1M515.6 514.1L532.9 522.8" stroke="#000" stroke-width="1.0" stroke-linecap="round" fill="none"/>
<polygon points="359.9,505.5 377.2,496.9 394.5,505.5 377.2,514.1" fill="#fff" stroke="#000" stroke-width="0.6"/><polygon points="359.9,505.5 377.2,514.1 377.2,539.5 359.9,530.9" fill="#fff" stroke="#000" stroke-width="0.6"/><polygon points="377.2,514.1 394.5,505.5 394.5,530.9 377.2,539.5" fill="#fff" stroke="#000" stroke-width="0.6"/><path d="M377.2 496.9L359.9 505.5" stroke="#000" stroke-width="1.0" stroke-linecap="round" fill="none"/>
<polygon points="619.4,548.7 688.6,514.1 705.9,522.8 636.7,557.3" fill="#fff" stroke="#000" stroke-width="0.6"/><polygon points="619.4,548.7 636.7,557.3 636.7,582.7 619.4,574" fill="#fff" stroke="#000" stroke-width="0.6"/><polygon points="636.7,557.3 705.9,522.8 705.9,548.1 636.7,582.7" fill="#fff" stroke="#000" stroke-width="0.6"/><path d="M688.6 514.1L671.3 522.8M671.3 522.8L654 531.4M654 531.4L636.7 540M636.7 540L619.4 548.7" stroke="#000" stroke-width="1.0" stroke-linecap="round" fill="none"/>
<polygon points="532.9,522.8 550.2,531.4 550.2,556.8 532.9,548.1" fill="rgba(130,130,130,0.13)" stroke="none" stroke-width="0"/><polygon points="515.6,531.4 532.9,540 532.9,565.4 515.6,556.8" fill="rgba(140,140,140,0.09)" stroke="none" stroke-width="0"/><polygon points="532.9,540 550.2,531.4 550.2,556.8 532.9,565.4" fill="rgba(140,140,140,0.09)" stroke="none" stroke-width="0"/><path d="M515.6 532V556.2" stroke="#fff" stroke-width="1.3"/><path d="M515.6 531.4V556.8" stroke="rgba(120,120,120,0.28)" stroke-width="0.6"/><path d="M532.9 540V565.4" stroke="rgba(120,120,120,0.28)" stroke-width="0.6"/><path d="M550.2 531.4V556.8" stroke="rgba(120,120,120,0.28)" stroke-width="0.6"/><path d="M532.9 522.8V548.1" stroke="rgba(120,120,120,0.28)" stroke-width="0.6"/><use href="#g" x="532.9" y="531.4"/>
<polygon points="463.7,540 498.3,522.8 515.6,531.4 481,548.7" fill="#fff" stroke="#000" stroke-width="0.6"/><polygon points="463.7,540 481,548.7 481,574 463.7,565.4" fill="#fff" stroke="#000" stroke-width="0.6"/><polygon points="481,548.7 515.6,531.4 515.6,556.8 481,574" fill="#fff" stroke="#000" stroke-width="0.6"/><path d="M498.3 522.8L481 531.4M481 531.4L463.7 540" stroke="#000" stroke-width="1.0" stroke-linecap="round" fill="none"/>
<polygon points="532.9,540 550.2,531.4 602.1,557.3 584.8,566" fill="#fff" stroke="#000" stroke-width="0.6"/><polygon points="532.9,540 584.8,566 584.8,591.3 532.9,565.4" fill="#fff" stroke="#000" stroke-width="0.6"/><polygon points="584.8,566 602.1,557.3 602.1,582.7 584.8,591.3" fill="#fff" stroke="#000" stroke-width="0.6"/><path d="M550.2 531.4L532.9 540M550.2 531.4L567.5 540M567.5 540L584.8 548.7M584.8 548.7L602.1 557.3" stroke="#000" stroke-width="1.0" stroke-linecap="round" fill="none"/>
<polygon points="446.4,548.7 463.7,540 481,548.7 463.7,557.3" fill="#fff" stroke="#000" stroke-width="0.6"/><polygon points="446.4,548.7 463.7,557.3 463.7,582.7 446.4,574" fill="#fff" stroke="#000" stroke-width="0.6"/><polygon points="463.7,557.3 481,548.7 481,574 463.7,582.7" fill="#fff" stroke="#000" stroke-width="0.6"/><path d="M463.7 540L446.4 548.7" stroke="#000" stroke-width="1.0" stroke-linecap="round" fill="none"/>
<polygon points="550.2,583.2 619.4,548.7 636.7,557.3 567.5,591.9" fill="#fff" stroke="#000" stroke-width="0.6"/><polygon points="550.2,583.2 567.5,591.9 567.5,617.2 550.2,608.6" fill="#fff" stroke="#000" stroke-width="0.6"/><polygon points="567.5,591.9 636.7,557.3 636.7,582.7 567.5,617.2" fill="#fff" stroke="#000" stroke-width="0.6"/><path d="M619.4 548.7L602.1 557.3M584.8 566L567.5 574.6M567.5 574.6L550.2 583.2" stroke="#000" stroke-width="1.0" stroke-linecap="round" fill="none"/>
<polygon points="377.2,298.8 463.7,255.7 481,264.3 394.5,307.5" fill="#fff" stroke="#000" stroke-width="0.6"/><polygon points="377.2,298.8 394.5,307.5 394.5,332.8 377.2,324.2" fill="#fff" stroke="#000" stroke-width="0.6"/><polygon points="394.5,307.5 481,264.3 481,289.6 394.5,332.8" fill="#fff" stroke="#000" stroke-width="0.6"/><path d="M463.7 255.7L446.4 264.3M446.4 264.3L429.1 272.9M429.1 272.9L411.8 281.6M411.8 281.6L394.5 290.2M394.5 290.2L377.2 298.8M463.7 255.7L481 264.3" stroke="#000" stroke-width="1.0" stroke-linecap="round" fill="none"/>
<polygon points="463.7,272.9 481,264.3 532.9,290.2 515.6,298.8" fill="#fff" stroke="#000" stroke-width="0.6"/><polygon points="463.7,272.9 515.6,298.8 515.6,324.2 463.7,298.3" fill="#fff" stroke="#000" stroke-width="0.6"/><polygon points="515.6,298.8 532.9,290.2 532.9,315.5 515.6,324.2" fill="#fff" stroke="#000" stroke-width="0.6"/><path d="M481 264.3L498.3 272.9M498.3 272.9L515.6 281.6M515.6 281.6L532.9 290.2" stroke="#000" stroke-width="1.0" stroke-linecap="round" fill="none"/>
<polygon points="532.9,290.2 567.5,307.5 567.5,332.8 532.9,315.5" fill="rgba(130,130,130,0.13)" stroke="none" stroke-width="0"/><polygon points="515.6,298.8 550.2,316.1 550.2,341.4 515.6,324.2" fill="rgba(140,140,140,0.09)" stroke="none" stroke-width="0"/><polygon points="550.2,316.1 567.5,307.5 567.5,332.8 550.2,341.4" fill="rgba(140,140,140,0.09)" stroke="none" stroke-width="0"/><path d="M515.6 298.8V324.2" stroke="rgba(120,120,120,0.28)" stroke-width="0.6"/><path d="M550.2 316.1V341.4" stroke="rgba(120,120,120,0.28)" stroke-width="0.6"/><path d="M567.5 307.5V332.8" stroke="rgba(120,120,120,0.28)" stroke-width="0.6"/><path d="M532.9 290.2V315.5" stroke="rgba(120,120,120,0.28)" stroke-width="0.6"/>
<polygon points="342.6,316.1 377.2,298.8 377.2,324.2 342.6,341.4" fill="rgba(130,130,130,0.13)" stroke="none" stroke-width="0"/><polygon points="342.6,316.1 359.9,324.7 359.9,350.1 342.6,341.4" fill="rgba(140,140,140,0.09)" stroke="none" stroke-width="0"/><polygon points="359.9,324.7 394.5,307.5 394.5,332.8 359.9,350.1" fill="rgba(140,140,140,0.09)" stroke="none" stroke-width="0"/><path d="M342.6 316.1V341.4" stroke="rgba(120,120,120,0.28)" stroke-width="0.6"/><path d="M359.9 324.7V350.1" stroke="rgba(120,120,120,0.28)" stroke-width="0.6"/><path d="M394.5 307.5V332.8" stroke="rgba(120,120,120,0.28)" stroke-width="0.6"/><path d="M377.2 298.8V324.2" stroke="rgba(120,120,120,0.28)" stroke-width="0.6"/>
<polygon points="550.2,316.1 567.5,307.5 688.6,367.9 671.3,376.5" fill="#fff" stroke="#000" stroke-width="0.6"/><polygon points="550.2,316.1 671.3,376.5 671.3,401.9 550.2,341.4" fill="#fff" stroke="#000" stroke-width="0.6"/><polygon points="671.3,376.5 688.6,367.9 688.6,393.3 671.3,401.9" fill="#fff" stroke="#000" stroke-width="0.6"/><path d="M567.5 307.5L584.8 316.1M584.8 316.1L602.1 324.7M602.1 324.7L619.4 333.4M619.4 333.4L636.7 342M636.7 342L654 350.6M654 350.6L671.3 359.3M671.3 359.3L688.6 367.9" stroke="#000" stroke-width="1.0" stroke-linecap="round" fill="none"/>
<polygon points="273.4,350.6 342.6,316.1 359.9,324.7 290.7,359.3" fill="#fff" stroke="#000" stroke-width="0.6"/><polygon points="273.4,350.6 290.7,359.3 290.7,384.6 273.4,376" fill="#fff" stroke="#000" stroke-width="0.6"/><polygon points="290.7,359.3 359.9,324.7 359.9,350.1 290.7,384.6" fill="#fff" stroke="#000" stroke-width="0.6"/><path d="M342.6 316.1L325.3 324.7M325.3 324.7L308 333.4M308 333.4L290.7 342M290.7 342L273.4 350.6" stroke="#000" stroke-width="1.0" stroke-linecap="round" fill="none"/>
<polygon points="515.6,333.4 550.2,316.1 619.4,350.6 584.8,367.9" fill="#d20f00" stroke="#000" stroke-width="0.6"/><polygon points="515.6,333.4 584.8,367.9 584.8,393.3 515.6,358.7" fill="#d20f00" stroke="#000" stroke-width="0.6"/><polygon points="584.8,367.9 619.4,350.6 619.4,376 584.8,393.3" fill="#d20f00" stroke="#000" stroke-width="0.6"/><path d="M550.2 316.1L532.9 324.7M532.9 324.7L515.6 333.4" stroke="#000" stroke-width="1.0" stroke-linecap="round" fill="none"/><use href="#r" x="550.2" y="324.7"/><use href="#r" x="532.9" y="333.4"/><use href="#r" x="567.5" y="333.4"/><use href="#r" x="550.2" y="342"/><use href="#r" x="584.8" y="342"/><use href="#r" x="567.5" y="350.6"/><use href="#r" x="602.1" y="350.6"/><use href="#r" x="584.8" y="359.3"/>
<polygon points="221.5,376.5 273.4,350.6 290.7,359.3 238.8,385.2" fill="#fff" stroke="#000" stroke-width="0.6"/><polygon points="221.5,376.5 238.8,385.2 238.8,410.5 221.5,401.9" fill="#fff" stroke="#000" stroke-width="0.6"/><polygon points="238.8,385.2 290.7,359.3 290.7,384.6 238.8,410.5" fill="#fff" stroke="#000" stroke-width="0.6"/><path d="M273.4 350.6L256.1 359.3M256.1 359.3L238.8 367.9M238.8 367.9L221.5 376.5" stroke="#000" stroke-width="1.0" stroke-linecap="round" fill="none"/>
<polygon points="671.3,376.5 688.6,367.9 705.9,376.5 688.6,385.2" fill="#fff" stroke="#000" stroke-width="0.6"/><polygon points="671.3,376.5 688.6,385.2 688.6,410.5 671.3,401.9" fill="#fff" stroke="#000" stroke-width="0.6"/><polygon points="688.6,385.2 705.9,376.5 705.9,401.9 688.6,410.5" fill="#fff" stroke="#000" stroke-width="0.6"/><path d="M688.6 367.9L705.9 376.5" stroke="#000" stroke-width="1.0" stroke-linecap="round" fill="none"/>
<polygon points="256.1,376.5 273.4,367.9 273.4,367.9 256.1,376.5" fill="#fff" stroke="#000" stroke-width="0.6"/><polygon points="256.1,376.5 256.1,376.5 256.1,401.9 256.1,401.9" fill="#fff" stroke="#000" stroke-width="0.6"/><polygon points="256.1,376.5 273.4,367.9 273.4,393.3 256.1,401.9" fill="#fff" stroke="#000" stroke-width="0.6"/>
<polygon points="273.4,367.9 290.7,376.5 290.7,401.9 273.4,393.3" fill="rgba(130,130,130,0.13)" stroke="none" stroke-width="0"/><polygon points="256.1,376.5 273.4,385.2 273.4,410.5 256.1,401.9" fill="rgba(140,140,140,0.09)" stroke="none" stroke-width="0"/><polygon points="273.4,385.2 290.7,376.5 290.7,401.9 273.4,410.5" fill="rgba(140,140,140,0.09)" stroke="none" stroke-width="0"/><path d="M256.1 377.1V401.3" stroke="#fff" stroke-width="1.3"/><path d="M256.1 376.5V401.9" stroke="rgba(120,120,120,0.28)" stroke-width="0.6"/><path d="M273.4 385.2V410.5" stroke="rgba(120,120,120,0.28)" stroke-width="0.6"/><path d="M290.7 376.5V401.9" stroke="rgba(120,120,120,0.28)" stroke-width="0.6"/><path d="M273.4 367.9V393.3" stroke="rgba(120,120,120,0.28)" stroke-width="0.6"/>
<polygon points="186.9,393.8 221.5,376.5 238.8,385.2 204.2,402.4" fill="#fff" stroke="#000" stroke-width="0.6"/><polygon points="186.9,393.8 204.2,402.4 204.2,427.8 186.9,419.2" fill="#fff" stroke="#000" stroke-width="0.6"/><polygon points="204.2,402.4 238.8,385.2 238.8,410.5 204.2,427.8" fill="#fff" stroke="#000" stroke-width="0.6"/><path d="M221.5 376.5L204.2 385.2M204.2 385.2L186.9 393.8" stroke="#000" stroke-width="1.0" stroke-linecap="round" fill="none"/>
<polygon points="273.4,385.2 290.7,376.5 342.6,402.4 325.3,411.1" fill="#fff" stroke="#000" stroke-width="0.6"/><polygon points="273.4,385.2 325.3,411.1 325.3,436.4 273.4,410.5" fill="#fff" stroke="#000" stroke-width="0.6"/><polygon points="325.3,411.1 342.6,402.4 342.6,427.8 325.3,436.4" fill="#fff" stroke="#000" stroke-width="0.6"/><path d="M290.7 376.5L308 385.2M308 385.2L325.3 393.8M325.3 393.8L342.6 402.4" stroke="#000" stroke-width="1.0" stroke-linecap="round" fill="none"/>
<polygon points="705.9,376.5 775.1,411.1 775.1,436.4 705.9,401.9" fill="rgba(130,130,130,0.13)" stroke="none" stroke-width="0"/><polygon points="688.6,385.2 757.8,419.7 757.8,445.1 688.6,410.5" fill="rgba(140,140,140,0.09)" stroke="none" stroke-width="0"/><polygon points="757.8,419.7 775.1,411.1 775.1,436.4 757.8,445.1" fill="rgba(140,140,140,0.09)" stroke="none" stroke-width="0"/><path d="M688.6 385.2V410.5" stroke="rgba(120,120,120,0.28)" stroke-width="0.6"/><path d="M757.8 419.7V445.1" stroke="rgba(120,120,120,0.28)" stroke-width="0.6"/><path d="M775.1 411.1V436.4" stroke="rgba(120,120,120,0.28)" stroke-width="0.6"/><path d="M705.9 376.5V401.9" stroke="rgba(120,120,120,0.28)" stroke-width="0.6"/>
<polygon points="325.3,411.1 342.6,402.4 359.9,411.1 342.6,419.7" fill="#fff" stroke="#000" stroke-width="0.6"/><polygon points="325.3,411.1 342.6,419.7 342.6,445.1 325.3,436.4" fill="#fff" stroke="#000" stroke-width="0.6"/><polygon points="342.6,419.7 359.9,411.1 359.9,436.4 342.6,445.1" fill="#fff" stroke="#000" stroke-width="0.6"/><path d="M342.6 402.4L359.9 411.1" stroke="#000" stroke-width="1.0" stroke-linecap="round" fill="none"/>
<polygon points="757.8,419.7 775.1,411.1 844.3,445.6 827,454.3" fill="#fff" stroke="#000" stroke-width="0.6"/><polygon points="757.8,419.7 827,454.3 827,479.6 757.8,445.1" fill="#fff" stroke="#000" stroke-width="0.6"/><polygon points="827,454.3 844.3,445.6 844.3,471 827,479.6" fill="#fff" stroke="#000" stroke-width="0.6"/><path d="M775.1 411.1L792.4 419.7M792.4 419.7L809.7 428.3M809.7 428.3L827 437M827 437L844.3 445.6" stroke="#000" stroke-width="1.0" stroke-linecap="round" fill="none"/>
<polygon points="359.9,411.1 377.2,419.7 377.2,445.1 359.9,436.4" fill="rgba(130,130,130,0.13)" stroke="none" stroke-width="0"/><polygon points="342.6,419.7 359.9,428.3 359.9,453.7 342.6,445.1" fill="rgba(140,140,140,0.09)" stroke="none" stroke-width="0"/><polygon points="359.9,428.3 377.2,419.7 377.2,445.1 359.9,453.7" fill="rgba(140,140,140,0.09)" stroke="none" stroke-width="0"/><path d="M342.6 420.3V444.5" stroke="#fff" stroke-width="1.3"/><path d="M342.6 419.7V445.1" stroke="rgba(120,120,120,0.28)" stroke-width="0.6"/><path d="M359.9 428.3V453.7" stroke="rgba(120,120,120,0.28)" stroke-width="0.6"/><path d="M377.2 419.7V445.1" stroke="rgba(120,120,120,0.28)" stroke-width="0.6"/><path d="M359.9 411.1V436.4" stroke="rgba(120,120,120,0.28)" stroke-width="0.6"/>
<polygon points="308,419.7 325.3,411.1 342.6,419.7 325.3,428.3" fill="#fff" stroke="#000" stroke-width="0.6"/><polygon points="308,419.7 325.3,428.3 325.3,453.7 308,445.1" fill="#fff" stroke="#000" stroke-width="0.6"/><polygon points="325.3,428.3 342.6,419.7 342.6,445.1 325.3,453.7" fill="#fff" stroke="#000" stroke-width="0.6"/><path d="M325.3 411.1L308 419.7" stroke="#000" stroke-width="1.0" stroke-linecap="round" fill="none"/>
<polygon points="359.9,428.3 377.2,419.7 429.1,445.6 411.8,454.3" fill="#fff" stroke="#000" stroke-width="0.6"/><polygon points="359.9,428.3 411.8,454.3 411.8,479.6 359.9,453.7" fill="#fff" stroke="#000" stroke-width="0.6"/><polygon points="411.8,454.3 429.1,445.6 429.1,471 411.8,479.6" fill="#fff" stroke="#000" stroke-width="0.6"/><path d="M377.2 419.7L394.5 428.3M394.5 428.3L411.8 437M411.8 437L429.1 445.6" stroke="#000" stroke-width="1.0" stroke-linecap="round" fill="none"/>
<polygon points="273.4,437 308,419.7 325.3,428.3 290.7,445.6" fill="#fff" stroke="#000" stroke-width="0.6"/><polygon points="273.4,437 290.7,445.6 290.7,471 273.4,462.3" fill="#fff" stroke="#000" stroke-width="0.6"/><polygon points="290.7,445.6 325.3,428.3 325.3,453.7 290.7,471" fill="#fff" stroke="#000" stroke-width="0.6"/><path d="M308 419.7L290.7 428.3" stroke="#000" stroke-width="1.0" stroke-linecap="round" fill="none"/>
<polygon points="723.2,471.5 792.4,437 809.7,445.6 740.5,480.2" fill="#fff" stroke="#000" stroke-width="0.6"/><polygon points="723.2,471.5 740.5,480.2 740.5,505.5 723.2,496.9" fill="#fff" stroke="#000" stroke-width="0.6"/><polygon points="740.5,480.2 809.7,445.6 809.7,471 740.5,505.5" fill="#fff" stroke="#000" stroke-width="0.6"/><path d="M792.4 437L775.1 445.6M775.1 445.6L757.8 454.3M757.8 454.3L740.5 462.9M740.5 462.9L723.2 471.5" stroke="#000" stroke-width="1.0" stroke-linecap="round" fill="none"/>
<polygon points="411.8,454.3 429.1,445.6 446.4,454.3 429.1,462.9" fill="#fff" stroke="#000" stroke-width="0.6"/><polygon points="411.8,454.3 429.1,462.9 429.1,488.2 411.8,479.6" fill="#fff" stroke="#000" stroke-width="0.6"/><polygon points="429.1,462.9 446.4,454.3 446.4,479.6 429.1,488.2" fill="#fff" stroke="#000" stroke-width="0.6"/><path d="M429.1 445.6L446.4 454.3" stroke="#000" stroke-width="1.0" stroke-linecap="round" fill="none"/>
<polygon points="446.4,454.3 463.7,462.9 463.7,488.2 446.4,479.6" fill="rgba(130,130,130,0.13)" stroke="none" stroke-width="0"/><polygon points="429.1,462.9 446.4,471.5 446.4,496.9 429.1,488.2" fill="rgba(140,140,140,0.09)" stroke="none" stroke-width="0"/><polygon points="446.4,471.5 463.7,462.9 463.7,488.2 446.4,496.9" fill="rgba(140,140,140,0.09)" stroke="none" stroke-width="0"/><path d="M429.1 463.5V487.6" stroke="#fff" stroke-width="1.3"/><path d="M429.1 462.9V488.2" stroke="rgba(120,120,120,0.28)" stroke-width="0.6"/><path d="M446.4 471.5V496.9" stroke="rgba(120,120,120,0.28)" stroke-width="0.6"/><path d="M463.7 462.9V488.2" stroke="rgba(120,120,120,0.28)" stroke-width="0.6"/><path d="M446.4 454.3V479.6" stroke="rgba(120,120,120,0.28)" stroke-width="0.6"/>
<polygon points="394.5,462.9 411.8,454.3 429.1,462.9 411.8,471.5" fill="#fff" stroke="#000" stroke-width="0.6"/><polygon points="394.5,462.9 411.8,471.5 411.8,496.9 394.5,488.2" fill="#fff" stroke="#000" stroke-width="0.6"/><polygon points="411.8,471.5 429.1,462.9 429.1,488.2 411.8,496.9" fill="#fff" stroke="#000" stroke-width="0.6"/><path d="M411.8 454.3L394.5 462.9" stroke="#000" stroke-width="1.0" stroke-linecap="round" fill="none"/>
<polygon points="446.4,471.5 463.7,462.9 515.6,488.8 498.3,497.4" fill="#fff" stroke="#000" stroke-width="0.6"/><polygon points="446.4,471.5 498.3,497.4 498.3,522.8 446.4,496.9" fill="#fff" stroke="#000" stroke-width="0.6"/><polygon points="498.3,497.4 515.6,488.8 515.6,514.1 498.3,522.8" fill="#fff" stroke="#000" stroke-width="0.6"/><path d="M463.7 462.9L481 471.5M481 471.5L498.3 480.2M498.3 480.2L515.6 488.8" stroke="#000" stroke-width="1.0" stroke-linecap="round" fill="none"/>
<polygon points="359.9,480.2 394.5,462.9 411.8,471.5 377.2,488.8" fill="#fff" stroke="#000" stroke-width="0.6"/><polygon points="359.9,480.2 377.2,488.8 377.2,514.1 359.9,505.5" fill="#fff" stroke="#000" stroke-width="0.6"/><polygon points="377.2,488.8 411.8,471.5 411.8,496.9 377.2,514.1" fill="#fff" stroke="#000" stroke-width="0.6"/><path d="M394.5 462.9L377.2 471.5" stroke="#000" stroke-width="1.0" stroke-linecap="round" fill="none"/>
<polygon points="654,506.1 723.2,471.5 740.5,480.2 671.3,514.7" fill="#fff" stroke="#000" stroke-width="0.6"/><polygon points="654,506.1 671.3,514.7 671.3,540 654,531.4" fill="#fff" stroke="#000" stroke-width="0.6"/><polygon points="671.3,514.7 740.5,480.2 740.5,505.5 671.3,540" fill="#fff" stroke="#000" stroke-width="0.6"/><path d="M723.2 471.5L705.9 480.2M705.9 480.2L688.6 488.8M688.6 488.8L671.3 497.4M671.3 497.4L654 506.1" stroke="#000" stroke-width="1.0" stroke-linecap="round" fill="none"/>
<polygon points="498.3,497.4 515.6,488.8 532.9,497.4 515.6,506.1" fill="#fff" stroke="#000" stroke-width="0.6"/><polygon points="498.3,497.4 515.6,506.1 515.6,531.4 498.3,522.8" fill="#fff" stroke="#000" stroke-width="0.6"/><polygon points="515.6,506.1 532.9,497.4 532.9,522.8 515.6,531.4" fill="#fff" stroke="#000" stroke-width="0.6"/><path d="M515.6 488.8L532.9 497.4" stroke="#000" stroke-width="1.0" stroke-linecap="round" fill="none"/>
<polygon points="532.9,497.4 550.2,506.1 550.2,531.4 532.9,522.8" fill="rgba(130,130,130,0.13)" stroke="none" stroke-width="0"/><polygon points="515.6,506.1 532.9,514.7 532.9,540 515.6,531.4" fill="rgba(140,140,140,0.09)" stroke="none" stroke-width="0"/><polygon points="532.9,514.7 550.2,506.1 550.2,531.4 532.9,540" fill="rgba(140,140,140,0.09)" stroke="none" stroke-width="0"/><path d="M515.6 506.7V530.8" stroke="#fff" stroke-width="1.3"/><path d="M515.6 506.1V531.4" stroke="rgba(120,120,120,0.28)" stroke-width="0.6"/><path d="M532.9 514.7V540" stroke="rgba(120,120,120,0.28)" stroke-width="0.6"/><path d="M550.2 506.1V531.4" stroke="rgba(120,120,120,0.28)" stroke-width="0.6"/><path d="M532.9 497.4V522.8" stroke="rgba(120,120,120,0.28)" stroke-width="0.6"/>
<polygon points="481,506.1 498.3,497.4 515.6,506.1 498.3,514.7" fill="#fff" stroke="#000" stroke-width="0.6"/><polygon points="481,506.1 498.3,514.7 498.3,540 481,531.4" fill="#fff" stroke="#000" stroke-width="0.6"/><polygon points="498.3,514.7 515.6,506.1 515.6,531.4 498.3,540" fill="#fff" stroke="#000" stroke-width="0.6"/><path d="M498.3 497.4L481 506.1" stroke="#000" stroke-width="1.0" stroke-linecap="round" fill="none"/>
<polygon points="532.9,514.7 550.2,506.1 602.1,532 584.8,540.6" fill="#fff" stroke="#000" stroke-width="0.6"/><polygon points="532.9,514.7 584.8,540.6 584.8,566 532.9,540" fill="#fff" stroke="#000" stroke-width="0.6"/><polygon points="584.8,540.6 602.1,532 602.1,557.3 584.8,566" fill="#fff" stroke="#000" stroke-width="0.6"/><path d="M550.2 506.1L567.5 514.7M567.5 514.7L584.8 523.3M584.8 523.3L602.1 532" stroke="#000" stroke-width="1.0" stroke-linecap="round" fill="none"/>
<polygon points="446.4,523.3 481,506.1 498.3,514.7 463.7,532" fill="#fff" stroke="#000" stroke-width="0.6"/><polygon points="446.4,523.3 463.7,532 463.7,557.3 446.4,548.7" fill="#fff" stroke="#000" stroke-width="0.6"/><polygon points="463.7,532 498.3,514.7 498.3,540 463.7,557.3" fill="#fff" stroke="#000" stroke-width="0.6"/><path d="M481 506.1L463.7 514.7" stroke="#000" stroke-width="1.0" stroke-linecap="round" fill="none"/>
<polygon points="584.8,540.6 654,506.1 671.3,514.7 602.1,549.2" fill="#fff" stroke="#000" stroke-width="0.6"/><polygon points="584.8,540.6 602.1,549.2 602.1,574.6 584.8,566" fill="#fff" stroke="#000" stroke-width="0.6"/><polygon points="602.1,549.2 671.3,514.7 671.3,540 602.1,574.6" fill="#fff" stroke="#000" stroke-width="0.6"/><path d="M654 506.1L636.7 514.7M636.7 514.7L619.4 523.3M619.4 523.3L602.1 532" stroke="#000" stroke-width="1.0" stroke-linecap="round" fill="none"/>
<polygon points="567.5,549.2 584.8,540.6 602.1,549.2 584.8,557.9" fill="#fff" stroke="#000" stroke-width="0.6"/><polygon points="567.5,549.2 584.8,557.9 584.8,583.2 567.5,574.6" fill="#fff" stroke="#000" stroke-width="0.6"/><polygon points="584.8,557.9 602.1,549.2 602.1,574.6 584.8,583.2" fill="#fff" stroke="#000" stroke-width="0.6"/><path d="M584.8 540.6L567.5 549.2" stroke="#000" stroke-width="1.0" stroke-linecap="round" fill="none"/>
<polygon points="602.1,549.2 619.4,540.6 688.6,575.1 671.3,583.8" fill="#fff" stroke="#000" stroke-width="0.6"/><polygon points="602.1,549.2 671.3,583.8 671.3,609.1 602.1,574.6" fill="#fff" stroke="#000" stroke-width="0.6"/><polygon points="671.3,583.8 688.6,575.1 688.6,600.5 671.3,609.1" fill="#fff" stroke="#000" stroke-width="0.6"/><path d="M619.4 540.6L636.7 549.2M636.7 549.2L654 557.9M654 557.9L671.3 566.5M671.3 566.5L688.6 575.1" stroke="#000" stroke-width="1.0" stroke-linecap="round" fill="none"/>
<polygon points="532.9,566.5 567.5,549.2 584.8,557.9 550.2,575.1" fill="#fff" stroke="#000" stroke-width="0.6"/><polygon points="532.9,566.5 550.2,575.1 550.2,600.5 532.9,591.9" fill="#fff" stroke="#000" stroke-width="0.6"/><polygon points="550.2,575.1 584.8,557.9 584.8,583.2 550.2,600.5" fill="#fff" stroke="#000" stroke-width="0.6"/><path d="M567.5 549.2L550.2 557.9M550.2 557.9L532.9 566.5" stroke="#000" stroke-width="1.0" stroke-linecap="round" fill="none"/>
<polygon points="394.5,264.8 463.7,230.3 481,238.9 411.8,273.5" fill="#fff" stroke="#000" stroke-width="0.6"/><polygon points="394.5,264.8 411.8,273.5 411.8,298.8 394.5,290.2" fill="#fff" stroke="#000" stroke-width="0.6"/><polygon points="411.8,273.5 481,238.9 481,264.3 411.8,298.8" fill="#fff" stroke="#000" stroke-width="0.6"/><path d="M463.7 230.3L446.4 238.9M446.4 238.9L429.1 247.6M429.1 247.6L411.8 256.2M411.8 256.2L394.5 264.8M463.7 230.3L481 238.9" stroke="#000" stroke-width="1.0" stroke-linecap="round" fill="none"/>
<polygon points="463.7,247.6 481,238.9 619.4,308 602.1,316.6" fill="#fff" stroke="#000" stroke-width="0.6"/><polygon points="463.7,247.6 602.1,316.6 602.1,342 463.7,272.9" fill="#fff" stroke="#000" stroke-width="0.6"/><polygon points="602.1,316.6 619.4,308 619.4,333.4 602.1,342" fill="#fff" stroke="#000" stroke-width="0.6"/><path d="M481 238.9L498.3 247.6M498.3 247.6L515.6 256.2M515.6 256.2L532.9 264.8M532.9 264.8L550.2 273.5M550.2 273.5L567.5 282.1M567.5 282.1L584.8 290.7M584.8 290.7L602.1 299.4M602.1 299.4L619.4 308" stroke="#000" stroke-width="1.0" stroke-linecap="round" fill="none"/>
<polygon points="377.2,273.5 394.5,264.8 411.8,273.5 394.5,282.1" fill="#fff" stroke="#000" stroke-width="0.6"/><polygon points="377.2,273.5 394.5,282.1 394.5,307.5 377.2,298.8" fill="#fff" stroke="#000" stroke-width="0.6"/><polygon points="394.5,282.1 411.8,273.5 411.8,298.8 394.5,307.5" fill="#fff" stroke="#000" stroke-width="0.6"/><path d="M394.5 264.8L377.2 273.5" stroke="#000" stroke-width="1.0" stroke-linecap="round" fill="none"/>
<polygon points="290.7,316.6 377.2,273.5 394.5,282.1 308,325.3" fill="#fff" stroke="#000" stroke-width="0.6"/><polygon points="290.7,316.6 308,325.3 308,350.6 290.7,342" fill="#fff" stroke="#000" stroke-width="0.6"/><polygon points="308,325.3 394.5,282.1 394.5,307.5 308,350.6" fill="#fff" stroke="#000" stroke-width="0.6"/><path d="M377.2 273.5L359.9 282.1M359.9 282.1L342.6 290.7M342.6 290.7L325.3 299.4M325.3 299.4L308 308M308 308L290.7 316.6" stroke="#000" stroke-width="1.0" stroke-linecap="round" fill="none"/>
<polygon points="602.1,316.6 619.4,308 688.6,342.6 671.3,351.2" fill="#fff" stroke="#000" stroke-width="0.6"/><polygon points="602.1,316.6 671.3,351.2 671.3,376.5 602.1,342" fill="#fff" stroke="#000" stroke-width="0.6"/><polygon points="671.3,351.2 688.6,342.6 688.6,367.9 671.3,376.5" fill="#fff" stroke="#000" stroke-width="0.6"/><path d="M619.4 308L636.7 316.6M636.7 316.6L654 325.3M654 325.3L671.3 333.9M671.3 333.9L688.6 342.6" stroke="#000" stroke-width="1.0" stroke-linecap="round" fill="none"/>
<polygon points="204.2,359.8 290.7,316.6 308,325.3 221.5,368.5" fill="#fff" stroke="#000" stroke-width="0.6"/><polygon points="204.2,359.8 221.5,368.5 221.5,393.8 204.2,385.2" fill="#fff" stroke="#000" stroke-width="0.6"/><polygon points="221.5,368.5 308,325.3 308,350.6 221.5,393.8" fill="#fff" stroke="#000" stroke-width="0.6"/><path d="M290.7 316.6L273.4 325.3M273.4 325.3L256.1 333.9M256.1 333.9L238.8 342.6M238.8 342.6L221.5 351.2M221.5 351.2L204.2 359.8" stroke="#000" stroke-width="1.0" stroke-linecap="round" fill="none"/>
<polygon points="671.3,351.2 688.6,342.6 792.4,394.4 775.1,403" fill="#fff" stroke="#000" stroke-width="0.6"/><polygon points="671.3,351.2 775.1,403 775.1,428.3 671.3,376.5" fill="#fff" stroke="#000" stroke-width="0.6"/><polygon points="775.1,403 792.4,394.4 792.4,419.7 775.1,428.3" fill="#fff" stroke="#000" stroke-width="0.6"/><path d="M688.6 342.6L705.9 351.2M705.9 351.2L723.2 359.8M723.2 359.8L740.5 368.5M740.5 368.5L757.8 377.1M757.8 377.1L775.1 385.7M775.1 385.7L792.4 394.4" stroke="#000" stroke-width="1.0" stroke-linecap="round" fill="none"/>
<polygon points="256.1,351.2 273.4,342.6 325.3,368.5 308,377.1" fill="#fff" stroke="#000" stroke-width="0.6"/><polygon points="256.1,351.2 308,377.1 308,402.4 256.1,376.5" fill="#fff" stroke="#000" stroke-width="0.6"/><polygon points="308,377.1 325.3,368.5 325.3,393.8 308,402.4" fill="#fff" stroke="#000" stroke-width="0.6"/><path d="M273.4 342.6L290.7 351.2M290.7 351.2L308 359.8M308 359.8L325.3 368.5" stroke="#000" stroke-width="1.0" stroke-linecap="round" fill="none"/>
<polygon points="186.9,368.5 204.2,359.8 221.5,368.5 204.2,377.1" fill="#fff" stroke="#000" stroke-width="0.6"/><polygon points="186.9,368.5 204.2,377.1 204.2,402.4 186.9,393.8" fill="#fff" stroke="#000" stroke-width="0.6"/><polygon points="204.2,377.1 221.5,368.5 221.5,393.8 204.2,402.4" fill="#fff" stroke="#000" stroke-width="0.6"/><path d="M204.2 359.8L186.9 368.5" stroke="#000" stroke-width="1.0" stroke-linecap="round" fill="none"/>
<polygon points="308,377.1 325.3,368.5 394.5,403 377.2,411.6" fill="#fff" stroke="#000" stroke-width="0.6"/><polygon points="308,377.1 377.2,411.6 377.2,437 308,402.4" fill="#fff" stroke="#000" stroke-width="0.6"/><polygon points="377.2,411.6 394.5,403 394.5,428.3 377.2,437" fill="#fff" stroke="#000" stroke-width="0.6"/><path d="M325.3 368.5L342.6 377.1M342.6 377.1L359.9 385.7M359.9 385.7L377.2 394.4M377.2 394.4L394.5 403" stroke="#000" stroke-width="1.0" stroke-linecap="round" fill="none"/>
<polygon points="290.7,403 325.3,385.7 342.6,394.4 308,411.6" fill="#fff" stroke="#000" stroke-width="0.6"/><polygon points="290.7,403 308,411.6 308,437 290.7,428.3" fill="#fff" stroke="#000" stroke-width="0.6"/><polygon points="308,411.6 342.6,394.4 342.6,419.7 308,437" fill="#fff" stroke="#000" stroke-width="0.6"/><path d="M325.3 385.7L308 394.4M308 394.4L290.7 403" stroke="#000" stroke-width="1.0" stroke-linecap="round" fill="none"/>
<polygon points="775.1,403 792.4,394.4 878.9,437.5 861.6,446.2" fill="#fff" stroke="#000" stroke-width="0.6"/><polygon points="775.1,403 861.6,446.2 861.6,471.5 775.1,428.3" fill="#fff" stroke="#000" stroke-width="0.6"/><polygon points="861.6,446.2 878.9,437.5 878.9,462.9 861.6,471.5" fill="#fff" stroke="#000" stroke-width="0.6"/><path d="M792.4 394.4L809.7 403M809.7 403L827 411.6" stroke="#000" stroke-width="1.0" stroke-linecap="round" fill="none"/>
<polygon points="256.1,403 273.4,394.4 377.2,446.2 359.9,454.8" fill="#fff" stroke="#000" stroke-width="0.6"/><polygon points="256.1,403 359.9,454.8 359.9,480.2 256.1,428.3" fill="#fff" stroke="#000" stroke-width="0.6"/><polygon points="359.9,454.8 377.2,446.2 377.2,471.5 359.9,480.2" fill="#fff" stroke="#000" stroke-width="0.6"/><path d="M273.4 394.4L256.1 403M273.4 394.4L290.7 403M308 411.6L325.3 420.3M325.3 420.3L342.6 428.9M342.6 428.9L359.9 437.5M359.9 437.5L377.2 446.2" stroke="#000" stroke-width="1.0" stroke-linecap="round" fill="none"/><use href="#s" x="273.4" y="403"/><use href="#s" x="308" y="420.3"/><use href="#s" x="325.3" y="428.9"/><use href="#s" x="342.6" y="437.5"/><use href="#s" x="359.9" y="446.2"/>
<polygon points="377.2,411.6 394.5,403 481,446.2 463.7,454.8" fill="#fff" stroke="#000" stroke-width="0.6"/><polygon points="377.2,411.6 463.7,454.8 463.7,480.2 377.2,437" fill="#fff" stroke="#000" stroke-width="0.6"/><polygon points="463.7,454.8 481,446.2 481,471.5 463.7,480.2" fill="#fff" stroke="#000" stroke-width="0.6"/><path d="M394.5 403L411.8 411.6M411.8 411.6L429.1 420.3M429.1 420.3L446.4 428.9M446.4 428.9L463.7 437.5M463.7 437.5L481 446.2" stroke="#000" stroke-width="1.0" stroke-linecap="round" fill="none"/>
<polygon points="757.8,428.9 792.4,411.6 809.7,420.3 775.1,437.5" fill="#fff" stroke="#000" stroke-width="0.6"/><polygon points="757.8,428.9 775.1,437.5 775.1,462.9 757.8,454.3" fill="#fff" stroke="#000" stroke-width="0.6"/><polygon points="775.1,437.5 809.7,420.3 809.7,445.6 775.1,462.9" fill="#fff" stroke="#000" stroke-width="0.6"/><path d="M792.4 411.6L775.1 420.3M775.1 420.3L757.8 428.9" stroke="#000" stroke-width="1.0" stroke-linecap="round" fill="none"/>
<polygon points="377.2,446.2 411.8,428.9 429.1,437.5 394.5,454.8" fill="#fff" stroke="#000" stroke-width="0.6"/><polygon points="377.2,446.2 394.5,454.8 394.5,480.2 377.2,471.5" fill="#fff" stroke="#000" stroke-width="0.6"/><polygon points="394.5,454.8 429.1,437.5 429.1,462.9 394.5,480.2" fill="#fff" stroke="#000" stroke-width="0.6"/><path d="M411.8 428.9L394.5 437.5M394.5 437.5L377.2 446.2" stroke="#000" stroke-width="1.0" stroke-linecap="round" fill="none"/>
<polygon points="688.6,463.4 757.8,428.9 775.1,437.5 705.9,472.1" fill="#fff" stroke="#000" stroke-width="0.6"/><polygon points="688.6,463.4 705.9,472.1 705.9,497.4 688.6,488.8" fill="#fff" stroke="#000" stroke-width="0.6"/><polygon points="705.9,472.1 775.1,437.5 775.1,462.9 705.9,497.4" fill="#fff" stroke="#000" stroke-width="0.6"/><path d="M757.8 428.9L740.5 437.5M740.5 437.5L723.2 446.2M723.2 446.2L705.9 454.8M705.9 454.8L688.6 463.4" stroke="#000" stroke-width="1.0" stroke-linecap="round" fill="none"/>
<polygon points="463.7,454.8 481,446.2 602.1,506.6 584.8,515.3" fill="#fff" stroke="#000" stroke-width="0.6"/><polygon points="463.7,454.8 584.8,515.3 584.8,540.6 463.7,480.2" fill="#fff" stroke="#000" stroke-width="0.6"/><polygon points="584.8,515.3 602.1,506.6 602.1,532 584.8,540.6" fill="#fff" stroke="#000" stroke-width="0.6"/><path d="M481 446.2L498.3 454.8M498.3 454.8L515.6 463.4M515.6 463.4L532.9 472.1M532.9 472.1L550.2 480.7M550.2 480.7L567.5 489.3M567.5 489.3L584.8 498M584.8 498L602.1 506.6" stroke="#000" stroke-width="1.0" stroke-linecap="round" fill="none"/>
<polygon points="359.9,454.8 377.2,446.2 394.5,454.8 377.2,463.4" fill="#fff" stroke="#000" stroke-width="0.6"/><polygon points="359.9,454.8 377.2,463.4 377.2,488.8 359.9,480.2" fill="#fff" stroke="#000" stroke-width="0.6"/><polygon points="377.2,463.4 394.5,454.8 394.5,480.2 377.2,488.8" fill="#fff" stroke="#000" stroke-width="0.6"/>
<polygon points="619.4,498 688.6,463.4 705.9,472.1 636.7,506.6" fill="#fff" stroke="#000" stroke-width="0.6"/><polygon points="619.4,498 636.7,506.6 636.7,532 619.4,523.3" fill="#fff" stroke="#000" stroke-width="0.6"/><polygon points="636.7,506.6 705.9,472.1 705.9,497.4 636.7,532" fill="#fff" stroke="#000" stroke-width="0.6"/><path d="M688.6 463.4L671.3 472.1M671.3 472.1L654 480.7M654 480.7L636.7 489.3M636.7 489.3L619.4 498" stroke="#000" stroke-width="1.0" stroke-linecap="round" fill="none"/>
<polygon points="463.7,489.3 498.3,472.1 515.6,480.7 481,498" fill="#fff" stroke="#000" stroke-width="0.6"/><polygon points="463.7,489.3 481,498 481,523.3 463.7,514.7" fill="#fff" stroke="#000" stroke-width="0.6"/><polygon points="481,498 515.6,480.7 515.6,506.1 481,523.3" fill="#fff" stroke="#000" stroke-width="0.6"/><path d="M498.3 472.1L481 480.7M481 480.7L463.7 489.3" stroke="#000" stroke-width="1.0" stroke-linecap="round" fill="none"/>
<polygon points="377.2,463.4 394.5,454.8 498.3,506.6 481,515.3" fill="#fff" stroke="#000" stroke-width="0.6"/><polygon points="377.2,463.4 481,515.3 481,540.6 377.2,488.8" fill="#fff" stroke="#000" stroke-width="0.6"/><polygon points="481,515.3 498.3,506.6 498.3,532 481,540.6" fill="#fff" stroke="#000" stroke-width="0.6"/><path d="M394.5 454.8L411.8 463.4M411.8 463.4L429.1 472.1M429.1 472.1L446.4 480.7M446.4 480.7L463.7 489.3M481 498L498.3 506.6" stroke="#000" stroke-width="1.0" stroke-linecap="round" fill="none"/><use href="#s" x="394.5" y="463.4"/><use href="#s" x="411.8" y="472.1"/><use href="#s" x="429.1" y="480.7"/><use href="#s" x="446.4" y="489.3"/><use href="#s" x="481" y="506.6"/>
<polygon points="550.2,532.5 619.4,498 636.7,506.6 567.5,541.2" fill="#fff" stroke="#000" stroke-width="0.6"/><polygon points="550.2,532.5 567.5,541.2 567.5,566.5 550.2,557.9" fill="#fff" stroke="#000" stroke-width="0.6"/><polygon points="567.5,541.2 636.7,506.6 636.7,532 567.5,566.5" fill="#fff" stroke="#000" stroke-width="0.6"/><path d="M619.4 498L602.1 506.6M584.8 515.3L567.5 523.9M567.5 523.9L550.2 532.5" stroke="#000" stroke-width="1.0" stroke-linecap="round" fill="none"/>
<polygon points="602.1,523.9 619.4,515.3 723.2,567.1 705.9,575.7" fill="#fff" stroke="#000" stroke-width="0.6"/><polygon points="602.1,523.9 705.9,575.7 705.9,601 602.1,549.2" fill="#fff" stroke="#000" stroke-width="0.6"/><polygon points="705.9,575.7 723.2,567.1 723.2,592.4 705.9,601" fill="#fff" stroke="#000" stroke-width="0.6"/>
<polygon points="532.9,541.2 550.2,532.5 567.5,541.2 550.2,549.8" fill="#fff" stroke="#000" stroke-width="0.6"/><polygon points="532.9,541.2 550.2,549.8 550.2,575.1 532.9,566.5" fill="#fff" stroke="#000" stroke-width="0.6"/><polygon points="550.2,549.8 567.5,541.2 567.5,566.5 550.2,575.1" fill="#fff" stroke="#000" stroke-width="0.6"/><path d="M550.2 532.5L532.9 541.2" stroke="#000" stroke-width="1.0" stroke-linecap="round" fill="none"/>
<polygon points="359.9,256.8 463.7,204.9 481,213.6 377.2,265.4" fill="#fff" stroke="#000" stroke-width="0.6"/><polygon points="359.9,256.8 377.2,265.4 377.2,290.7 359.9,282.1" fill="#fff" stroke="#000" stroke-width="0.6"/><polygon points="377.2,265.4 481,213.6 481,238.9 377.2,290.7" fill="#fff" stroke="#000" stroke-width="0.6"/><path d="M463.7 204.9L446.4 213.6M446.4 213.6L429.1 222.2M429.1 222.2L411.8 230.9M411.8 230.9L394.5 239.5M394.5 239.5L377.2 248.1M377.2 248.1L359.9 256.8M463.7 204.9L481 213.6" stroke="#000" stroke-width="1.0" stroke-linecap="round" fill="none"/>
<polygon points="463.7,222.2 481,213.6 498.3,222.2 481,230.9" fill="#fff" stroke="#000" stroke-width="0.6"/><polygon points="463.7,222.2 481,230.9 481,256.2 463.7,247.6" fill="#fff" stroke="#000" stroke-width="0.6"/><polygon points="481,230.9 498.3,222.2 498.3,247.6 481,256.2" fill="#fff" stroke="#000" stroke-width="0.6"/><path d="M481 213.6L498.3 222.2" stroke="#000" stroke-width="1.0" stroke-linecap="round" fill="none"/>
<polygon points="481,230.9 498.3,222.2 567.5,256.8 550.2,265.4" fill="#fff" stroke="#000" stroke-width="0.6"/><polygon points="481,230.9 550.2,265.4 550.2,290.7 481,256.2" fill="#fff" stroke="#000" stroke-width="0.6"/><polygon points="550.2,265.4 567.5,256.8 567.5,282.1 550.2,290.7" fill="#fff" stroke="#000" stroke-width="0.6"/><path d="M498.3 222.2L515.6 230.9M515.6 230.9L532.9 239.5M532.9 239.5L550.2 248.1M550.2 248.1L567.5 256.8" stroke="#000" stroke-width="1.0" stroke-linecap="round" fill="none"/>
<polygon points="256.1,308.6 359.9,256.8 377.2,265.4 273.4,317.2" fill="#fff" stroke="#000" stroke-width="0.6"/><polygon points="256.1,308.6 273.4,317.2 273.4,342.6 256.1,333.9" fill="#fff" stroke="#000" stroke-width="0.6"/><polygon points="273.4,317.2 377.2,265.4 377.2,290.7 273.4,342.6" fill="#fff" stroke="#000" stroke-width="0.6"/><path d="M359.9 256.8L342.6 265.4M342.6 265.4L325.3 274M325.3 274L308 282.7M308 282.7L290.7 291.3M290.7 291.3L273.4 299.9M273.4 299.9L256.1 308.6" stroke="#000" stroke-width="1.0" stroke-linecap="round" fill="none"/>
<polygon points="550.2,265.4 567.5,256.8 602.1,274 584.8,282.7" fill="#fff" stroke="#000" stroke-width="0.6"/><polygon points="550.2,265.4 584.8,282.7 584.8,308 550.2,290.7" fill="#fff" stroke="#000" stroke-width="0.6"/><polygon points="584.8,282.7 602.1,274 602.1,299.4 584.8,308" fill="#fff" stroke="#000" stroke-width="0.6"/><path d="M567.5 256.8L584.8 265.4M584.8 265.4L602.1 274" stroke="#000" stroke-width="1.0" stroke-linecap="round" fill="none"/>
<polygon points="584.8,282.7 602.1,274 705.9,325.8 688.6,334.5" fill="#fff" stroke="#000" stroke-width="0.6"/><polygon points="584.8,282.7 688.6,334.5 688.6,359.8 584.8,308" fill="#fff" stroke="#000" stroke-width="0.6"/><polygon points="688.6,334.5 705.9,325.8 705.9,351.2 688.6,359.8" fill="#fff" stroke="#000" stroke-width="0.6"/><path d="M602.1 274L619.4 282.7M619.4 282.7L636.7 291.3M636.7 291.3L654 299.9M654 299.9L671.3 308.6M671.3 308.6L688.6 317.2M688.6 317.2L705.9 325.8" stroke="#000" stroke-width="1.0" stroke-linecap="round" fill="none"/><use href="#s" x="636.7" y="299.9"/><use href="#s" x="654" y="308.6"/><use href="#s" x="671.3" y="317.2"/><use href="#s" x="688.6" y="325.8"/>
<polygon points="186.9,343.1 256.1,308.6 273.4,317.2 204.2,351.7" fill="#fff" stroke="#000" stroke-width="0.6"/><polygon points="186.9,343.1 204.2,351.7 204.2,377.1 186.9,368.5" fill="#fff" stroke="#000" stroke-width="0.6"/><polygon points="204.2,351.7 273.4,317.2 273.4,342.6 204.2,377.1" fill="#fff" stroke="#000" stroke-width="0.6"/><path d="M256.1 308.6L238.8 317.2M238.8 317.2L221.5 325.8M221.5 325.8L204.2 334.5M204.2 334.5L186.9 343.1" stroke="#000" stroke-width="1.0" stroke-linecap="round" fill="none"/><use href="#s" x="204.2" y="343.1"/>
<polygon points="256.1,325.8 273.4,317.2 342.6,351.7 325.3,360.4" fill="#fff" stroke="#000" stroke-width="0.6"/><polygon points="256.1,325.8 325.3,360.4 325.3,385.7 256.1,351.2" fill="#fff" stroke="#000" stroke-width="0.6"/><polygon points="325.3,360.4 342.6,351.7 342.6,377.1 325.3,385.7" fill="#fff" stroke="#000" stroke-width="0.6"/><path d="M273.4 317.2L290.7 325.8M290.7 325.8L308 334.5M308 334.5L325.3 343.1M325.3 343.1L342.6 351.7" stroke="#000" stroke-width="1.0" stroke-linecap="round" fill="none"/>
<polygon points="688.6,334.5 705.9,325.8 740.5,343.1 723.2,351.7" fill="#fff" stroke="#000" stroke-width="0.6"/><polygon points="688.6,334.5 723.2,351.7 723.2,377.1 688.6,359.8" fill="#fff" stroke="#000" stroke-width="0.6"/><polygon points="723.2,351.7 740.5,343.1 740.5,368.5 723.2,377.1" fill="#fff" stroke="#000" stroke-width="0.6"/><path d="M705.9 325.8L723.2 334.5M723.2 334.5L740.5 343.1" stroke="#000" stroke-width="1.0" stroke-linecap="round" fill="none"/><use href="#s" x="705.9" y="334.5"/><use href="#s" x="723.2" y="343.1"/>
<polygon points="723.2,351.7 740.5,343.1 809.7,377.6 792.4,386.3" fill="#fff" stroke="#000" stroke-width="0.6"/><polygon points="723.2,351.7 792.4,386.3 792.4,411.6 723.2,377.1" fill="#fff" stroke="#000" stroke-width="0.6"/><polygon points="792.4,386.3 809.7,377.6 809.7,403 792.4,411.6" fill="#fff" stroke="#000" stroke-width="0.6"/><path d="M740.5 343.1L757.8 351.7M757.8 351.7L775.1 360.4M775.1 360.4L792.4 369M792.4 369L809.7 377.6" stroke="#000" stroke-width="1.0" stroke-linecap="round" fill="none"/><use href="#s" x="740.5" y="351.7"/><use href="#s" x="757.8" y="360.4"/><use href="#s" x="775.1" y="369"/><use href="#s" x="792.4" y="377.6"/>
<polygon points="325.3,360.4 342.6,351.7 429.1,394.9 411.8,403.6" fill="#fff" stroke="#000" stroke-width="0.6"/><polygon points="325.3,360.4 411.8,403.6 411.8,428.9 325.3,385.7" fill="#fff" stroke="#000" stroke-width="0.6"/><polygon points="411.8,403.6 429.1,394.9 429.1,420.3 411.8,428.9" fill="#fff" stroke="#000" stroke-width="0.6"/><path d="M342.6 351.7L359.9 360.4M359.9 360.4L377.2 369M377.2 369L394.5 377.6M394.5 377.6L411.8 386.3M411.8 386.3L429.1 394.9" stroke="#000" stroke-width="1.0" stroke-linecap="round" fill="none"/><use href="#s" x="377.2" y="377.6"/><use href="#s" x="394.5" y="386.3"/><use href="#s" x="411.8" y="394.9"/>
<polygon points="273.4,386.3 325.3,360.4 342.6,369 290.7,394.9" fill="#fff" stroke="#000" stroke-width="0.6"/><polygon points="273.4,386.3 290.7,394.9 290.7,420.3 273.4,411.6" fill="#fff" stroke="#000" stroke-width="0.6"/><polygon points="290.7,394.9 342.6,369 342.6,394.4 290.7,420.3" fill="#fff" stroke="#000" stroke-width="0.6"/><path d="M325.3 360.4L308 369M308 369L290.7 377.6M290.7 377.6L273.4 386.3" stroke="#000" stroke-width="1.0" stroke-linecap="round" fill="none"/><use href="#s" x="325.3" y="369"/><use href="#s" x="308" y="377.6"/><use href="#s" x="290.7" y="386.3"/>
<polygon points="792.4,386.3 809.7,377.6 878.9,412.2 861.6,420.8" fill="#fff" stroke="#000" stroke-width="0.6"/><polygon points="792.4,386.3 861.6,420.8 861.6,446.2 792.4,411.6" fill="#fff" stroke="#000" stroke-width="0.6"/><polygon points="861.6,420.8 878.9,412.2 878.9,437.5 861.6,446.2" fill="#fff" stroke="#000" stroke-width="0.6"/><path d="M809.7 377.6L827 386.3M827 386.3L844.3 394.9M844.3 394.9L861.6 403.6M861.6 403.6L878.9 412.2" stroke="#000" stroke-width="1.0" stroke-linecap="round" fill="none"/><use href="#s" x="809.7" y="386.3"/>
<polygon points="671.3,446.7 792.4,386.3 809.7,394.9 688.6,455.4" fill="#fff" stroke="#000" stroke-width="0.6"/><polygon points="671.3,446.7 688.6,455.4 688.6,480.7 671.3,472.1" fill="#fff" stroke="#000" stroke-width="0.6"/><polygon points="688.6,455.4 809.7,394.9 809.7,420.3 688.6,480.7" fill="#fff" stroke="#000" stroke-width="0.6"/><path d="M792.4 386.3L775.1 394.9M775.1 394.9L757.8 403.6M757.8 403.6L740.5 412.2M740.5 412.2L723.2 420.8M723.2 420.8L705.9 429.5M705.9 429.5L688.6 438.1M688.6 438.1L671.3 446.7" stroke="#000" stroke-width="1.0" stroke-linecap="round" fill="none"/><use href="#s" x="792.4" y="394.9"/><use href="#s" x="775.1" y="403.6"/><use href="#s" x="757.8" y="412.2"/><use href="#s" x="740.5" y="420.8"/><use href="#s" x="723.2" y="429.5"/><use href="#s" x="705.9" y="438.1"/><use href="#s" x="688.6" y="446.7"/>
<polygon points="411.8,403.6 429.1,394.9 515.6,438.1 498.3,446.7" fill="#fff" stroke="#000" stroke-width="0.6"/><polygon points="411.8,403.6 498.3,446.7 498.3,472.1 411.8,428.9" fill="#fff" stroke="#000" stroke-width="0.6"/><polygon points="498.3,446.7 515.6,438.1 515.6,463.4 498.3,472.1" fill="#fff" stroke="#000" stroke-width="0.6"/><path d="M429.1 394.9L446.4 403.6M446.4 403.6L463.7 412.2M463.7 412.2L481 420.8M481 420.8L498.3 429.5M498.3 429.5L515.6 438.1" stroke="#000" stroke-width="1.0" stroke-linecap="round" fill="none"/><use href="#s" x="429.1" y="403.6"/><use href="#s" x="446.4" y="412.2"/><use href="#s" x="463.7" y="420.8"/><use href="#s" x="481" y="429.5"/><use href="#s" x="498.3" y="438.1"/>
<polygon points="359.9,429.5 411.8,403.6 429.1,412.2 377.2,438.1" fill="#fff" stroke="#000" stroke-width="0.6"/><polygon points="359.9,429.5 377.2,438.1 377.2,463.4 359.9,454.8" fill="#fff" stroke="#000" stroke-width="0.6"/><polygon points="377.2,438.1 429.1,412.2 429.1,437.5 377.2,463.4" fill="#fff" stroke="#000" stroke-width="0.6"/><path d="M411.8 403.6L394.5 412.2M394.5 412.2L377.2 420.8M377.2 420.8L359.9 429.5" stroke="#000" stroke-width="1.0" stroke-linecap="round" fill="none"/><use href="#s" x="411.8" y="412.2"/><use href="#s" x="394.5" y="420.8"/><use href="#s" x="377.2" y="429.5"/>
<polygon points="498.3,446.7 515.6,438.1 602.1,481.3 584.8,489.9" fill="#fff" stroke="#000" stroke-width="0.6"/><polygon points="498.3,446.7 584.8,489.9 584.8,515.3 498.3,472.1" fill="#fff" stroke="#000" stroke-width="0.6"/><polygon points="584.8,489.9 602.1,481.3 602.1,506.6 584.8,515.3" fill="#fff" stroke="#000" stroke-width="0.6"/><path d="M515.6 438.1L532.9 446.7M532.9 446.7L550.2 455.4M550.2 455.4L567.5 464M567.5 464L584.8 472.6M584.8 472.6L602.1 481.3" stroke="#000" stroke-width="1.0" stroke-linecap="round" fill="none"/><use href="#s" x="515.6" y="446.7"/><use href="#s" x="532.9" y="455.4"/><use href="#s" x="550.2" y="464"/><use href="#s" x="567.5" y="472.6"/><use href="#s" x="584.8" y="481.3"/>
<polygon points="446.4,472.6 498.3,446.7 515.6,455.4 463.7,481.3" fill="#fff" stroke="#000" stroke-width="0.6"/><polygon points="446.4,472.6 463.7,481.3 463.7,506.6 446.4,498" fill="#fff" stroke="#000" stroke-width="0.6"/><polygon points="463.7,481.3 515.6,455.4 515.6,480.7 463.7,506.6" fill="#fff" stroke="#000" stroke-width="0.6"/><path d="M498.3 446.7L481 455.4M481 455.4L463.7 464M463.7 464L446.4 472.6" stroke="#000" stroke-width="1.0" stroke-linecap="round" fill="none"/><use href="#s" x="498.3" y="455.4"/><use href="#s" x="481" y="464"/><use href="#s" x="463.7" y="472.6"/>
<polygon points="532.9,515.8 671.3,446.7 688.6,455.4 550.2,524.4" fill="#fff" stroke="#000" stroke-width="0.6"/><polygon points="532.9,515.8 550.2,524.4 550.2,549.8 532.9,541.2" fill="#fff" stroke="#000" stroke-width="0.6"/><polygon points="550.2,524.4 688.6,455.4 688.6,480.7 550.2,549.8" fill="#fff" stroke="#000" stroke-width="0.6"/><path d="M671.3 446.7L654 455.4M654 455.4L636.7 464M636.7 464L619.4 472.6M619.4 472.6L602.1 481.3M584.8 489.9L567.5 498.5M567.5 498.5L550.2 507.2M550.2 507.2L532.9 515.8" stroke="#000" stroke-width="1.0" stroke-linecap="round" fill="none"/><use href="#s" x="671.3" y="455.4"/><use href="#s" x="654" y="464"/><use href="#s" x="636.7" y="472.6"/><use href="#s" x="619.4" y="481.3"/><use href="#s" x="602.1" y="489.9"/><use href="#s" x="584.8" y="498.5"/><use href="#s" x="567.5" y="507.2"/><use href="#s" x="550.2" y="515.8"/>
<polygon points="602.1,515.4 965.4,334.1 1069.2,385.9 705.9,567.2" fill="#fff" stroke="#000" stroke-width="0.6"/><polygon points="602.1,515.4 705.9,567.2 705.9,575.7 602.1,523.9" fill="#fff" stroke="#000" stroke-width="0.6"/><polygon points="705.9,567.2 1069.2,385.9 1069.2,394.4 705.9,575.7" fill="#fff" stroke="#000" stroke-width="0.6"/><path d="M965.4 334.1L948.1 342.7M948.1 342.7L930.8 351.4M930.8 351.4L913.5 360M913.5 360L896.2 368.6M896.2 368.6L878.9 377.3M878.9 377.3L861.6 385.9M861.6 385.9L844.3 394.5M844.3 394.5L827 403.2M965.4 334.1L982.7 342.7M982.7 342.7L1000 351.4M1000 351.4L1017.3 360M1017.3 360L1034.6 368.6M1034.6 368.6L1051.9 377.3M1051.9 377.3L1069.2 385.9" stroke="#000" stroke-width="1.0" stroke-linecap="round" fill="none"/><use href="#s" x="809.7" y="420.5"/><use href="#s" x="792.4" y="429.1"/><use href="#s" x="775.1" y="437.7"/><use href="#s" x="809.7" y="437.7"/><use href="#s" x="757.8" y="446.4"/><use href="#s" x="792.4" y="446.4"/><use href="#s" x="740.5" y="455"/><use href="#s" x="775.1" y="455"/><use href="#s" x="809.7" y="455"/><use href="#s" x="723.2" y="463.6"/><use href="#s" x="757.8" y="463.6"/><use href="#s" x="792.4" y="463.6"/><use href="#s" x="705.9" y="472.3"/><use href="#s" x="740.5" y="472.3"/><use href="#s" x="775.1" y="472.3"/><use href="#s" x="809.7" y="472.3"/><use href="#s" x="688.6" y="480.9"/><use href="#s" x="723.2" y="480.9"/><use href="#s" x="757.8" y="480.9"/><use href="#s" x="792.4" y="480.9"/><use href="#s" x="671.3" y="489.5"/><use href="#s" x="705.9" y="489.5"/><use href="#s" x="740.5" y="489.5"/><use href="#s" x="775.1" y="489.5"/><use href="#s" x="809.7" y="489.5"/><use href="#s" x="654" y="498.2"/><use href="#s" x="688.6" y="498.2"/><use href="#s" x="723.2" y="498.2"/><use href="#s" x="757.8" y="498.2"/><use href="#s" x="792.4" y="498.2"/><use href="#s" x="636.7" y="506.8"/><use href="#s" x="671.3" y="506.8"/><use href="#s" x="705.9" y="506.8"/><use href="#s" x="740.5" y="506.8"/><use href="#s" x="775.1" y="506.8"/><use href="#s" x="809.7" y="506.8"/><use href="#s" x="619.4" y="515.4"/><use href="#s" x="654" y="515.4"/><use href="#s" x="688.6" y="515.4"/><use href="#s" x="723.2" y="515.4"/><use href="#s" x="757.8" y="515.4"/><use href="#s" x="792.4" y="515.4"/><use href="#s" x="636.7" y="524.1"/><use href="#s" x="671.3" y="524.1"/><use href="#s" x="705.9" y="524.1"/><use href="#s" x="740.5" y="524.1"/><use href="#s" x="775.1" y="524.1"/><use href="#s" x="654" y="532.7"/><use href="#s" x="688.6" y="532.7"/><use href="#s" x="723.2" y="532.7"/><use href="#s" x="757.8" y="532.7"/><use href="#s" x="671.3" y="541.3"/><use href="#s" x="705.9" y="541.3"/><use href="#s" x="740.5" y="541.3"/><use href="#s" x="688.6" y="550"/><use href="#s" x="723.2" y="550"/><use href="#s" x="705.9" y="558.6"/>
<polygon points="705.9,567.2 1069.2,385.9 1173,437.7 809.7,619.1" fill="#fff" stroke="#000" stroke-width="0.6"/><polygon points="705.9,567.2 809.7,619.1 809.7,627.5 705.9,575.7" fill="#fff" stroke="#000" stroke-width="0.6"/><polygon points="809.7,619.1 1173,437.7 1173,446.2 809.7,627.5" fill="#fff" stroke="#000" stroke-width="0.6"/><path d="M1069.2 385.9L1086.5 394.5M1086.5 394.5L1103.8 403.2M1103.8 403.2L1121.1 411.8M1121.1 411.8L1138.4 420.5M1138.4 420.5L1155.7 429.1M1155.7 429.1L1173 437.7" stroke="#000" stroke-width="1.0" stroke-linecap="round" fill="none"/><use href="#s" x="809.7" y="524.1"/><use href="#s" x="792.4" y="532.7"/><use href="#s" x="775.1" y="541.3"/><use href="#s" x="809.7" y="541.3"/><use href="#s" x="757.8" y="550"/><use href="#s" x="792.4" y="550"/><use href="#s" x="740.5" y="558.6"/><use href="#s" x="775.1" y="558.6"/><use href="#s" x="809.7" y="558.6"/><use href="#s" x="723.2" y="567.2"/><use href="#s" x="757.8" y="567.2"/><use href="#s" x="792.4" y="567.2"/>
<polygon points="446.4,188.2 463.7,179.6 567.5,231.4 550.2,240" fill="#fff" stroke="#000" stroke-width="0.6"/><polygon points="446.4,188.2 550.2,240 550.2,265.4 446.4,213.6" fill="#fff" stroke="#000" stroke-width="0.6"/><polygon points="550.2,240 567.5,231.4 567.5,256.8 550.2,265.4" fill="#fff" stroke="#000" stroke-width="0.6"/><path d="M463.7 179.6L446.4 188.2M463.7 179.6L481 188.2M481 188.2L498.3 196.9M498.3 196.9L515.6 205.5M515.6 205.5L532.9 214.1M532.9 214.1L550.2 222.8M550.2 222.8L567.5 231.4" stroke="#000" stroke-width="1.0" stroke-linecap="round" fill="none"/><use href="#s" x="463.7" y="188.2"/><use href="#s" x="481" y="196.9"/><use href="#s" x="498.3" y="205.5"/><use href="#s" x="515.6" y="214.1"/><use href="#s" x="532.9" y="222.8"/><use href="#s" x="550.2" y="231.4"/>
<polygon points="308,257.3 446.4,188.2 463.7,196.9 325.3,265.9" fill="#fff" stroke="#000" stroke-width="0.6"/><polygon points="308,257.3 325.3,265.9 325.3,291.3 308,282.7" fill="#fff" stroke="#000" stroke-width="0.6"/><polygon points="325.3,265.9 463.7,196.9 463.7,222.2 325.3,291.3" fill="#fff" stroke="#000" stroke-width="0.6"/><path d="M446.4 188.2L429.1 196.9M429.1 196.9L411.8 205.5M411.8 205.5L394.5 214.1M394.5 214.1L377.2 222.8M377.2 222.8L359.9 231.4M359.9 231.4L342.6 240M342.6 240L325.3 248.7M325.3 248.7L308 257.3" stroke="#000" stroke-width="1.0" stroke-linecap="round" fill="none"/><use href="#s" x="446.4" y="196.9"/><use href="#s" x="429.1" y="205.5"/><use href="#s" x="411.8" y="214.1"/><use href="#s" x="394.5" y="222.8"/><use href="#s" x="377.2" y="231.4"/><use href="#s" x="359.9" y="240"/><use href="#s" x="342.6" y="248.7"/><use href="#s" x="325.3" y="257.3"/>
<polygon points="550.2,240 567.5,231.4 636.7,265.9 619.4,274.6" fill="#fff" stroke="#000" stroke-width="0.6"/><polygon points="550.2,240 619.4,274.6 619.4,299.9 550.2,265.4" fill="#fff" stroke="#000" stroke-width="0.6"/><polygon points="619.4,274.6 636.7,265.9 636.7,291.3 619.4,299.9" fill="#fff" stroke="#000" stroke-width="0.6"/><path d="M567.5 231.4L584.8 240M584.8 240L602.1 248.7M602.1 248.7L619.4 257.3M619.4 257.3L636.7 265.9" stroke="#000" stroke-width="1.0" stroke-linecap="round" fill="none"/><use href="#s" x="567.5" y="240"/><use href="#s" x="584.8" y="248.7"/><use href="#s" x="602.1" y="257.3"/><use href="#s" x="619.4" y="265.9"/>
<polygon points="204.2,309.1 308,257.3 325.3,265.9 221.5,317.8" fill="#fff" stroke="#000" stroke-width="0.6"/><polygon points="204.2,309.1 221.5,317.8 221.5,343.1 204.2,334.5" fill="#fff" stroke="#000" stroke-width="0.6"/><polygon points="221.5,317.8 325.3,265.9 325.3,291.3 221.5,343.1" fill="#fff" stroke="#000" stroke-width="0.6"/><path d="M308 257.3L290.7 265.9M290.7 265.9L273.4 274.6M273.4 274.6L256.1 283.2M256.1 283.2L238.8 291.9M238.8 291.9L221.5 300.5M221.5 300.5L204.2 309.1" stroke="#000" stroke-width="1.0" stroke-linecap="round" fill="none"/><use href="#s" x="308" y="265.9"/><use href="#s" x="290.7" y="274.6"/><use href="#s" x="273.4" y="283.2"/><use href="#s" x="256.1" y="291.9"/><use href="#s" x="238.8" y="300.5"/><use href="#s" x="221.5" y="309.1"/>
<polygon points="256.1,300.5 273.4,291.9 377.2,343.7 359.9,352.3" fill="#fff" stroke="#000" stroke-width="0.6"/><polygon points="256.1,300.5 359.9,352.3 359.9,377.6 256.1,325.8" fill="#fff" stroke="#000" stroke-width="0.6"/><polygon points="359.9,352.3 377.2,343.7 377.2,369 359.9,377.6" fill="#fff" stroke="#000" stroke-width="0.6"/><path d="M273.4 291.9L290.7 300.5M290.7 300.5L308 309.1M308 309.1L325.3 317.8M325.3 317.8L342.6 326.4M342.6 326.4L359.9 335M359.9 335L377.2 343.7" stroke="#000" stroke-width="1.0" stroke-linecap="round" fill="none"/><use href="#s" x="273.4" y="300.5"/><use href="#s" x="290.7" y="309.1"/><use href="#s" x="308" y="317.8"/><use href="#s" x="325.3" y="326.4"/><use href="#s" x="342.6" y="335"/><use href="#s" x="359.9" y="343.7"/><path d="M213.3 302.6 L203.4 307.6 L202.5 308.6 L202.4 334.5 L202.8 335.5 L203.4 336 L220.7 344.7 L221.8 344.8 L256.1 327.8 L359.1 379.2 L360 379.4 L378 370.6 L378.7 369.9 L378.9 369 L378.9 343.7 L378.6 342.7 L378 342.1 L368.1 337.1 L367.1 336.1 L365.7 335.2 L362.1 334.2 L350.8 328.5 L349.8 327.5 L348.4 326.6 L344.8 325.5 L333.5 319.9 L332.5 318.9 L331.1 318 L327.5 316.9 L316.2 311.2 L315.2 310.2 L313.8 309.3 L310.2 308.3 L302.7 304.5 L463.7 224.2 L619 301.6 L620.2 301.5 L637.5 292.9 L638.2 292.1 L638.5 291.3 L638.4 265.8 L638.1 265 L637.6 264.5 L627.6 259.4 L626.6 258.4 L625.2 257.5 L621.6 256.5 L610.3 250.8 L609.3 249.8 L607.9 248.9 L604.3 247.8 L593 242.2 L592 241.2 L590.6 240.3 L587 239.2 L575.7 233.5 L574.7 232.5 L573.3 231.6 L569.7 230.5 L558.4 224.9 L557.4 223.9 L556 223 L552.4 221.9 L541.1 216.3 L540.1 215.3 L538.7 214.4 L535.1 213.3 L523.8 207.6 L522.8 206.6 L521.4 205.7 L517.8 204.6 L506.5 199 L505.6 198 L504.4 197.2 L502.5 196.4 L500.5 196 L489.2 190.4 L488.2 189.3 L486.8 188.4 L483.2 187.4 L471.9 181.7 L470.9 180.7 L469.5 179.8 L463.6 177.9 L461.5 178.7 L457.9 179.8 L456.5 180.7 L455.5 181.7 L444.2 187.4 L440.6 188.4 L439.2 189.3 L438.2 190.4 L426.9 196 L423.3 197.1 L421.9 198 L420.9 199 L409.6 204.6 L406 205.7 L404.6 206.6 L403.6 207.6 L392.3 213.3 L388.7 214.4 L387.3 215.3 L386.3 216.3 L375 221.9 L371.4 223 L370 223.9 L369 224.9 L357.7 230.5 L354.1 231.6 L352.7 232.5 L351.7 233.5 L340.4 239.2 L336.8 240.3 L335.4 241.2 L334.4 242.2 L323.1 247.8 L319.5 248.9 L318.1 249.8 L317.1 250.8 L305.8 256.5 L302.2 257.5 L300.8 258.4 L299.8 259.4 L288.5 265.1 L284.9 266.2 L283.5 267.1 L282.5 268.1 L271.2 273.7 L267.6 274.8 L266.2 275.7 L265.2 276.7 L253.9 282.4 L250.3 283.4 L248.9 284.3 L247.9 285.3 L236.6 291 L233.2 291.9 L231.8 292.8 L230.6 294 L219.3 299.6 L217.3 300.1 L215.6 300.7 L214.3 301.6 L213.3 302.6 Z" fill="none" stroke="#29e9a0" stroke-width="3.3" stroke-linejoin="round"/></g><rect x="170" y="555.4" width="672" height="30" fill="#fff"/><rect x="801.3" y="150" width="41" height="420" fill="#fff"/></svg>


<svg width="842" height="596" viewBox="0 0 842 596" style="position:absolute;left:0;top:0"><rect x="161.65" y="47.85" width="228.5" height="91.55" fill="#dbeefd" stroke="#000" stroke-width="1.8"/><polygon points="173.7,93.9 210,76.3 217.5,82.4 180.6,97.7" fill="#fff" stroke="#000" stroke-width="0.9" stroke-linejoin="round"/><polygon points="173.7,93.9 180.6,97.7 180.6,109.9 173.7,104" fill="#fff" stroke="#000" stroke-width="0.9" stroke-linejoin="round"/><polygon points="180.6,97.7 217.5,82.4 217.5,92.2 180.6,109.9" fill="#fff" stroke="#000" stroke-width="0.9" stroke-linejoin="round"/><path d="M178 93.1 v1.5 a3.4 1.7 0 0 0 6.8 0 v-1.5 z" fill="#000" stroke="#000" stroke-width="0.5"/><ellipse cx="181.4" cy="93.1" rx="3.4" ry="1.7" fill="#fff" stroke="#000" stroke-width="0.6"/><path d="M187.1 88.9 v1.5 a3.4 1.7 0 0 0 6.8 0 v-1.5 z" fill="#000" stroke="#000" stroke-width="0.5"/><ellipse cx="190.5" cy="88.9" rx="3.4" ry="1.7" fill="#fff" stroke="#000" stroke-width="0.6"/><path d="M196.3 84.7 v1.5 a3.4 1.7 0 0 0 6.8 0 v-1.5 z" fill="#000" stroke="#000" stroke-width="0.5"/><ellipse cx="199.7" cy="84.7" rx="3.4" ry="1.7" fill="#fff" stroke="#000" stroke-width="0.6"/><path d="M205.7 80.2 v1.5 a3.4 1.7 0 0 0 6.8 0 v-1.5 z" fill="#000" stroke="#000" stroke-width="0.5"/><ellipse cx="209.1" cy="80.2" rx="3.4" ry="1.7" fill="#fff" stroke="#000" stroke-width="0.6"/><polygon points="227.7,94 282.3,68.1 289.8,74.3 234.6,98.3" fill="#fff" stroke="#000" stroke-width="0.9" stroke-linejoin="round"/><polygon points="227.7,94 234.6,98.3 234.6,110.2 227.7,105" fill="#fff" stroke="#000" stroke-width="0.9" stroke-linejoin="round"/><polygon points="234.6,98.3 289.8,74.3 289.8,84.4 234.6,110.2" fill="#fff" stroke="#000" stroke-width="0.9" stroke-linejoin="round"/><path d="M232.5 93 v1.5 a3.4 1.7 0 0 0 6.8 0 v-1.5 z" fill="#000" stroke="#000" stroke-width="0.5"/><ellipse cx="235.9" cy="93" rx="3.4" ry="1.7" fill="#fff" stroke="#000" stroke-width="0.6"/><path d="M241.3 88.5 v1.5 a3.4 1.7 0 0 0 6.8 0 v-1.5 z" fill="#000" stroke="#000" stroke-width="0.5"/><ellipse cx="244.7" cy="88.5" rx="3.4" ry="1.7" fill="#fff" stroke="#000" stroke-width="0.6"/><path d="M250.2 84.4 v1.5 a3.4 1.7 0 0 0 6.8 0 v-1.5 z" fill="#000" stroke="#000" stroke-width="0.5"/><ellipse cx="253.6" cy="84.4" rx="3.4" ry="1.7" fill="#fff" stroke="#000" stroke-width="0.6"/><path d="M259.6 80.1 v1.5 a3.4 1.7 0 0 0 6.8 0 v-1.5 z" fill="#000" stroke="#000" stroke-width="0.5"/><ellipse cx="263" cy="80.1" rx="3.4" ry="1.7" fill="#fff" stroke="#000" stroke-width="0.6"/><path d="M268.8 76.3 v1.5 a3.4 1.7 0 0 0 6.8 0 v-1.5 z" fill="#000" stroke="#000" stroke-width="0.5"/><ellipse cx="272.2" cy="76.3" rx="3.4" ry="1.7" fill="#fff" stroke="#000" stroke-width="0.6"/><path d="M277.9 72 v1.5 a3.4 1.7 0 0 0 6.8 0 v-1.5 z" fill="#000" stroke="#000" stroke-width="0.5"/><ellipse cx="281.3" cy="72" rx="3.4" ry="1.7" fill="#fff" stroke="#000" stroke-width="0.6"/><polygon points="299.4,94.3 372.1,59.8 379.6,66.1 306.3,98.7" fill="#fff" stroke="#000" stroke-width="0.9" stroke-linejoin="round"/><polygon points="299.4,94.3 306.3,98.7 306.3,110.4 299.4,105.4" fill="#fff" stroke="#000" stroke-width="0.9" stroke-linejoin="round"/><polygon points="306.3,98.7 379.6,66.1 379.6,76.4 306.3,110.4" fill="#fff" stroke="#000" stroke-width="0.9" stroke-linejoin="round"/><path d="M304.1 93.5 v1.5 a3.4 1.7 0 0 0 6.8 0 v-1.5 z" fill="#000" stroke="#000" stroke-width="0.5"/><ellipse cx="307.5" cy="93.5" rx="3.4" ry="1.7" fill="#fff" stroke="#000" stroke-width="0.6"/><path d="M313 89.5 v1.5 a3.4 1.7 0 0 0 6.8 0 v-1.5 z" fill="#000" stroke="#000" stroke-width="0.5"/><ellipse cx="316.4" cy="89.5" rx="3.4" ry="1.7" fill="#fff" stroke="#000" stroke-width="0.6"/><path d="M322 85.1 v1.5 a3.4 1.7 0 0 0 6.8 0 v-1.5 z" fill="#000" stroke="#000" stroke-width="0.5"/><ellipse cx="325.4" cy="85.1" rx="3.4" ry="1.7" fill="#fff" stroke="#000" stroke-width="0.6"/><path d="M331.2 80.6 v1.5 a3.4 1.7 0 0 0 6.8 0 v-1.5 z" fill="#000" stroke="#000" stroke-width="0.5"/><ellipse cx="334.6" cy="80.6" rx="3.4" ry="1.7" fill="#fff" stroke="#000" stroke-width="0.6"/><path d="M340.4 76.4 v1.5 a3.4 1.7 0 0 0 6.8 0 v-1.5 z" fill="#000" stroke="#000" stroke-width="0.5"/><ellipse cx="343.8" cy="76.4" rx="3.4" ry="1.7" fill="#fff" stroke="#000" stroke-width="0.6"/><path d="M349.6 72 v1.5 a3.4 1.7 0 0 0 6.8 0 v-1.5 z" fill="#000" stroke="#000" stroke-width="0.5"/><ellipse cx="353" cy="72" rx="3.4" ry="1.7" fill="#fff" stroke="#000" stroke-width="0.6"/><path d="M358.9 67.9 v1.5 a3.4 1.7 0 0 0 6.8 0 v-1.5 z" fill="#000" stroke="#000" stroke-width="0.5"/><ellipse cx="362.3" cy="67.9" rx="3.4" ry="1.7" fill="#fff" stroke="#000" stroke-width="0.6"/><path d="M367.9 63.7 v1.5 a3.4 1.7 0 0 0 6.8 0 v-1.5 z" fill="#000" stroke="#000" stroke-width="0.5"/><ellipse cx="371.3" cy="63.7" rx="3.4" ry="1.7" fill="#fff" stroke="#000" stroke-width="0.6"/><path d="M71.9 49.8 L71.9 93 L63.1 93 L63.1 62 Q58.8 66.2 52.6 68.5 L52.6 61.1 Q61.5 57.5 65.2 49.8 Z" fill="#000"/><path d="M83.7 51 L111.8 51 L111.8 56.5 Q105.5 64 102.6 71.2 Q99.3 80 98.2 93 L89.3 93 Q90.2 81 94.2 71.2 Q97.5 63.5 101.7 58.6 L83.7 58.6 Z" fill="#000"/><path d="M71.9 49.8 L71.9 93 L63.1 93 L63.1 62 Q58.8 66.2 52.6 68.5 L52.6 61.1 Q61.5 57.5 65.2 49.8 Z" fill="#000" transform="translate(66.8 0)"/>
<g font-family="Liberation Sans, sans-serif" font-size="12.8" fill="#000" stroke="#000" stroke-width="0.08"><text x="173.3" y="121.6">1x</text><text x="227" y="121.6">3x</text><text x="298.5" y="121.6">1x</text></g>
<rect x="0" y="594.4" width="842" height="1.6" fill="#bdbdbd"/>
</svg>

</body></html>
